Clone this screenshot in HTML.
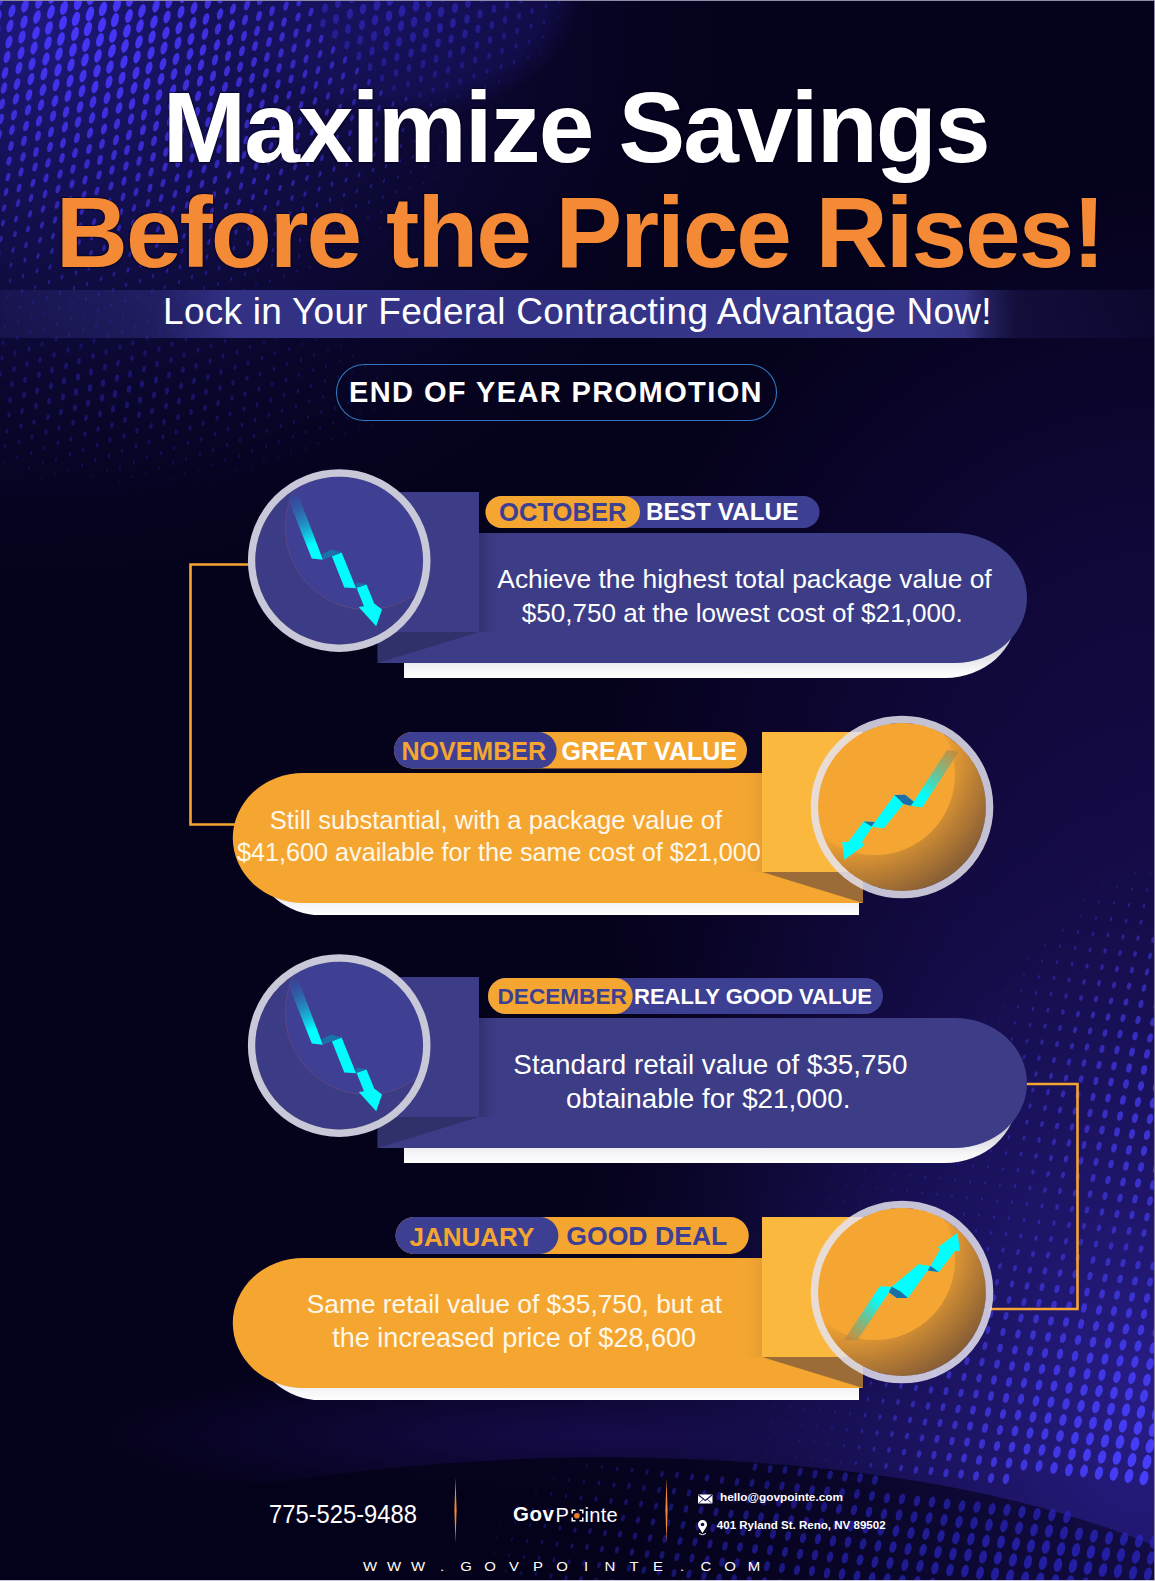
<!DOCTYPE html>
<html><head><meta charset="utf-8">
<style>
html,body{margin:0;padding:0;}
body{width:1155px;height:1581px;overflow:hidden;position:relative;background:#05021c;font-family:"Liberation Sans",sans-serif;}
#bg{position:absolute;left:0;top:0;}
.t{position:absolute;white-space:nowrap;line-height:1;}
.title1{left:0;width:1155px;text-align:center;top:76px;font-size:100px;font-weight:bold;color:#fff;letter-spacing:-2.4px;}
.title2{left:0;width:1155px;text-align:center;top:181px;font-size:100px;font-weight:bold;color:#f48a35;letter-spacing:-2.6px;}
.sub{left:0;width:1155px;text-align:center;top:291px;font-size:37px;color:#fff;}
.promo{left:336px;top:364px;width:441px;height:57px;border:1.5px solid #2b78d4;border-radius:29px;box-sizing:border-box;}
.promoT{left:336px;width:441px;text-align:center;top:378px;font-size:29px;font-weight:bold;color:#fff;letter-spacing:1.2px;}
.body{color:#fff;text-align:center;line-height:33px;font-size:26px;}
.ob{color:#fff8ea;}
.lab{font-weight:bold;font-size:25px;}
</style></head><body>
<svg id="bg" width="1155" height="1581" viewBox="0 0 1155 1581">
<defs>
 <linearGradient id="shW" x1="0" y1="0" x2="0" y2="1">
  <stop offset="0.75" stop-color="#cfcfd6"/><stop offset="0.92" stop-color="#f4f4f7"/><stop offset="1" stop-color="#ffffff"/>
 </linearGradient>
 <linearGradient id="sqShB" x1="0" y1="0" x2="1" y2="0">
  <stop offset="0" stop-color="#2c2d66" stop-opacity="0.7"/><stop offset="1" stop-color="#3c3d86" stop-opacity="0"/>
 </linearGradient>
 <linearGradient id="sqShO" x1="1" y1="0" x2="0" y2="0">
  <stop offset="0" stop-color="#b07a30" stop-opacity="0.22"/><stop offset="1" stop-color="#f5a631" stop-opacity="0"/>
 </linearGradient>
 <linearGradient id="band" x1="0" y1="0" x2="1" y2="0">
  <stop offset="0" stop-color="#2d2a7a" stop-opacity="0.3"/>
  <stop offset="0.13" stop-color="#2f2d80" stop-opacity="0.55"/>
  <stop offset="0.2" stop-color="#36358c" stop-opacity="0.9"/>
  <stop offset="0.8" stop-color="#3a3a92" stop-opacity="0.95"/>
  <stop offset="0.835" stop-color="#3d3d96" stop-opacity="0.85"/>
  <stop offset="0.88" stop-color="#2a2870" stop-opacity="0.3"/>
  <stop offset="1" stop-color="#2a2870" stop-opacity="0.1"/>
 </linearGradient>
 <radialGradient id="oCres" cx="0.2" cy="0.15" r="1.0">
  <stop offset="0.55" stop-color="#f2a333"/><stop offset="1" stop-color="#7a5535"/>
 </radialGradient>
 <linearGradient id="arB" gradientUnits="userSpaceOnUse" x1="290" y1="496" x2="312" y2="545">
  <stop offset="0" stop-color="#2e4aa0" stop-opacity="0.3"/><stop offset="1" stop-color="#00ffff"/>
 </linearGradient>
 <linearGradient id="arB3" gradientUnits="userSpaceOnUse" x1="290" y1="981" x2="312" y2="1030">
  <stop offset="0" stop-color="#2e4aa0" stop-opacity="0.3"/><stop offset="1" stop-color="#00ffff"/>
 </linearGradient>
 <linearGradient id="arO2" gradientUnits="userSpaceOnUse" x1="953" y1="752" x2="922" y2="795">
  <stop offset="0" stop-color="#b08a48" stop-opacity="0.7"/><stop offset="1" stop-color="#00ffff"/>
 </linearGradient>
 <linearGradient id="arO4" gradientUnits="userSpaceOnUse" x1="850" y1="1338" x2="880" y2="1300">
  <stop offset="0" stop-color="#b08a48" stop-opacity="0.7"/><stop offset="1" stop-color="#00ffff"/>
 </linearGradient>
 <clipPath id="cB1"><circle cx="339.2" cy="560.6" r="84"/></clipPath>
 <clipPath id="cB3"><circle cx="339.2" cy="1045.6" r="84"/></clipPath>
 <clipPath id="cO2"><circle cx="902" cy="807" r="84"/></clipPath>
 <clipPath id="cO4"><circle cx="902" cy="1292" r="84"/></clipPath>
</defs>
<rect width="1155" height="1581" fill="#05021c"/><defs>
<radialGradient id="gA" cx="0" cy="0" r="1" gradientUnits="userSpaceOnUse" gradientTransform="translate(40 30) scale(700 560)">
 <stop offset="0" stop-color="#221c8c" stop-opacity="0.85"/>
 <stop offset="0.45" stop-color="#17135a" stop-opacity="0.6"/>
 <stop offset="1" stop-color="#0a0630" stop-opacity="0"/>
</radialGradient>
<radialGradient id="gB" cx="0" cy="0" r="1" gradientUnits="userSpaceOnUse" gradientTransform="translate(1155 1400) scale(600 720)">
 <stop offset="0" stop-color="#281d88" stop-opacity="1"/>
 <stop offset="0.5" stop-color="#1b1360" stop-opacity="0.8"/>
 <stop offset="1" stop-color="#120c40" stop-opacity="0"/>
</radialGradient>
<radialGradient id="gT" cx="0" cy="0" r="1" gradientUnits="userSpaceOnUse" gradientTransform="translate(1155 820) scale(560 640)">
 <stop offset="0" stop-color="#140a44" stop-opacity="1"/>
 <stop offset="0.4" stop-color="#140a44" stop-opacity="0.75"/>
 <stop offset="1" stop-color="#140a44" stop-opacity="0"/>
</radialGradient>
<radialGradient id="gL" cx="0" cy="0" r="1" gradientUnits="userSpaceOnUse" gradientTransform="translate(620 1435) scale(520 75)">
 <stop offset="0" stop-color="#180d50" stop-opacity="0.9"/>
 <stop offset="1" stop-color="#180d50" stop-opacity="0"/>
</radialGradient>
<radialGradient id="gDome" cx="0.5" cy="0.5" r="0.5">
 <stop offset="0" stop-color="#1c1670" stop-opacity="0.7"/>
 <stop offset="0.8" stop-color="#1a1466" stop-opacity="0.5"/>
 <stop offset="1" stop-color="#1a1466" stop-opacity="0"/>
</radialGradient>
<linearGradient id="gArch" x1="0" y1="0" x2="1" y2="0">
 <stop offset="0" stop-color="#04021a" stop-opacity="0.92"/>
 <stop offset="0.55" stop-color="#04021a" stop-opacity="0.85"/>
 <stop offset="1" stop-color="#04021a" stop-opacity="0.5"/>
</linearGradient>
</defs>
<rect width="1155" height="1581" fill="url(#gT)"/>
<rect width="1155" height="1581" fill="url(#gL)"/>
<rect width="1155" height="1581" fill="url(#gA)"/>
<rect width="1155" height="1581" fill="url(#gB)"/>
<ellipse cx="395" cy="-10" rx="190" ry="130" fill="url(#gDome)"/>
<g fill="#4838ff"><ellipse cx="0" cy="0" rx="3.2" ry="6.3" opacity="0.85" transform="rotate(16 0 0)"/><ellipse cx="14" cy="-5" rx="3.3" ry="6.5" opacity="0.87" transform="rotate(16 14 -5)"/><ellipse cx="27" cy="-9" rx="3.3" ry="6.6" opacity="0.88" transform="rotate(16 27 -9)"/><ellipse cx="-2" cy="16" rx="3.2" ry="6.3" opacity="0.85" transform="rotate(16 -2 16)"/><ellipse cx="12" cy="11" rx="3.3" ry="6.5" opacity="0.87" transform="rotate(16 12 11)"/><ellipse cx="25" cy="6" rx="3.4" ry="6.7" opacity="0.89" transform="rotate(16 25 6)"/><ellipse cx="39" cy="2" rx="3.4" ry="6.9" opacity="0.91" transform="rotate(16 39 2)"/><ellipse cx="52" cy="-3" rx="3.5" ry="7.0" opacity="0.93" transform="rotate(16 52 -3)"/><ellipse cx="66" cy="-8" rx="3.5" ry="7.1" opacity="0.94" transform="rotate(16 66 -8)"/><ellipse cx="-3" cy="31" rx="3.1" ry="6.3" opacity="0.84" transform="rotate(16 -3 31)"/><ellipse cx="10" cy="26" rx="3.2" ry="6.5" opacity="0.87" transform="rotate(16 10 26)"/><ellipse cx="24" cy="22" rx="3.3" ry="6.7" opacity="0.89" transform="rotate(16 24 22)"/><ellipse cx="37" cy="17" rx="3.4" ry="6.9" opacity="0.91" transform="rotate(16 37 17)"/><ellipse cx="51" cy="12" rx="3.5" ry="7.1" opacity="0.94" transform="rotate(16 51 12)"/><ellipse cx="64" cy="8" rx="3.6" ry="7.2" opacity="0.96" transform="rotate(16 64 8)"/><ellipse cx="78" cy="3" rx="3.7" ry="7.3" opacity="0.97" transform="rotate(16 78 3)"/><ellipse cx="91" cy="-2" rx="3.7" ry="7.3" opacity="0.97" transform="rotate(16 91 -2)"/><ellipse cx="105" cy="-6" rx="3.6" ry="7.2" opacity="0.95" transform="rotate(16 105 -6)"/><ellipse cx="-5" cy="46" rx="3.1" ry="6.2" opacity="0.83" transform="rotate(16 -5 46)"/><ellipse cx="9" cy="42" rx="3.2" ry="6.4" opacity="0.85" transform="rotate(16 9 42)"/><ellipse cx="22" cy="37" rx="3.3" ry="6.6" opacity="0.88" transform="rotate(16 22 37)"/><ellipse cx="36" cy="33" rx="3.4" ry="6.8" opacity="0.90" transform="rotate(16 36 33)"/><ellipse cx="49" cy="28" rx="3.5" ry="7.0" opacity="0.93" transform="rotate(16 49 28)"/><ellipse cx="63" cy="23" rx="3.6" ry="7.2" opacity="0.95" transform="rotate(16 63 23)"/><ellipse cx="76" cy="19" rx="3.7" ry="7.4" opacity="0.98" transform="rotate(16 76 19)"/><ellipse cx="90" cy="14" rx="3.8" ry="7.6" opacity="1.00" transform="rotate(16 90 14)"/><ellipse cx="103" cy="9" rx="3.7" ry="7.4" opacity="0.98" transform="rotate(16 103 9)"/><ellipse cx="117" cy="5" rx="3.6" ry="7.2" opacity="0.95" transform="rotate(16 117 5)"/><ellipse cx="130" cy="0" rx="3.5" ry="7.0" opacity="0.93" transform="rotate(16 130 0)"/><ellipse cx="144" cy="-5" rx="3.4" ry="6.8" opacity="0.90" transform="rotate(16 144 -5)"/><ellipse cx="157" cy="-9" rx="3.3" ry="6.6" opacity="0.88" transform="rotate(16 157 -9)"/><ellipse cx="-6" cy="62" rx="3.0" ry="6.0" opacity="0.81" transform="rotate(16 -6 62)"/><ellipse cx="7" cy="57" rx="3.1" ry="6.2" opacity="0.84" transform="rotate(16 7 57)"/><ellipse cx="21" cy="53" rx="3.2" ry="6.4" opacity="0.86" transform="rotate(16 21 53)"/><ellipse cx="34" cy="48" rx="3.3" ry="6.6" opacity="0.88" transform="rotate(16 34 48)"/><ellipse cx="48" cy="43" rx="3.4" ry="6.8" opacity="0.91" transform="rotate(16 48 43)"/><ellipse cx="61" cy="39" rx="3.5" ry="7.0" opacity="0.93" transform="rotate(16 61 39)"/><ellipse cx="75" cy="34" rx="3.6" ry="7.2" opacity="0.95" transform="rotate(16 75 34)"/><ellipse cx="88" cy="29" rx="3.7" ry="7.4" opacity="0.97" transform="rotate(16 88 29)"/><ellipse cx="102" cy="25" rx="3.7" ry="7.4" opacity="0.97" transform="rotate(16 102 25)"/><ellipse cx="115" cy="20" rx="3.6" ry="7.3" opacity="0.96" transform="rotate(16 115 20)"/><ellipse cx="129" cy="16" rx="3.5" ry="7.1" opacity="0.94" transform="rotate(16 129 16)"/><ellipse cx="142" cy="11" rx="3.4" ry="6.9" opacity="0.91" transform="rotate(16 142 11)"/><ellipse cx="156" cy="6" rx="3.3" ry="6.7" opacity="0.89" transform="rotate(16 156 6)"/><ellipse cx="169" cy="2" rx="3.2" ry="6.5" opacity="0.87" transform="rotate(16 169 2)"/><ellipse cx="183" cy="-3" rx="3.1" ry="6.3" opacity="0.84" transform="rotate(16 183 -3)"/><ellipse cx="196" cy="-8" rx="3.0" ry="6.1" opacity="0.82" transform="rotate(16 196 -8)"/><ellipse cx="-8" cy="78" rx="2.9" ry="5.9" opacity="0.79" transform="rotate(16 -8 78)"/><ellipse cx="5" cy="73" rx="3.0" ry="6.1" opacity="0.81" transform="rotate(16 5 73)"/><ellipse cx="19" cy="68" rx="3.1" ry="6.3" opacity="0.84" transform="rotate(16 19 68)"/><ellipse cx="32" cy="64" rx="3.2" ry="6.4" opacity="0.86" transform="rotate(16 32 64)"/><ellipse cx="46" cy="59" rx="3.3" ry="6.6" opacity="0.88" transform="rotate(16 46 59)"/><ellipse cx="59" cy="54" rx="3.4" ry="6.8" opacity="0.90" transform="rotate(16 59 54)"/><ellipse cx="73" cy="50" rx="3.5" ry="7.0" opacity="0.92" transform="rotate(16 73 50)"/><ellipse cx="86" cy="45" rx="3.5" ry="7.1" opacity="0.94" transform="rotate(16 86 45)"/><ellipse cx="100" cy="40" rx="3.6" ry="7.1" opacity="0.95" transform="rotate(16 100 40)"/><ellipse cx="113" cy="36" rx="3.6" ry="7.1" opacity="0.94" transform="rotate(16 113 36)"/><ellipse cx="127" cy="31" rx="3.5" ry="7.0" opacity="0.93" transform="rotate(16 127 31)"/><ellipse cx="140" cy="26" rx="3.4" ry="6.9" opacity="0.91" transform="rotate(16 140 26)"/><ellipse cx="154" cy="22" rx="3.4" ry="6.7" opacity="0.89" transform="rotate(16 154 22)"/><ellipse cx="167" cy="17" rx="3.3" ry="6.5" opacity="0.87" transform="rotate(16 167 17)"/><ellipse cx="181" cy="12" rx="3.2" ry="6.4" opacity="0.85" transform="rotate(16 181 12)"/><ellipse cx="194" cy="8" rx="3.1" ry="6.2" opacity="0.83" transform="rotate(16 194 8)"/><ellipse cx="208" cy="3" rx="3.0" ry="6.0" opacity="0.80" transform="rotate(16 208 3)"/><ellipse cx="221" cy="-2" rx="2.9" ry="5.8" opacity="0.78" transform="rotate(16 221 -2)"/><ellipse cx="235" cy="-6" rx="2.8" ry="5.6" opacity="0.75" transform="rotate(16 235 -6)"/><ellipse cx="-10" cy="93" rx="2.8" ry="5.7" opacity="0.76" transform="rotate(16 -10 93)"/><ellipse cx="4" cy="88" rx="2.9" ry="5.8" opacity="0.79" transform="rotate(16 4 88)"/><ellipse cx="17" cy="84" rx="3.0" ry="6.0" opacity="0.81" transform="rotate(16 17 84)"/><ellipse cx="31" cy="79" rx="3.1" ry="6.2" opacity="0.83" transform="rotate(16 31 79)"/><ellipse cx="44" cy="74" rx="3.2" ry="6.4" opacity="0.85" transform="rotate(16 44 74)"/><ellipse cx="58" cy="70" rx="3.3" ry="6.6" opacity="0.87" transform="rotate(16 58 70)"/><ellipse cx="71" cy="65" rx="3.3" ry="6.7" opacity="0.89" transform="rotate(16 71 65)"/><ellipse cx="85" cy="60" rx="3.4" ry="6.8" opacity="0.90" transform="rotate(16 85 60)"/><ellipse cx="98" cy="56" rx="3.4" ry="6.9" opacity="0.91" transform="rotate(16 98 56)"/><ellipse cx="112" cy="51" rx="3.5" ry="6.9" opacity="0.92" transform="rotate(16 112 51)"/><ellipse cx="125" cy="46" rx="3.4" ry="6.9" opacity="0.91" transform="rotate(16 125 46)"/><ellipse cx="139" cy="42" rx="3.4" ry="6.8" opacity="0.90" transform="rotate(16 139 42)"/><ellipse cx="152" cy="37" rx="3.3" ry="6.7" opacity="0.89" transform="rotate(16 152 37)"/><ellipse cx="166" cy="33" rx="3.3" ry="6.5" opacity="0.87" transform="rotate(16 166 33)"/><ellipse cx="179" cy="28" rx="3.2" ry="6.4" opacity="0.85" transform="rotate(16 179 28)"/><ellipse cx="193" cy="23" rx="3.1" ry="6.2" opacity="0.83" transform="rotate(16 193 23)"/><ellipse cx="206" cy="19" rx="3.0" ry="6.0" opacity="0.81" transform="rotate(16 206 19)"/><ellipse cx="220" cy="14" rx="2.9" ry="5.8" opacity="0.78" transform="rotate(16 220 14)"/><ellipse cx="233" cy="9" rx="2.8" ry="5.6" opacity="0.76" transform="rotate(16 233 9)"/><ellipse cx="247" cy="5" rx="2.7" ry="5.4" opacity="0.73" transform="rotate(16 247 5)"/><ellipse cx="260" cy="0" rx="2.6" ry="5.2" opacity="0.71" transform="rotate(16 260 0)"/><ellipse cx="274" cy="-5" rx="2.5" ry="5.0" opacity="0.68" transform="rotate(16 274 -5)"/><ellipse cx="287" cy="-9" rx="2.4" ry="4.8" opacity="0.66" transform="rotate(16 287 -9)"/><ellipse cx="2" cy="104" rx="2.8" ry="5.6" opacity="0.76" transform="rotate(16 2 104)"/><ellipse cx="16" cy="99" rx="2.9" ry="5.8" opacity="0.78" transform="rotate(16 16 99)"/><ellipse cx="29" cy="95" rx="3.0" ry="6.0" opacity="0.80" transform="rotate(16 29 95)"/><ellipse cx="43" cy="90" rx="3.1" ry="6.1" opacity="0.82" transform="rotate(16 43 90)"/><ellipse cx="56" cy="85" rx="3.1" ry="6.3" opacity="0.84" transform="rotate(16 56 85)"/><ellipse cx="70" cy="81" rx="3.2" ry="6.4" opacity="0.86" transform="rotate(16 70 81)"/><ellipse cx="83" cy="76" rx="3.3" ry="6.5" opacity="0.87" transform="rotate(16 83 76)"/><ellipse cx="97" cy="71" rx="3.3" ry="6.6" opacity="0.88" transform="rotate(16 97 71)"/><ellipse cx="110" cy="67" rx="3.3" ry="6.7" opacity="0.89" transform="rotate(16 110 67)"/><ellipse cx="124" cy="62" rx="3.3" ry="6.7" opacity="0.89" transform="rotate(16 124 62)"/><ellipse cx="137" cy="57" rx="3.3" ry="6.6" opacity="0.88" transform="rotate(16 137 57)"/><ellipse cx="151" cy="53" rx="3.3" ry="6.5" opacity="0.87" transform="rotate(16 151 53)"/><ellipse cx="164" cy="48" rx="3.2" ry="6.4" opacity="0.86" transform="rotate(16 164 48)"/><ellipse cx="178" cy="43" rx="3.2" ry="6.3" opacity="0.84" transform="rotate(16 178 43)"/><ellipse cx="191" cy="39" rx="3.1" ry="6.2" opacity="0.82" transform="rotate(16 191 39)"/><ellipse cx="205" cy="34" rx="3.0" ry="6.0" opacity="0.80" transform="rotate(16 205 34)"/><ellipse cx="218" cy="29" rx="2.9" ry="5.8" opacity="0.78" transform="rotate(16 218 29)"/><ellipse cx="232" cy="25" rx="2.8" ry="5.6" opacity="0.76" transform="rotate(16 232 25)"/><ellipse cx="245" cy="20" rx="2.7" ry="5.4" opacity="0.74" transform="rotate(16 245 20)"/><ellipse cx="259" cy="16" rx="2.6" ry="5.2" opacity="0.71" transform="rotate(16 259 16)"/><ellipse cx="272" cy="11" rx="2.5" ry="5.0" opacity="0.69" transform="rotate(16 272 11)"/><ellipse cx="286" cy="6" rx="2.4" ry="4.8" opacity="0.66" transform="rotate(16 286 6)"/><ellipse cx="299" cy="2" rx="2.3" ry="4.6" opacity="0.64" transform="rotate(16 299 2)"/><ellipse cx="1" cy="119" rx="2.7" ry="5.4" opacity="0.73" transform="rotate(16 1 119)"/><ellipse cx="14" cy="115" rx="2.8" ry="5.5" opacity="0.75" transform="rotate(16 14 115)"/><ellipse cx="28" cy="110" rx="2.9" ry="5.7" opacity="0.77" transform="rotate(16 28 110)"/><ellipse cx="41" cy="105" rx="2.9" ry="5.9" opacity="0.79" transform="rotate(16 41 105)"/><ellipse cx="55" cy="101" rx="3.0" ry="6.0" opacity="0.81" transform="rotate(16 55 101)"/><ellipse cx="68" cy="96" rx="3.1" ry="6.2" opacity="0.82" transform="rotate(16 68 96)"/><ellipse cx="82" cy="91" rx="3.1" ry="6.3" opacity="0.84" transform="rotate(16 82 91)"/><ellipse cx="95" cy="87" rx="3.2" ry="6.4" opacity="0.85" transform="rotate(16 95 87)"/><ellipse cx="109" cy="82" rx="3.2" ry="6.4" opacity="0.86" transform="rotate(16 109 82)"/><ellipse cx="122" cy="78" rx="3.2" ry="6.4" opacity="0.86" transform="rotate(16 122 78)"/><ellipse cx="136" cy="73" rx="3.2" ry="6.4" opacity="0.86" transform="rotate(16 136 73)"/><ellipse cx="149" cy="68" rx="3.2" ry="6.4" opacity="0.85" transform="rotate(16 149 68)"/><ellipse cx="163" cy="64" rx="3.1" ry="6.3" opacity="0.84" transform="rotate(16 163 64)"/><ellipse cx="176" cy="59" rx="3.1" ry="6.2" opacity="0.83" transform="rotate(16 176 59)"/><ellipse cx="190" cy="54" rx="3.0" ry="6.1" opacity="0.81" transform="rotate(16 190 54)"/><ellipse cx="203" cy="50" rx="3.0" ry="5.9" opacity="0.80" transform="rotate(16 203 50)"/><ellipse cx="217" cy="45" rx="2.9" ry="5.8" opacity="0.78" transform="rotate(16 217 45)"/><ellipse cx="230" cy="40" rx="2.8" ry="5.6" opacity="0.76" transform="rotate(16 230 40)"/><ellipse cx="244" cy="36" rx="2.7" ry="5.4" opacity="0.74" transform="rotate(16 244 36)"/><ellipse cx="257" cy="31" rx="2.6" ry="5.2" opacity="0.71" transform="rotate(16 257 31)"/><ellipse cx="271" cy="26" rx="2.5" ry="5.1" opacity="0.69" transform="rotate(16 271 26)"/><ellipse cx="284" cy="22" rx="2.4" ry="4.9" opacity="0.67" transform="rotate(16 284 22)"/><ellipse cx="298" cy="17" rx="2.3" ry="4.7" opacity="0.64" transform="rotate(16 298 17)"/><ellipse cx="311" cy="12" rx="2.2" ry="4.5" opacity="0.62" transform="rotate(16 311 12)"/><ellipse cx="-1" cy="135" rx="2.6" ry="5.1" opacity="0.70" transform="rotate(16 -1 135)"/><ellipse cx="12" cy="130" rx="2.6" ry="5.3" opacity="0.72" transform="rotate(16 12 130)"/><ellipse cx="26" cy="126" rx="2.7" ry="5.4" opacity="0.74" transform="rotate(16 26 126)"/><ellipse cx="39" cy="121" rx="2.8" ry="5.6" opacity="0.76" transform="rotate(16 39 121)"/><ellipse cx="53" cy="116" rx="2.9" ry="5.7" opacity="0.77" transform="rotate(16 53 116)"/><ellipse cx="66" cy="112" rx="2.9" ry="5.9" opacity="0.79" transform="rotate(16 66 112)"/><ellipse cx="80" cy="107" rx="3.0" ry="6.0" opacity="0.80" transform="rotate(16 80 107)"/><ellipse cx="93" cy="102" rx="3.0" ry="6.1" opacity="0.81" transform="rotate(16 93 102)"/><ellipse cx="107" cy="98" rx="3.1" ry="6.1" opacity="0.82" transform="rotate(16 107 98)"/><ellipse cx="120" cy="93" rx="3.1" ry="6.2" opacity="0.83" transform="rotate(16 120 93)"/><ellipse cx="134" cy="88" rx="3.1" ry="6.2" opacity="0.83" transform="rotate(16 134 88)"/><ellipse cx="147" cy="84" rx="3.1" ry="6.2" opacity="0.83" transform="rotate(16 147 84)"/><ellipse cx="161" cy="79" rx="3.1" ry="6.1" opacity="0.82" transform="rotate(16 161 79)"/><ellipse cx="174" cy="74" rx="3.0" ry="6.0" opacity="0.81" transform="rotate(16 174 74)"/><ellipse cx="188" cy="70" rx="3.0" ry="5.9" opacity="0.80" transform="rotate(16 188 70)"/><ellipse cx="201" cy="65" rx="2.9" ry="5.8" opacity="0.78" transform="rotate(16 201 65)"/><ellipse cx="215" cy="60" rx="2.8" ry="5.7" opacity="0.77" transform="rotate(16 215 60)"/><ellipse cx="228" cy="56" rx="2.8" ry="5.5" opacity="0.75" transform="rotate(16 228 56)"/><ellipse cx="242" cy="51" rx="2.7" ry="5.4" opacity="0.73" transform="rotate(16 242 51)"/><ellipse cx="255" cy="46" rx="2.6" ry="5.2" opacity="0.71" transform="rotate(16 255 46)"/><ellipse cx="269" cy="42" rx="2.5" ry="5.0" opacity="0.69" transform="rotate(16 269 42)"/><ellipse cx="282" cy="37" rx="2.4" ry="4.9" opacity="0.67" transform="rotate(16 282 37)"/><ellipse cx="296" cy="33" rx="2.3" ry="4.7" opacity="0.64" transform="rotate(16 296 33)"/><ellipse cx="309" cy="28" rx="2.2" ry="4.5" opacity="0.62" transform="rotate(16 309 28)"/><ellipse cx="-3" cy="150" rx="2.4" ry="4.8" opacity="0.66" transform="rotate(16 -3 150)"/><ellipse cx="11" cy="146" rx="2.5" ry="5.0" opacity="0.69" transform="rotate(16 11 146)"/><ellipse cx="24" cy="141" rx="2.6" ry="5.2" opacity="0.71" transform="rotate(16 24 141)"/><ellipse cx="38" cy="136" rx="2.7" ry="5.3" opacity="0.72" transform="rotate(16 38 136)"/><ellipse cx="51" cy="132" rx="2.7" ry="5.5" opacity="0.74" transform="rotate(16 51 132)"/><ellipse cx="65" cy="127" rx="2.8" ry="5.6" opacity="0.76" transform="rotate(16 65 127)"/><ellipse cx="78" cy="122" rx="2.9" ry="5.7" opacity="0.77" transform="rotate(16 78 122)"/><ellipse cx="92" cy="118" rx="2.9" ry="5.8" opacity="0.78" transform="rotate(16 92 118)"/><ellipse cx="105" cy="113" rx="2.9" ry="5.9" opacity="0.79" transform="rotate(16 105 113)"/><ellipse cx="119" cy="108" rx="3.0" ry="5.9" opacity="0.80" transform="rotate(16 119 108)"/><ellipse cx="132" cy="104" rx="3.0" ry="5.9" opacity="0.80" transform="rotate(16 132 104)"/><ellipse cx="146" cy="99" rx="3.0" ry="5.9" opacity="0.80" transform="rotate(16 146 99)"/><ellipse cx="159" cy="95" rx="3.0" ry="5.9" opacity="0.79" transform="rotate(16 159 95)"/><ellipse cx="173" cy="90" rx="2.9" ry="5.9" opacity="0.79" transform="rotate(16 173 90)"/><ellipse cx="186" cy="85" rx="2.9" ry="5.8" opacity="0.78" transform="rotate(16 186 85)"/><ellipse cx="200" cy="81" rx="2.8" ry="5.7" opacity="0.77" transform="rotate(16 200 81)"/><ellipse cx="213" cy="76" rx="2.8" ry="5.6" opacity="0.75" transform="rotate(16 213 76)"/><ellipse cx="227" cy="71" rx="2.7" ry="5.5" opacity="0.74" transform="rotate(16 227 71)"/><ellipse cx="240" cy="67" rx="2.7" ry="5.3" opacity="0.72" transform="rotate(16 240 67)"/><ellipse cx="254" cy="62" rx="2.6" ry="5.2" opacity="0.70" transform="rotate(16 254 62)"/><ellipse cx="267" cy="57" rx="2.5" ry="5.0" opacity="0.68" transform="rotate(16 267 57)"/><ellipse cx="281" cy="53" rx="2.4" ry="4.8" opacity="0.66" transform="rotate(16 281 53)"/><ellipse cx="294" cy="48" rx="2.3" ry="4.6" opacity="0.64" transform="rotate(16 294 48)"/><ellipse cx="308" cy="43" rx="2.2" ry="4.5" opacity="0.62" transform="rotate(16 308 43)"/><ellipse cx="321" cy="39" rx="2.1" ry="4.3" opacity="0.59" transform="rotate(16 321 39)"/><ellipse cx="-4" cy="166" rx="2.3" ry="4.6" opacity="0.63" transform="rotate(16 -4 166)"/><ellipse cx="9" cy="161" rx="2.4" ry="4.7" opacity="0.65" transform="rotate(16 9 161)"/><ellipse cx="23" cy="157" rx="2.4" ry="4.9" opacity="0.67" transform="rotate(16 23 157)"/><ellipse cx="36" cy="152" rx="2.5" ry="5.0" opacity="0.69" transform="rotate(16 36 152)"/><ellipse cx="50" cy="147" rx="2.6" ry="5.2" opacity="0.71" transform="rotate(16 50 147)"/><ellipse cx="63" cy="143" rx="2.7" ry="5.3" opacity="0.72" transform="rotate(16 63 143)"/><ellipse cx="77" cy="138" rx="2.7" ry="5.4" opacity="0.73" transform="rotate(16 77 138)"/><ellipse cx="90" cy="133" rx="2.8" ry="5.5" opacity="0.75" transform="rotate(16 90 133)"/><ellipse cx="104" cy="129" rx="2.8" ry="5.6" opacity="0.76" transform="rotate(16 104 129)"/><ellipse cx="117" cy="124" rx="2.8" ry="5.6" opacity="0.76" transform="rotate(16 117 124)"/><ellipse cx="131" cy="119" rx="2.8" ry="5.7" opacity="0.77" transform="rotate(16 131 119)"/><ellipse cx="144" cy="115" rx="2.8" ry="5.7" opacity="0.77" transform="rotate(16 144 115)"/><ellipse cx="158" cy="110" rx="2.8" ry="5.7" opacity="0.77" transform="rotate(16 158 110)"/><ellipse cx="171" cy="105" rx="2.8" ry="5.6" opacity="0.76" transform="rotate(16 171 105)"/><ellipse cx="185" cy="101" rx="2.8" ry="5.6" opacity="0.76" transform="rotate(16 185 101)"/><ellipse cx="198" cy="96" rx="2.8" ry="5.5" opacity="0.75" transform="rotate(16 198 96)"/><ellipse cx="212" cy="91" rx="2.7" ry="5.4" opacity="0.74" transform="rotate(16 212 91)"/><ellipse cx="225" cy="87" rx="2.7" ry="5.3" opacity="0.72" transform="rotate(16 225 87)"/><ellipse cx="239" cy="82" rx="2.6" ry="5.2" opacity="0.71" transform="rotate(16 239 82)"/><ellipse cx="252" cy="78" rx="2.5" ry="5.1" opacity="0.69" transform="rotate(16 252 78)"/><ellipse cx="266" cy="73" rx="2.5" ry="4.9" opacity="0.67" transform="rotate(16 266 73)"/><ellipse cx="279" cy="68" rx="2.4" ry="4.8" opacity="0.65" transform="rotate(16 279 68)"/><ellipse cx="293" cy="64" rx="2.3" ry="4.6" opacity="0.63" transform="rotate(16 293 64)"/><ellipse cx="306" cy="59" rx="2.2" ry="4.4" opacity="0.61" transform="rotate(16 306 59)"/><ellipse cx="320" cy="54" rx="2.1" ry="4.2" opacity="0.59" transform="rotate(16 320 54)"/><ellipse cx="333" cy="50" rx="2.0" ry="4.0" opacity="0.57" transform="rotate(16 333 50)"/><ellipse cx="-6" cy="181" rx="2.1" ry="4.3" opacity="0.60" transform="rotate(16 -6 181)"/><ellipse cx="8" cy="177" rx="2.2" ry="4.4" opacity="0.62" transform="rotate(16 8 177)"/><ellipse cx="21" cy="172" rx="2.3" ry="4.6" opacity="0.64" transform="rotate(16 21 172)"/><ellipse cx="35" cy="167" rx="2.4" ry="4.7" opacity="0.65" transform="rotate(16 35 167)"/><ellipse cx="48" cy="163" rx="2.4" ry="4.9" opacity="0.67" transform="rotate(16 48 163)"/><ellipse cx="62" cy="158" rx="2.5" ry="5.0" opacity="0.69" transform="rotate(16 62 158)"/><ellipse cx="75" cy="153" rx="2.6" ry="5.1" opacity="0.70" transform="rotate(16 75 153)"/><ellipse cx="89" cy="149" rx="2.6" ry="5.2" opacity="0.71" transform="rotate(16 89 149)"/><ellipse cx="102" cy="144" rx="2.6" ry="5.3" opacity="0.72" transform="rotate(16 102 144)"/><ellipse cx="116" cy="140" rx="2.7" ry="5.4" opacity="0.73" transform="rotate(16 116 140)"/><ellipse cx="129" cy="135" rx="2.7" ry="5.4" opacity="0.73" transform="rotate(16 129 135)"/><ellipse cx="143" cy="130" rx="2.7" ry="5.4" opacity="0.74" transform="rotate(16 143 130)"/><ellipse cx="156" cy="126" rx="2.7" ry="5.4" opacity="0.74" transform="rotate(16 156 126)"/><ellipse cx="170" cy="121" rx="2.7" ry="5.4" opacity="0.74" transform="rotate(16 170 121)"/><ellipse cx="183" cy="116" rx="2.7" ry="5.4" opacity="0.73" transform="rotate(16 183 116)"/><ellipse cx="197" cy="112" rx="2.7" ry="5.3" opacity="0.72" transform="rotate(16 197 112)"/><ellipse cx="210" cy="107" rx="2.6" ry="5.3" opacity="0.72" transform="rotate(16 210 107)"/><ellipse cx="224" cy="102" rx="2.6" ry="5.2" opacity="0.70" transform="rotate(16 224 102)"/><ellipse cx="237" cy="98" rx="2.5" ry="5.1" opacity="0.69" transform="rotate(16 237 98)"/><ellipse cx="251" cy="93" rx="2.5" ry="4.9" opacity="0.68" transform="rotate(16 251 93)"/><ellipse cx="264" cy="88" rx="2.4" ry="4.8" opacity="0.66" transform="rotate(16 264 88)"/><ellipse cx="278" cy="84" rx="2.3" ry="4.7" opacity="0.64" transform="rotate(16 278 84)"/><ellipse cx="291" cy="79" rx="2.3" ry="4.5" opacity="0.63" transform="rotate(16 291 79)"/><ellipse cx="305" cy="74" rx="2.2" ry="4.4" opacity="0.61" transform="rotate(16 305 74)"/><ellipse cx="318" cy="70" rx="2.1" ry="4.2" opacity="0.58" transform="rotate(16 318 70)"/><ellipse cx="332" cy="65" rx="2.0" ry="4.0" opacity="0.56" transform="rotate(16 332 65)"/><ellipse cx="345" cy="60" rx="1.9" ry="3.8" opacity="0.54" transform="rotate(16 345 60)"/><ellipse cx="-8" cy="197" rx="2.0" ry="4.0" opacity="0.56" transform="rotate(16 -8 197)"/><ellipse cx="6" cy="192" rx="2.1" ry="4.1" opacity="0.58" transform="rotate(16 6 192)"/><ellipse cx="19" cy="188" rx="2.2" ry="4.3" opacity="0.60" transform="rotate(16 19 188)"/><ellipse cx="33" cy="183" rx="2.2" ry="4.4" opacity="0.62" transform="rotate(16 33 183)"/><ellipse cx="46" cy="178" rx="2.3" ry="4.6" opacity="0.63" transform="rotate(16 46 178)"/><ellipse cx="60" cy="174" rx="2.4" ry="4.7" opacity="0.65" transform="rotate(16 60 174)"/><ellipse cx="73" cy="169" rx="2.4" ry="4.8" opacity="0.66" transform="rotate(16 73 169)"/><ellipse cx="87" cy="164" rx="2.5" ry="4.9" opacity="0.67" transform="rotate(16 87 164)"/><ellipse cx="100" cy="160" rx="2.5" ry="5.0" opacity="0.69" transform="rotate(16 100 160)"/><ellipse cx="114" cy="155" rx="2.5" ry="5.1" opacity="0.69" transform="rotate(16 114 155)"/><ellipse cx="127" cy="150" rx="2.6" ry="5.1" opacity="0.70" transform="rotate(16 127 150)"/><ellipse cx="141" cy="146" rx="2.6" ry="5.2" opacity="0.70" transform="rotate(16 141 146)"/><ellipse cx="154" cy="141" rx="2.6" ry="5.2" opacity="0.71" transform="rotate(16 154 141)"/><ellipse cx="168" cy="136" rx="2.6" ry="5.2" opacity="0.71" transform="rotate(16 168 136)"/><ellipse cx="181" cy="132" rx="2.6" ry="5.2" opacity="0.70" transform="rotate(16 181 132)"/><ellipse cx="195" cy="127" rx="2.6" ry="5.1" opacity="0.70" transform="rotate(16 195 127)"/><ellipse cx="208" cy="122" rx="2.5" ry="5.1" opacity="0.69" transform="rotate(16 208 122)"/><ellipse cx="222" cy="118" rx="2.5" ry="5.0" opacity="0.68" transform="rotate(16 222 118)"/><ellipse cx="235" cy="113" rx="2.4" ry="4.9" opacity="0.67" transform="rotate(16 235 113)"/><ellipse cx="249" cy="108" rx="2.4" ry="4.8" opacity="0.66" transform="rotate(16 249 108)"/><ellipse cx="262" cy="104" rx="2.3" ry="4.7" opacity="0.65" transform="rotate(16 262 104)"/><ellipse cx="276" cy="99" rx="2.3" ry="4.5" opacity="0.63" transform="rotate(16 276 99)"/><ellipse cx="289" cy="95" rx="2.2" ry="4.4" opacity="0.61" transform="rotate(16 289 95)"/><ellipse cx="303" cy="90" rx="2.1" ry="4.3" opacity="0.59" transform="rotate(16 303 90)"/><ellipse cx="316" cy="85" rx="2.0" ry="4.1" opacity="0.57" transform="rotate(16 316 85)"/><ellipse cx="330" cy="81" rx="2.0" ry="3.9" opacity="0.55" transform="rotate(16 330 81)"/><ellipse cx="343" cy="76" rx="1.9" ry="3.8" opacity="0.53" transform="rotate(16 343 76)"/><ellipse cx="357" cy="71" rx="1.8" ry="3.6" opacity="0.51" transform="rotate(16 357 71)"/><ellipse cx="-9" cy="212" rx="1.8" ry="3.7" opacity="0.52" transform="rotate(16 -9 212)"/><ellipse cx="4" cy="208" rx="1.9" ry="3.8" opacity="0.54" transform="rotate(16 4 208)"/><ellipse cx="18" cy="203" rx="2.0" ry="4.0" opacity="0.56" transform="rotate(16 18 203)"/><ellipse cx="31" cy="198" rx="2.1" ry="4.1" opacity="0.58" transform="rotate(16 31 198)"/><ellipse cx="45" cy="194" rx="2.1" ry="4.3" opacity="0.60" transform="rotate(16 45 194)"/><ellipse cx="58" cy="189" rx="2.2" ry="4.4" opacity="0.61" transform="rotate(16 58 189)"/><ellipse cx="72" cy="184" rx="2.3" ry="4.5" opacity="0.63" transform="rotate(16 72 184)"/><ellipse cx="85" cy="180" rx="2.3" ry="4.6" opacity="0.64" transform="rotate(16 85 180)"/><ellipse cx="99" cy="175" rx="2.4" ry="4.7" opacity="0.65" transform="rotate(16 99 175)"/><ellipse cx="112" cy="170" rx="2.4" ry="4.8" opacity="0.66" transform="rotate(16 112 170)"/><ellipse cx="126" cy="166" rx="2.4" ry="4.8" opacity="0.67" transform="rotate(16 126 166)"/><ellipse cx="139" cy="161" rx="2.4" ry="4.9" opacity="0.67" transform="rotate(16 139 161)"/><ellipse cx="153" cy="157" rx="2.5" ry="4.9" opacity="0.67" transform="rotate(16 153 157)"/><ellipse cx="166" cy="152" rx="2.5" ry="4.9" opacity="0.67" transform="rotate(16 166 152)"/><ellipse cx="180" cy="147" rx="2.5" ry="4.9" opacity="0.67" transform="rotate(16 180 147)"/><ellipse cx="193" cy="143" rx="2.4" ry="4.9" opacity="0.67" transform="rotate(16 193 143)"/><ellipse cx="207" cy="138" rx="2.4" ry="4.8" opacity="0.67" transform="rotate(16 207 138)"/><ellipse cx="220" cy="133" rx="2.4" ry="4.8" opacity="0.66" transform="rotate(16 220 133)"/><ellipse cx="234" cy="129" rx="2.4" ry="4.7" opacity="0.65" transform="rotate(16 234 129)"/><ellipse cx="247" cy="124" rx="2.3" ry="4.6" opacity="0.64" transform="rotate(16 247 124)"/><ellipse cx="261" cy="119" rx="2.3" ry="4.5" opacity="0.63" transform="rotate(16 261 119)"/><ellipse cx="274" cy="115" rx="2.2" ry="4.4" opacity="0.61" transform="rotate(16 274 115)"/><ellipse cx="288" cy="110" rx="2.1" ry="4.3" opacity="0.60" transform="rotate(16 288 110)"/><ellipse cx="301" cy="105" rx="2.1" ry="4.1" opacity="0.58" transform="rotate(16 301 105)"/><ellipse cx="315" cy="101" rx="2.0" ry="4.0" opacity="0.56" transform="rotate(16 315 101)"/><ellipse cx="328" cy="96" rx="1.9" ry="3.8" opacity="0.54" transform="rotate(16 328 96)"/><ellipse cx="342" cy="91" rx="1.8" ry="3.7" opacity="0.52" transform="rotate(16 342 91)"/><ellipse cx="355" cy="87" rx="1.7" ry="3.5" opacity="0.50" transform="rotate(16 355 87)"/><ellipse cx="369" cy="82" rx="1.7" ry="3.3" opacity="0.48" transform="rotate(16 369 82)"/><ellipse cx="3" cy="223" rx="1.8" ry="3.5" opacity="0.50" transform="rotate(16 3 223)"/><ellipse cx="16" cy="219" rx="1.8" ry="3.7" opacity="0.52" transform="rotate(16 16 219)"/><ellipse cx="30" cy="214" rx="1.9" ry="3.8" opacity="0.54" transform="rotate(16 30 214)"/><ellipse cx="43" cy="209" rx="2.0" ry="4.0" opacity="0.56" transform="rotate(16 43 209)"/><ellipse cx="57" cy="205" rx="2.0" ry="4.1" opacity="0.57" transform="rotate(16 57 205)"/><ellipse cx="70" cy="200" rx="2.1" ry="4.2" opacity="0.59" transform="rotate(16 70 200)"/><ellipse cx="84" cy="195" rx="2.2" ry="4.3" opacity="0.60" transform="rotate(16 84 195)"/><ellipse cx="97" cy="191" rx="2.2" ry="4.4" opacity="0.61" transform="rotate(16 97 191)"/><ellipse cx="111" cy="186" rx="2.2" ry="4.5" opacity="0.62" transform="rotate(16 111 186)"/><ellipse cx="124" cy="181" rx="2.3" ry="4.6" opacity="0.63" transform="rotate(16 124 181)"/><ellipse cx="138" cy="177" rx="2.3" ry="4.6" opacity="0.64" transform="rotate(16 138 177)"/><ellipse cx="151" cy="172" rx="2.3" ry="4.6" opacity="0.64" transform="rotate(16 151 172)"/><ellipse cx="165" cy="167" rx="2.3" ry="4.7" opacity="0.64" transform="rotate(16 165 167)"/><ellipse cx="178" cy="163" rx="2.3" ry="4.7" opacity="0.64" transform="rotate(16 178 163)"/><ellipse cx="192" cy="158" rx="2.3" ry="4.6" opacity="0.64" transform="rotate(16 192 158)"/><ellipse cx="205" cy="153" rx="2.3" ry="4.6" opacity="0.64" transform="rotate(16 205 153)"/><ellipse cx="219" cy="149" rx="2.3" ry="4.6" opacity="0.63" transform="rotate(16 219 149)"/><ellipse cx="232" cy="144" rx="2.3" ry="4.5" opacity="0.62" transform="rotate(16 232 144)"/><ellipse cx="246" cy="140" rx="2.2" ry="4.4" opacity="0.62" transform="rotate(16 246 140)"/><ellipse cx="259" cy="135" rx="2.2" ry="4.3" opacity="0.60" transform="rotate(16 259 135)"/><ellipse cx="273" cy="130" rx="2.1" ry="4.2" opacity="0.59" transform="rotate(16 273 130)"/><ellipse cx="286" cy="126" rx="2.1" ry="4.1" opacity="0.58" transform="rotate(16 286 126)"/><ellipse cx="300" cy="121" rx="2.0" ry="4.0" opacity="0.56" transform="rotate(16 300 121)"/><ellipse cx="313" cy="116" rx="1.9" ry="3.9" opacity="0.55" transform="rotate(16 313 116)"/><ellipse cx="327" cy="112" rx="1.9" ry="3.7" opacity="0.53" transform="rotate(16 327 112)"/><ellipse cx="340" cy="107" rx="1.8" ry="3.6" opacity="0.51" transform="rotate(16 340 107)"/><ellipse cx="354" cy="102" rx="1.7" ry="3.4" opacity="0.49" transform="rotate(16 354 102)"/><ellipse cx="367" cy="98" rx="1.6" ry="3.2" opacity="0.47" transform="rotate(16 367 98)"/><ellipse cx="381" cy="93" rx="1.5" ry="3.0" opacity="0.45" transform="rotate(16 381 93)"/><ellipse cx="1" cy="239" rx="1.6" ry="3.2" opacity="0.47" transform="rotate(16 1 239)"/><ellipse cx="15" cy="234" rx="1.7" ry="3.4" opacity="0.49" transform="rotate(16 15 234)"/><ellipse cx="28" cy="229" rx="1.8" ry="3.5" opacity="0.50" transform="rotate(16 28 229)"/><ellipse cx="42" cy="225" rx="1.8" ry="3.7" opacity="0.52" transform="rotate(16 42 225)"/><ellipse cx="55" cy="220" rx="1.9" ry="3.8" opacity="0.54" transform="rotate(16 55 220)"/><ellipse cx="69" cy="215" rx="1.9" ry="3.9" opacity="0.55" transform="rotate(16 69 215)"/><ellipse cx="82" cy="211" rx="2.0" ry="4.0" opacity="0.56" transform="rotate(16 82 211)"/><ellipse cx="96" cy="206" rx="2.1" ry="4.1" opacity="0.58" transform="rotate(16 96 206)"/><ellipse cx="109" cy="202" rx="2.1" ry="4.2" opacity="0.59" transform="rotate(16 109 202)"/><ellipse cx="123" cy="197" rx="2.1" ry="4.3" opacity="0.59" transform="rotate(16 123 197)"/><ellipse cx="136" cy="192" rx="2.2" ry="4.3" opacity="0.60" transform="rotate(16 136 192)"/><ellipse cx="150" cy="188" rx="2.2" ry="4.3" opacity="0.61" transform="rotate(16 150 188)"/><ellipse cx="163" cy="183" rx="2.2" ry="4.4" opacity="0.61" transform="rotate(16 163 183)"/><ellipse cx="177" cy="178" rx="2.2" ry="4.4" opacity="0.61" transform="rotate(16 177 178)"/><ellipse cx="190" cy="174" rx="2.2" ry="4.4" opacity="0.61" transform="rotate(16 190 174)"/><ellipse cx="204" cy="169" rx="2.2" ry="4.4" opacity="0.61" transform="rotate(16 204 169)"/><ellipse cx="217" cy="164" rx="2.2" ry="4.3" opacity="0.60" transform="rotate(16 217 164)"/><ellipse cx="231" cy="160" rx="2.1" ry="4.3" opacity="0.60" transform="rotate(16 231 160)"/><ellipse cx="244" cy="155" rx="2.1" ry="4.2" opacity="0.59" transform="rotate(16 244 155)"/><ellipse cx="258" cy="150" rx="2.1" ry="4.1" opacity="0.58" transform="rotate(16 258 150)"/><ellipse cx="271" cy="146" rx="2.0" ry="4.1" opacity="0.57" transform="rotate(16 271 146)"/><ellipse cx="285" cy="141" rx="2.0" ry="4.0" opacity="0.56" transform="rotate(16 285 141)"/><ellipse cx="298" cy="136" rx="1.9" ry="3.8" opacity="0.54" transform="rotate(16 298 136)"/><ellipse cx="312" cy="132" rx="1.9" ry="3.7" opacity="0.53" transform="rotate(16 312 132)"/><ellipse cx="325" cy="127" rx="1.8" ry="3.6" opacity="0.51" transform="rotate(16 325 127)"/><ellipse cx="339" cy="122" rx="1.7" ry="3.4" opacity="0.50" transform="rotate(16 339 122)"/><ellipse cx="352" cy="118" rx="1.6" ry="3.3" opacity="0.48" transform="rotate(16 352 118)"/><ellipse cx="366" cy="113" rx="1.6" ry="3.1" opacity="0.46" transform="rotate(16 366 113)"/><ellipse cx="379" cy="108" rx="1.5" ry="3.0" opacity="0.44" transform="rotate(16 379 108)"/><ellipse cx="393" cy="104" rx="1.4" ry="2.8" opacity="0.41" transform="rotate(16 393 104)"/><ellipse cx="406" cy="99" rx="1.3" ry="2.6" opacity="0.39" transform="rotate(16 406 99)"/><ellipse cx="-1" cy="254" rx="1.4" ry="2.9" opacity="0.42" transform="rotate(16 -1 254)"/><ellipse cx="13" cy="250" rx="1.5" ry="3.0" opacity="0.44" transform="rotate(16 13 250)"/><ellipse cx="26" cy="245" rx="1.6" ry="3.2" opacity="0.46" transform="rotate(16 26 245)"/><ellipse cx="40" cy="240" rx="1.7" ry="3.3" opacity="0.48" transform="rotate(16 40 240)"/><ellipse cx="53" cy="236" rx="1.7" ry="3.5" opacity="0.50" transform="rotate(16 53 236)"/><ellipse cx="67" cy="231" rx="1.8" ry="3.6" opacity="0.51" transform="rotate(16 67 231)"/><ellipse cx="80" cy="226" rx="1.8" ry="3.7" opacity="0.52" transform="rotate(16 80 226)"/><ellipse cx="94" cy="222" rx="1.9" ry="3.8" opacity="0.54" transform="rotate(16 94 222)"/><ellipse cx="107" cy="217" rx="1.9" ry="3.9" opacity="0.55" transform="rotate(16 107 217)"/><ellipse cx="121" cy="212" rx="2.0" ry="3.9" opacity="0.56" transform="rotate(16 121 212)"/><ellipse cx="134" cy="208" rx="2.0" ry="4.0" opacity="0.56" transform="rotate(16 134 208)"/><ellipse cx="148" cy="203" rx="2.0" ry="4.1" opacity="0.57" transform="rotate(16 148 203)"/><ellipse cx="161" cy="198" rx="2.0" ry="4.1" opacity="0.57" transform="rotate(16 161 198)"/><ellipse cx="175" cy="194" rx="2.1" ry="4.1" opacity="0.58" transform="rotate(16 175 194)"/><ellipse cx="188" cy="189" rx="2.1" ry="4.1" opacity="0.58" transform="rotate(16 188 189)"/><ellipse cx="202" cy="184" rx="2.1" ry="4.1" opacity="0.58" transform="rotate(16 202 184)"/><ellipse cx="215" cy="180" rx="2.0" ry="4.1" opacity="0.57" transform="rotate(16 215 180)"/><ellipse cx="229" cy="175" rx="2.0" ry="4.0" opacity="0.57" transform="rotate(16 229 175)"/><ellipse cx="242" cy="170" rx="2.0" ry="4.0" opacity="0.56" transform="rotate(16 242 170)"/><ellipse cx="256" cy="166" rx="2.0" ry="3.9" opacity="0.55" transform="rotate(16 256 166)"/><ellipse cx="269" cy="161" rx="1.9" ry="3.9" opacity="0.55" transform="rotate(16 269 161)"/><ellipse cx="283" cy="157" rx="1.9" ry="3.8" opacity="0.53" transform="rotate(16 283 157)"/><ellipse cx="296" cy="152" rx="1.8" ry="3.7" opacity="0.52" transform="rotate(16 296 152)"/><ellipse cx="310" cy="147" rx="1.8" ry="3.6" opacity="0.51" transform="rotate(16 310 147)"/><ellipse cx="323" cy="143" rx="1.7" ry="3.4" opacity="0.49" transform="rotate(16 323 143)"/><ellipse cx="337" cy="138" rx="1.6" ry="3.3" opacity="0.48" transform="rotate(16 337 138)"/><ellipse cx="350" cy="133" rx="1.6" ry="3.2" opacity="0.46" transform="rotate(16 350 133)"/><ellipse cx="364" cy="129" rx="1.5" ry="3.0" opacity="0.44" transform="rotate(16 364 129)"/><ellipse cx="377" cy="124" rx="1.4" ry="2.8" opacity="0.42" transform="rotate(16 377 124)"/><ellipse cx="391" cy="119" rx="1.3" ry="2.7" opacity="0.40" transform="rotate(16 391 119)"/><ellipse cx="404" cy="115" rx="1.2" ry="2.5" opacity="0.38" transform="rotate(16 404 115)"/><ellipse cx="418" cy="110" rx="1.1" ry="2.3" opacity="0.35" transform="rotate(16 418 110)"/><ellipse cx="431" cy="105" rx="1.0" ry="2.1" opacity="0.33" transform="rotate(16 431 105)"/><ellipse cx="-2" cy="270" rx="1.3" ry="2.5" opacity="0.38" transform="rotate(16 -2 270)"/><ellipse cx="11" cy="265" rx="1.3" ry="2.7" opacity="0.40" transform="rotate(16 11 265)"/><ellipse cx="25" cy="260" rx="1.4" ry="2.8" opacity="0.42" transform="rotate(16 25 260)"/><ellipse cx="38" cy="256" rx="1.5" ry="3.0" opacity="0.44" transform="rotate(16 38 256)"/><ellipse cx="52" cy="251" rx="1.6" ry="3.1" opacity="0.46" transform="rotate(16 52 251)"/><ellipse cx="65" cy="246" rx="1.6" ry="3.2" opacity="0.47" transform="rotate(16 65 246)"/><ellipse cx="79" cy="242" rx="1.7" ry="3.4" opacity="0.48" transform="rotate(16 79 242)"/><ellipse cx="92" cy="237" rx="1.7" ry="3.5" opacity="0.50" transform="rotate(16 92 237)"/><ellipse cx="106" cy="232" rx="1.8" ry="3.6" opacity="0.51" transform="rotate(16 106 232)"/><ellipse cx="119" cy="228" rx="1.8" ry="3.6" opacity="0.52" transform="rotate(16 119 228)"/><ellipse cx="133" cy="223" rx="1.8" ry="3.7" opacity="0.53" transform="rotate(16 133 223)"/><ellipse cx="146" cy="219" rx="1.9" ry="3.8" opacity="0.53" transform="rotate(16 146 219)"/><ellipse cx="160" cy="214" rx="1.9" ry="3.8" opacity="0.54" transform="rotate(16 160 214)"/><ellipse cx="173" cy="209" rx="1.9" ry="3.8" opacity="0.54" transform="rotate(16 173 209)"/><ellipse cx="187" cy="205" rx="1.9" ry="3.8" opacity="0.54" transform="rotate(16 187 205)"/><ellipse cx="200" cy="200" rx="1.9" ry="3.8" opacity="0.54" transform="rotate(16 200 200)"/><ellipse cx="214" cy="195" rx="1.9" ry="3.8" opacity="0.54" transform="rotate(16 214 195)"/><ellipse cx="227" cy="191" rx="1.9" ry="3.8" opacity="0.54" transform="rotate(16 227 191)"/><ellipse cx="241" cy="186" rx="1.9" ry="3.8" opacity="0.53" transform="rotate(16 241 186)"/><ellipse cx="254" cy="181" rx="1.9" ry="3.7" opacity="0.53" transform="rotate(16 254 181)"/><ellipse cx="268" cy="177" rx="1.8" ry="3.6" opacity="0.52" transform="rotate(16 268 177)"/><ellipse cx="281" cy="172" rx="1.8" ry="3.6" opacity="0.51" transform="rotate(16 281 172)"/><ellipse cx="295" cy="167" rx="1.7" ry="3.5" opacity="0.50" transform="rotate(16 295 167)"/><ellipse cx="308" cy="163" rx="1.7" ry="3.4" opacity="0.49" transform="rotate(16 308 163)"/><ellipse cx="322" cy="158" rx="1.6" ry="3.3" opacity="0.47" transform="rotate(16 322 158)"/><ellipse cx="335" cy="153" rx="1.6" ry="3.1" opacity="0.46" transform="rotate(16 335 153)"/><ellipse cx="349" cy="149" rx="1.5" ry="3.0" opacity="0.44" transform="rotate(16 349 149)"/><ellipse cx="362" cy="144" rx="1.4" ry="2.9" opacity="0.42" transform="rotate(16 362 144)"/><ellipse cx="376" cy="140" rx="1.3" ry="2.7" opacity="0.40" transform="rotate(16 376 140)"/><ellipse cx="389" cy="135" rx="1.3" ry="2.5" opacity="0.38" transform="rotate(16 389 135)"/><ellipse cx="403" cy="130" rx="1.2" ry="2.4" opacity="0.36" transform="rotate(16 403 130)"/><ellipse cx="416" cy="126" rx="1.1" ry="2.2" opacity="0.34" transform="rotate(16 416 126)"/><ellipse cx="430" cy="121" rx="1.0" ry="2.0" opacity="0.32" transform="rotate(16 430 121)"/><ellipse cx="443" cy="116" rx="0.9" ry="1.7" opacity="0.29" transform="rotate(16 443 116)"/><ellipse cx="457" cy="112" rx="0.8" ry="1.5" opacity="0.26" transform="rotate(16 457 112)"/><ellipse cx="470" cy="107" rx="0.6" ry="1.3" opacity="0.23" transform="rotate(16 470 107)"/><ellipse cx="-4" cy="285" rx="1.1" ry="2.1" opacity="0.34" transform="rotate(16 -4 285)"/><ellipse cx="10" cy="281" rx="1.2" ry="2.3" opacity="0.36" transform="rotate(16 10 281)"/><ellipse cx="23" cy="276" rx="1.2" ry="2.5" opacity="0.38" transform="rotate(16 23 276)"/><ellipse cx="37" cy="271" rx="1.3" ry="2.6" opacity="0.40" transform="rotate(16 37 271)"/><ellipse cx="50" cy="267" rx="1.4" ry="2.8" opacity="0.41" transform="rotate(16 50 267)"/><ellipse cx="64" cy="262" rx="1.5" ry="2.9" opacity="0.43" transform="rotate(16 64 262)"/><ellipse cx="77" cy="257" rx="1.5" ry="3.0" opacity="0.44" transform="rotate(16 77 257)"/><ellipse cx="91" cy="253" rx="1.6" ry="3.1" opacity="0.46" transform="rotate(16 91 253)"/><ellipse cx="104" cy="248" rx="1.6" ry="3.2" opacity="0.47" transform="rotate(16 104 248)"/><ellipse cx="118" cy="243" rx="1.7" ry="3.3" opacity="0.48" transform="rotate(16 118 243)"/><ellipse cx="131" cy="239" rx="1.7" ry="3.4" opacity="0.49" transform="rotate(16 131 239)"/><ellipse cx="145" cy="234" rx="1.7" ry="3.4" opacity="0.49" transform="rotate(16 145 234)"/><ellipse cx="158" cy="229" rx="1.7" ry="3.5" opacity="0.50" transform="rotate(16 158 229)"/><ellipse cx="172" cy="225" rx="1.8" ry="3.5" opacity="0.50" transform="rotate(16 172 225)"/><ellipse cx="185" cy="220" rx="1.8" ry="3.5" opacity="0.51" transform="rotate(16 185 220)"/><ellipse cx="199" cy="215" rx="1.8" ry="3.6" opacity="0.51" transform="rotate(16 199 215)"/><ellipse cx="212" cy="211" rx="1.8" ry="3.5" opacity="0.51" transform="rotate(16 212 211)"/><ellipse cx="226" cy="206" rx="1.8" ry="3.5" opacity="0.51" transform="rotate(16 226 206)"/><ellipse cx="239" cy="202" rx="1.8" ry="3.5" opacity="0.50" transform="rotate(16 239 202)"/><ellipse cx="253" cy="197" rx="1.7" ry="3.5" opacity="0.50" transform="rotate(16 253 197)"/><ellipse cx="266" cy="192" rx="1.7" ry="3.4" opacity="0.49" transform="rotate(16 266 192)"/><ellipse cx="280" cy="188" rx="1.7" ry="3.3" opacity="0.48" transform="rotate(16 280 188)"/><ellipse cx="293" cy="183" rx="1.6" ry="3.3" opacity="0.47" transform="rotate(16 293 183)"/><ellipse cx="307" cy="178" rx="1.6" ry="3.2" opacity="0.46" transform="rotate(16 307 178)"/><ellipse cx="320" cy="174" rx="1.5" ry="3.1" opacity="0.45" transform="rotate(16 320 174)"/><ellipse cx="334" cy="169" rx="1.5" ry="2.9" opacity="0.44" transform="rotate(16 334 169)"/><ellipse cx="347" cy="164" rx="1.4" ry="2.8" opacity="0.42" transform="rotate(16 347 164)"/><ellipse cx="361" cy="160" rx="1.3" ry="2.7" opacity="0.40" transform="rotate(16 361 160)"/><ellipse cx="374" cy="155" rx="1.3" ry="2.5" opacity="0.39" transform="rotate(16 374 155)"/><ellipse cx="388" cy="150" rx="1.2" ry="2.4" opacity="0.37" transform="rotate(16 388 150)"/><ellipse cx="401" cy="146" rx="1.1" ry="2.2" opacity="0.35" transform="rotate(16 401 146)"/><ellipse cx="415" cy="141" rx="1.0" ry="2.0" opacity="0.32" transform="rotate(16 415 141)"/><ellipse cx="428" cy="136" rx="0.9" ry="1.8" opacity="0.30" transform="rotate(16 428 136)"/><ellipse cx="442" cy="132" rx="0.8" ry="1.6" opacity="0.27" transform="rotate(16 442 132)"/><ellipse cx="455" cy="127" rx="0.7" ry="1.4" opacity="0.25" transform="rotate(16 455 127)"/><ellipse cx="469" cy="122" rx="0.6" ry="1.1" opacity="0.22" transform="rotate(16 469 122)"/><ellipse cx="-5" cy="301" rx="0.9" ry="1.8" opacity="0.29" transform="rotate(16 -5 301)"/><ellipse cx="8" cy="296" rx="1.0" ry="1.9" opacity="0.31" transform="rotate(16 8 296)"/><ellipse cx="22" cy="291" rx="1.1" ry="2.1" opacity="0.33" transform="rotate(16 22 291)"/><ellipse cx="35" cy="287" rx="1.1" ry="2.3" opacity="0.35" transform="rotate(16 35 287)"/><ellipse cx="49" cy="282" rx="1.2" ry="2.4" opacity="0.37" transform="rotate(16 49 282)"/><ellipse cx="62" cy="277" rx="1.3" ry="2.5" opacity="0.39" transform="rotate(16 62 277)"/><ellipse cx="76" cy="273" rx="1.3" ry="2.7" opacity="0.40" transform="rotate(16 76 273)"/><ellipse cx="89" cy="268" rx="1.4" ry="2.8" opacity="0.41" transform="rotate(16 89 268)"/><ellipse cx="103" cy="264" rx="1.4" ry="2.9" opacity="0.43" transform="rotate(16 103 264)"/><ellipse cx="116" cy="259" rx="1.5" ry="3.0" opacity="0.44" transform="rotate(16 116 259)"/><ellipse cx="130" cy="254" rx="1.5" ry="3.0" opacity="0.45" transform="rotate(16 130 254)"/><ellipse cx="143" cy="250" rx="1.6" ry="3.1" opacity="0.46" transform="rotate(16 143 250)"/><ellipse cx="157" cy="245" rx="1.6" ry="3.2" opacity="0.46" transform="rotate(16 157 245)"/><ellipse cx="170" cy="240" rx="1.6" ry="3.2" opacity="0.47" transform="rotate(16 170 240)"/><ellipse cx="184" cy="236" rx="1.6" ry="3.2" opacity="0.47" transform="rotate(16 184 236)"/><ellipse cx="197" cy="231" rx="1.6" ry="3.3" opacity="0.47" transform="rotate(16 197 231)"/><ellipse cx="211" cy="226" rx="1.6" ry="3.3" opacity="0.47" transform="rotate(16 211 226)"/><ellipse cx="224" cy="222" rx="1.6" ry="3.3" opacity="0.47" transform="rotate(16 224 222)"/><ellipse cx="238" cy="217" rx="1.6" ry="3.2" opacity="0.47" transform="rotate(16 238 217)"/><ellipse cx="251" cy="212" rx="1.6" ry="3.2" opacity="0.47" transform="rotate(16 251 212)"/><ellipse cx="265" cy="208" rx="1.6" ry="3.2" opacity="0.46" transform="rotate(16 265 208)"/><ellipse cx="278" cy="203" rx="1.5" ry="3.1" opacity="0.45" transform="rotate(16 278 203)"/><ellipse cx="292" cy="198" rx="1.5" ry="3.0" opacity="0.44" transform="rotate(16 292 198)"/><ellipse cx="305" cy="194" rx="1.5" ry="2.9" opacity="0.43" transform="rotate(16 305 194)"/><ellipse cx="319" cy="189" rx="1.4" ry="2.8" opacity="0.42" transform="rotate(16 319 189)"/><ellipse cx="332" cy="184" rx="1.4" ry="2.7" opacity="0.41" transform="rotate(16 332 184)"/><ellipse cx="346" cy="180" rx="1.3" ry="2.6" opacity="0.40" transform="rotate(16 346 180)"/><ellipse cx="359" cy="175" rx="1.3" ry="2.5" opacity="0.38" transform="rotate(16 359 175)"/><ellipse cx="373" cy="170" rx="1.2" ry="2.4" opacity="0.36" transform="rotate(16 373 170)"/><ellipse cx="386" cy="166" rx="1.1" ry="2.2" opacity="0.35" transform="rotate(16 386 166)"/><ellipse cx="400" cy="161" rx="1.0" ry="2.1" opacity="0.33" transform="rotate(16 400 161)"/><ellipse cx="413" cy="157" rx="0.9" ry="1.9" opacity="0.31" transform="rotate(16 413 157)"/><ellipse cx="427" cy="152" rx="0.8" ry="1.7" opacity="0.28" transform="rotate(16 427 152)"/><ellipse cx="440" cy="147" rx="0.7" ry="1.5" opacity="0.26" transform="rotate(16 440 147)"/><ellipse cx="454" cy="143" rx="0.6" ry="1.3" opacity="0.23" transform="rotate(16 454 143)"/><ellipse cx="20" cy="307" rx="0.9" ry="1.7" opacity="0.28" transform="rotate(16 20 307)"/><ellipse cx="33" cy="302" rx="0.9" ry="1.9" opacity="0.31" transform="rotate(16 33 302)"/><ellipse cx="47" cy="298" rx="1.0" ry="2.0" opacity="0.32" transform="rotate(16 47 298)"/><ellipse cx="60" cy="293" rx="1.1" ry="2.2" opacity="0.34" transform="rotate(16 60 293)"/><ellipse cx="74" cy="288" rx="1.2" ry="2.3" opacity="0.36" transform="rotate(16 74 288)"/><ellipse cx="87" cy="284" rx="1.2" ry="2.4" opacity="0.37" transform="rotate(16 87 284)"/><ellipse cx="101" cy="279" rx="1.3" ry="2.5" opacity="0.38" transform="rotate(16 101 279)"/><ellipse cx="114" cy="274" rx="1.3" ry="2.6" opacity="0.40" transform="rotate(16 114 274)"/><ellipse cx="128" cy="270" rx="1.4" ry="2.7" opacity="0.41" transform="rotate(16 128 270)"/><ellipse cx="141" cy="265" rx="1.4" ry="2.8" opacity="0.41" transform="rotate(16 141 265)"/><ellipse cx="155" cy="260" rx="1.4" ry="2.8" opacity="0.42" transform="rotate(16 155 260)"/><ellipse cx="168" cy="256" rx="1.4" ry="2.9" opacity="0.43" transform="rotate(16 168 256)"/><ellipse cx="182" cy="251" rx="1.5" ry="2.9" opacity="0.43" transform="rotate(16 182 251)"/><ellipse cx="195" cy="246" rx="1.5" ry="2.9" opacity="0.43" transform="rotate(16 195 246)"/><ellipse cx="209" cy="242" rx="1.5" ry="3.0" opacity="0.44" transform="rotate(16 209 242)"/><ellipse cx="222" cy="237" rx="1.5" ry="3.0" opacity="0.44" transform="rotate(16 222 237)"/><ellipse cx="236" cy="232" rx="1.5" ry="2.9" opacity="0.43" transform="rotate(16 236 232)"/><ellipse cx="249" cy="228" rx="1.5" ry="2.9" opacity="0.43" transform="rotate(16 249 228)"/><ellipse cx="263" cy="223" rx="1.4" ry="2.9" opacity="0.43" transform="rotate(16 263 223)"/><ellipse cx="276" cy="219" rx="1.4" ry="2.8" opacity="0.42" transform="rotate(16 276 219)"/><ellipse cx="290" cy="214" rx="1.4" ry="2.8" opacity="0.41" transform="rotate(16 290 214)"/><ellipse cx="303" cy="209" rx="1.4" ry="2.7" opacity="0.41" transform="rotate(16 303 209)"/><ellipse cx="317" cy="205" rx="1.3" ry="2.6" opacity="0.40" transform="rotate(16 317 205)"/><ellipse cx="330" cy="200" rx="1.3" ry="2.5" opacity="0.38" transform="rotate(16 330 200)"/><ellipse cx="344" cy="195" rx="1.2" ry="2.4" opacity="0.37" transform="rotate(16 344 195)"/><ellipse cx="357" cy="191" rx="1.1" ry="2.3" opacity="0.36" transform="rotate(16 357 191)"/><ellipse cx="371" cy="186" rx="1.1" ry="2.2" opacity="0.34" transform="rotate(16 371 186)"/><ellipse cx="384" cy="181" rx="1.0" ry="2.0" opacity="0.32" transform="rotate(16 384 181)"/><ellipse cx="398" cy="177" rx="0.9" ry="1.9" opacity="0.30" transform="rotate(16 398 177)"/><ellipse cx="411" cy="172" rx="0.8" ry="1.7" opacity="0.28" transform="rotate(16 411 172)"/><ellipse cx="425" cy="167" rx="0.8" ry="1.5" opacity="0.26" transform="rotate(16 425 167)"/><ellipse cx="438" cy="163" rx="0.7" ry="1.3" opacity="0.24" transform="rotate(16 438 163)"/><ellipse cx="452" cy="158" rx="0.5" ry="1.1" opacity="0.21" transform="rotate(16 452 158)"/><ellipse cx="59" cy="308" rx="0.9" ry="1.8" opacity="0.29" transform="rotate(16 59 308)"/><ellipse cx="72" cy="304" rx="1.0" ry="1.9" opacity="0.31" transform="rotate(16 72 304)"/><ellipse cx="86" cy="299" rx="1.0" ry="2.0" opacity="0.33" transform="rotate(16 86 299)"/><ellipse cx="99" cy="294" rx="1.1" ry="2.2" opacity="0.34" transform="rotate(16 99 294)"/><ellipse cx="113" cy="290" rx="1.1" ry="2.3" opacity="0.35" transform="rotate(16 113 290)"/><ellipse cx="126" cy="285" rx="1.2" ry="2.3" opacity="0.36" transform="rotate(16 126 285)"/><ellipse cx="140" cy="281" rx="1.2" ry="2.4" opacity="0.37" transform="rotate(16 140 281)"/><ellipse cx="153" cy="276" rx="1.2" ry="2.5" opacity="0.38" transform="rotate(16 153 276)"/><ellipse cx="167" cy="271" rx="1.3" ry="2.5" opacity="0.39" transform="rotate(16 167 271)"/><ellipse cx="180" cy="267" rx="1.3" ry="2.6" opacity="0.39" transform="rotate(16 180 267)"/><ellipse cx="194" cy="262" rx="1.3" ry="2.6" opacity="0.40" transform="rotate(16 194 262)"/><ellipse cx="207" cy="257" rx="1.3" ry="2.6" opacity="0.40" transform="rotate(16 207 257)"/><ellipse cx="221" cy="253" rx="1.3" ry="2.6" opacity="0.40" transform="rotate(16 221 253)"/><ellipse cx="234" cy="248" rx="1.3" ry="2.6" opacity="0.40" transform="rotate(16 234 248)"/><ellipse cx="248" cy="243" rx="1.3" ry="2.6" opacity="0.40" transform="rotate(16 248 243)"/><ellipse cx="261" cy="239" rx="1.3" ry="2.6" opacity="0.39" transform="rotate(16 261 239)"/><ellipse cx="275" cy="234" rx="1.3" ry="2.6" opacity="0.39" transform="rotate(16 275 234)"/><ellipse cx="288" cy="229" rx="1.3" ry="2.5" opacity="0.38" transform="rotate(16 288 229)"/><ellipse cx="302" cy="225" rx="1.2" ry="2.4" opacity="0.37" transform="rotate(16 302 225)"/><ellipse cx="315" cy="220" rx="1.2" ry="2.4" opacity="0.36" transform="rotate(16 315 220)"/><ellipse cx="329" cy="215" rx="1.1" ry="2.3" opacity="0.35" transform="rotate(16 329 215)"/><ellipse cx="342" cy="211" rx="1.1" ry="2.2" opacity="0.34" transform="rotate(16 342 211)"/><ellipse cx="356" cy="206" rx="1.0" ry="2.1" opacity="0.33" transform="rotate(16 356 206)"/><ellipse cx="369" cy="202" rx="1.0" ry="1.9" opacity="0.31" transform="rotate(16 369 202)"/><ellipse cx="383" cy="197" rx="0.9" ry="1.8" opacity="0.30" transform="rotate(16 383 197)"/><ellipse cx="396" cy="192" rx="0.8" ry="1.7" opacity="0.28" transform="rotate(16 396 192)"/><ellipse cx="410" cy="188" rx="0.7" ry="1.5" opacity="0.26" transform="rotate(16 410 188)"/><ellipse cx="423" cy="183" rx="0.7" ry="1.3" opacity="0.24" transform="rotate(16 423 183)"/><ellipse cx="437" cy="178" rx="0.6" ry="1.1" opacity="0.21" transform="rotate(16 437 178)"/><ellipse cx="98" cy="310" rx="0.9" ry="1.8" opacity="0.29" transform="rotate(16 98 310)"/><ellipse cx="111" cy="305" rx="0.9" ry="1.9" opacity="0.30" transform="rotate(16 111 305)"/><ellipse cx="125" cy="301" rx="1.0" ry="2.0" opacity="0.32" transform="rotate(16 125 301)"/><ellipse cx="138" cy="296" rx="1.0" ry="2.1" opacity="0.33" transform="rotate(16 138 296)"/><ellipse cx="152" cy="291" rx="1.1" ry="2.1" opacity="0.34" transform="rotate(16 152 291)"/><ellipse cx="165" cy="287" rx="1.1" ry="2.2" opacity="0.34" transform="rotate(16 165 287)"/><ellipse cx="179" cy="282" rx="1.1" ry="2.2" opacity="0.35" transform="rotate(16 179 282)"/><ellipse cx="192" cy="277" rx="1.1" ry="2.3" opacity="0.35" transform="rotate(16 192 277)"/><ellipse cx="206" cy="273" rx="1.2" ry="2.3" opacity="0.36" transform="rotate(16 206 273)"/><ellipse cx="219" cy="268" rx="1.2" ry="2.3" opacity="0.36" transform="rotate(16 219 268)"/><ellipse cx="233" cy="264" rx="1.2" ry="2.3" opacity="0.36" transform="rotate(16 233 264)"/><ellipse cx="246" cy="259" rx="1.2" ry="2.3" opacity="0.36" transform="rotate(16 246 259)"/><ellipse cx="260" cy="254" rx="1.1" ry="2.3" opacity="0.36" transform="rotate(16 260 254)"/><ellipse cx="273" cy="250" rx="1.1" ry="2.3" opacity="0.35" transform="rotate(16 273 250)"/><ellipse cx="287" cy="245" rx="1.1" ry="2.2" opacity="0.35" transform="rotate(16 287 245)"/><ellipse cx="300" cy="240" rx="1.1" ry="2.2" opacity="0.34" transform="rotate(16 300 240)"/><ellipse cx="314" cy="236" rx="1.0" ry="2.1" opacity="0.33" transform="rotate(16 314 236)"/><ellipse cx="327" cy="231" rx="1.0" ry="2.0" opacity="0.32" transform="rotate(16 327 231)"/><ellipse cx="341" cy="226" rx="1.0" ry="1.9" opacity="0.31" transform="rotate(16 341 226)"/><ellipse cx="354" cy="222" rx="0.9" ry="1.8" opacity="0.30" transform="rotate(16 354 222)"/><ellipse cx="368" cy="217" rx="0.8" ry="1.7" opacity="0.28" transform="rotate(16 368 217)"/><ellipse cx="381" cy="212" rx="0.8" ry="1.6" opacity="0.27" transform="rotate(16 381 212)"/><ellipse cx="395" cy="208" rx="0.7" ry="1.4" opacity="0.25" transform="rotate(16 395 208)"/><ellipse cx="408" cy="203" rx="0.6" ry="1.3" opacity="0.23" transform="rotate(16 408 203)"/><ellipse cx="422" cy="198" rx="0.5" ry="1.1" opacity="0.21" transform="rotate(16 422 198)"/><ellipse cx="150" cy="307" rx="0.9" ry="1.7" opacity="0.29" transform="rotate(16 150 307)"/><ellipse cx="164" cy="302" rx="0.9" ry="1.8" opacity="0.30" transform="rotate(16 164 302)"/><ellipse cx="177" cy="298" rx="0.9" ry="1.9" opacity="0.30" transform="rotate(16 177 298)"/><ellipse cx="191" cy="293" rx="1.0" ry="1.9" opacity="0.31" transform="rotate(16 191 293)"/><ellipse cx="204" cy="288" rx="1.0" ry="2.0" opacity="0.31" transform="rotate(16 204 288)"/><ellipse cx="218" cy="284" rx="1.0" ry="2.0" opacity="0.32" transform="rotate(16 218 284)"/><ellipse cx="231" cy="279" rx="1.0" ry="2.0" opacity="0.32" transform="rotate(16 231 279)"/><ellipse cx="245" cy="274" rx="1.0" ry="2.0" opacity="0.32" transform="rotate(16 245 274)"/><ellipse cx="258" cy="270" rx="1.0" ry="2.0" opacity="0.32" transform="rotate(16 258 270)"/><ellipse cx="272" cy="265" rx="1.0" ry="1.9" opacity="0.31" transform="rotate(16 272 265)"/><ellipse cx="285" cy="260" rx="1.0" ry="1.9" opacity="0.31" transform="rotate(16 285 260)"/><ellipse cx="299" cy="256" rx="0.9" ry="1.9" opacity="0.30" transform="rotate(16 299 256)"/><ellipse cx="312" cy="251" rx="0.9" ry="1.8" opacity="0.30" transform="rotate(16 312 251)"/><ellipse cx="326" cy="246" rx="0.9" ry="1.7" opacity="0.29" transform="rotate(16 326 246)"/><ellipse cx="339" cy="242" rx="0.8" ry="1.6" opacity="0.28" transform="rotate(16 339 242)"/><ellipse cx="353" cy="237" rx="0.8" ry="1.5" opacity="0.26" transform="rotate(16 353 237)"/><ellipse cx="366" cy="232" rx="0.7" ry="1.4" opacity="0.25" transform="rotate(16 366 232)"/><ellipse cx="380" cy="228" rx="0.6" ry="1.3" opacity="0.23" transform="rotate(16 380 228)"/><ellipse cx="393" cy="223" rx="0.6" ry="1.1" opacity="0.22" transform="rotate(16 393 223)"/><ellipse cx="202" cy="304" rx="0.8" ry="1.6" opacity="0.27" transform="rotate(16 202 304)"/><ellipse cx="216" cy="299" rx="0.8" ry="1.6" opacity="0.27" transform="rotate(16 216 299)"/><ellipse cx="230" cy="294" rx="0.8" ry="1.6" opacity="0.27" transform="rotate(16 230 294)"/><ellipse cx="243" cy="290" rx="0.8" ry="1.6" opacity="0.27" transform="rotate(16 243 290)"/><ellipse cx="256" cy="285" rx="0.8" ry="1.6" opacity="0.27" transform="rotate(16 256 285)"/><ellipse cx="270" cy="281" rx="0.8" ry="1.6" opacity="0.27" transform="rotate(16 270 281)"/><ellipse cx="284" cy="276" rx="0.8" ry="1.6" opacity="0.27" transform="rotate(16 284 276)"/><ellipse cx="297" cy="271" rx="0.8" ry="1.5" opacity="0.26" transform="rotate(16 297 271)"/><ellipse cx="310" cy="267" rx="0.7" ry="1.5" opacity="0.26" transform="rotate(16 310 267)"/><ellipse cx="324" cy="262" rx="0.7" ry="1.4" opacity="0.25" transform="rotate(16 324 262)"/><ellipse cx="338" cy="257" rx="0.7" ry="1.3" opacity="0.24" transform="rotate(16 338 257)"/><ellipse cx="351" cy="253" rx="0.6" ry="1.2" opacity="0.23" transform="rotate(16 351 253)"/><ellipse cx="364" cy="248" rx="0.6" ry="1.1" opacity="0.21" transform="rotate(16 364 248)"/><ellipse cx="255" cy="301" rx="0.6" ry="1.2" opacity="0.23" transform="rotate(16 255 301)"/><ellipse cx="268" cy="296" rx="0.6" ry="1.2" opacity="0.23" transform="rotate(16 268 296)"/><ellipse cx="282" cy="291" rx="0.6" ry="1.2" opacity="0.22" transform="rotate(16 282 291)"/></g>
<g fill="#3b30e8"><ellipse cx="313" cy="-3" rx="2.7" ry="4.6" opacity="0.43" transform="rotate(8 313 -3)"/><ellipse cx="326" cy="-8" rx="2.9" ry="4.9" opacity="0.45" transform="rotate(8 326 -8)"/><ellipse cx="325" cy="8" rx="2.8" ry="4.8" opacity="0.44" transform="rotate(8 325 8)"/><ellipse cx="338" cy="3" rx="3.0" ry="5.1" opacity="0.47" transform="rotate(8 338 3)"/><ellipse cx="352" cy="-2" rx="3.1" ry="5.4" opacity="0.49" transform="rotate(8 352 -2)"/><ellipse cx="365" cy="-6" rx="3.3" ry="5.6" opacity="0.51" transform="rotate(8 365 -6)"/><ellipse cx="323" cy="23" rx="2.7" ry="4.6" opacity="0.42" transform="rotate(8 323 23)"/><ellipse cx="336" cy="19" rx="2.8" ry="4.9" opacity="0.45" transform="rotate(8 336 19)"/><ellipse cx="350" cy="14" rx="3.0" ry="5.2" opacity="0.47" transform="rotate(8 350 14)"/><ellipse cx="363" cy="9" rx="3.2" ry="5.4" opacity="0.49" transform="rotate(8 363 9)"/><ellipse cx="377" cy="5" rx="3.3" ry="5.7" opacity="0.51" transform="rotate(8 377 5)"/><ellipse cx="390" cy="0" rx="3.5" ry="5.9" opacity="0.53" transform="rotate(8 390 0)"/><ellipse cx="404" cy="-5" rx="3.5" ry="6.0" opacity="0.53" transform="rotate(8 404 -5)"/><ellipse cx="417" cy="-9" rx="3.4" ry="5.8" opacity="0.52" transform="rotate(8 417 -9)"/><ellipse cx="335" cy="34" rx="2.7" ry="4.6" opacity="0.42" transform="rotate(8 335 34)"/><ellipse cx="348" cy="29" rx="2.8" ry="4.9" opacity="0.44" transform="rotate(8 348 29)"/><ellipse cx="362" cy="25" rx="3.0" ry="5.1" opacity="0.47" transform="rotate(8 362 25)"/><ellipse cx="375" cy="20" rx="3.1" ry="5.4" opacity="0.49" transform="rotate(8 375 20)"/><ellipse cx="389" cy="16" rx="3.2" ry="5.5" opacity="0.50" transform="rotate(8 389 16)"/><ellipse cx="402" cy="11" rx="3.3" ry="5.7" opacity="0.51" transform="rotate(8 402 11)"/><ellipse cx="416" cy="6" rx="3.3" ry="5.6" opacity="0.51" transform="rotate(8 416 6)"/><ellipse cx="429" cy="2" rx="3.2" ry="5.5" opacity="0.50" transform="rotate(8 429 2)"/><ellipse cx="443" cy="-3" rx="3.1" ry="5.3" opacity="0.48" transform="rotate(8 443 -3)"/><ellipse cx="456" cy="-8" rx="3.0" ry="5.1" opacity="0.46" transform="rotate(8 456 -8)"/><ellipse cx="347" cy="45" rx="2.6" ry="4.4" opacity="0.41" transform="rotate(8 347 45)"/><ellipse cx="360" cy="40" rx="2.7" ry="4.7" opacity="0.43" transform="rotate(8 360 40)"/><ellipse cx="374" cy="36" rx="2.9" ry="5.0" opacity="0.45" transform="rotate(8 374 36)"/><ellipse cx="387" cy="31" rx="3.0" ry="5.1" opacity="0.47" transform="rotate(8 387 31)"/><ellipse cx="401" cy="26" rx="3.1" ry="5.3" opacity="0.48" transform="rotate(8 401 26)"/><ellipse cx="414" cy="22" rx="3.1" ry="5.3" opacity="0.48" transform="rotate(8 414 22)"/><ellipse cx="428" cy="17" rx="3.1" ry="5.3" opacity="0.48" transform="rotate(8 428 17)"/><ellipse cx="441" cy="12" rx="3.0" ry="5.2" opacity="0.47" transform="rotate(8 441 12)"/><ellipse cx="455" cy="8" rx="2.9" ry="5.0" opacity="0.46" transform="rotate(8 455 8)"/><ellipse cx="468" cy="3" rx="2.8" ry="4.8" opacity="0.44" transform="rotate(8 468 3)"/><ellipse cx="482" cy="-2" rx="2.6" ry="4.5" opacity="0.42" transform="rotate(8 482 -2)"/><ellipse cx="495" cy="-6" rx="2.5" ry="4.2" opacity="0.39" transform="rotate(8 495 -6)"/><ellipse cx="359" cy="56" rx="2.5" ry="4.3" opacity="0.40" transform="rotate(8 359 56)"/><ellipse cx="372" cy="51" rx="2.6" ry="4.5" opacity="0.42" transform="rotate(8 372 51)"/><ellipse cx="386" cy="46" rx="2.7" ry="4.7" opacity="0.43" transform="rotate(8 386 46)"/><ellipse cx="399" cy="42" rx="2.8" ry="4.8" opacity="0.44" transform="rotate(8 399 42)"/><ellipse cx="413" cy="37" rx="2.9" ry="4.9" opacity="0.45" transform="rotate(8 413 37)"/><ellipse cx="426" cy="33" rx="2.9" ry="5.0" opacity="0.45" transform="rotate(8 426 33)"/><ellipse cx="440" cy="28" rx="2.9" ry="4.9" opacity="0.45" transform="rotate(8 440 28)"/><ellipse cx="453" cy="23" rx="2.8" ry="4.8" opacity="0.44" transform="rotate(8 453 23)"/><ellipse cx="467" cy="19" rx="2.7" ry="4.6" opacity="0.43" transform="rotate(8 467 19)"/><ellipse cx="480" cy="14" rx="2.6" ry="4.4" opacity="0.41" transform="rotate(8 480 14)"/><ellipse cx="494" cy="9" rx="2.4" ry="4.2" opacity="0.39" transform="rotate(8 494 9)"/><ellipse cx="507" cy="5" rx="2.2" ry="3.9" opacity="0.37" transform="rotate(8 507 5)"/><ellipse cx="521" cy="0" rx="2.0" ry="3.5" opacity="0.34" transform="rotate(8 521 0)"/><ellipse cx="534" cy="-5" rx="1.8" ry="3.1" opacity="0.30" transform="rotate(8 534 -5)"/><ellipse cx="548" cy="-9" rx="1.5" ry="2.6" opacity="0.26" transform="rotate(8 548 -9)"/><ellipse cx="370" cy="67" rx="2.3" ry="4.0" opacity="0.37" transform="rotate(8 370 67)"/><ellipse cx="384" cy="62" rx="2.4" ry="4.2" opacity="0.39" transform="rotate(8 384 62)"/><ellipse cx="397" cy="57" rx="2.5" ry="4.4" opacity="0.41" transform="rotate(8 397 57)"/><ellipse cx="411" cy="53" rx="2.6" ry="4.5" opacity="0.42" transform="rotate(8 411 53)"/><ellipse cx="424" cy="48" rx="2.6" ry="4.5" opacity="0.42" transform="rotate(8 424 48)"/><ellipse cx="438" cy="43" rx="2.7" ry="4.6" opacity="0.42" transform="rotate(8 438 43)"/><ellipse cx="451" cy="39" rx="2.6" ry="4.5" opacity="0.42" transform="rotate(8 451 39)"/><ellipse cx="465" cy="34" rx="2.6" ry="4.4" opacity="0.41" transform="rotate(8 465 34)"/><ellipse cx="478" cy="29" rx="2.5" ry="4.2" opacity="0.39" transform="rotate(8 478 29)"/><ellipse cx="492" cy="25" rx="2.3" ry="4.0" opacity="0.38" transform="rotate(8 492 25)"/><ellipse cx="505" cy="20" rx="2.2" ry="3.8" opacity="0.36" transform="rotate(8 505 20)"/><ellipse cx="519" cy="16" rx="2.0" ry="3.4" opacity="0.33" transform="rotate(8 519 16)"/><ellipse cx="532" cy="11" rx="1.8" ry="3.1" opacity="0.30" transform="rotate(8 532 11)"/><ellipse cx="546" cy="6" rx="1.5" ry="2.6" opacity="0.26" transform="rotate(8 546 6)"/><ellipse cx="559" cy="2" rx="1.1" ry="1.9" opacity="0.21" transform="rotate(8 559 2)"/><ellipse cx="382" cy="78" rx="2.1" ry="3.6" opacity="0.34" transform="rotate(8 382 78)"/><ellipse cx="396" cy="73" rx="2.2" ry="3.8" opacity="0.36" transform="rotate(8 396 73)"/><ellipse cx="409" cy="68" rx="2.3" ry="4.0" opacity="0.37" transform="rotate(8 409 68)"/><ellipse cx="423" cy="64" rx="2.4" ry="4.1" opacity="0.38" transform="rotate(8 423 64)"/><ellipse cx="436" cy="59" rx="2.4" ry="4.1" opacity="0.38" transform="rotate(8 436 59)"/><ellipse cx="450" cy="54" rx="2.4" ry="4.1" opacity="0.38" transform="rotate(8 450 54)"/><ellipse cx="463" cy="50" rx="2.3" ry="4.0" opacity="0.38" transform="rotate(8 463 50)"/><ellipse cx="477" cy="45" rx="2.3" ry="3.9" opacity="0.37" transform="rotate(8 477 45)"/><ellipse cx="490" cy="40" rx="2.2" ry="3.8" opacity="0.36" transform="rotate(8 490 40)"/><ellipse cx="504" cy="36" rx="2.0" ry="3.5" opacity="0.34" transform="rotate(8 504 36)"/><ellipse cx="517" cy="31" rx="1.9" ry="3.2" opacity="0.31" transform="rotate(8 517 31)"/><ellipse cx="531" cy="26" rx="1.7" ry="2.9" opacity="0.29" transform="rotate(8 531 26)"/><ellipse cx="544" cy="22" rx="1.4" ry="2.4" opacity="0.25" transform="rotate(8 544 22)"/><ellipse cx="558" cy="17" rx="1.0" ry="1.8" opacity="0.20" transform="rotate(8 558 17)"/><ellipse cx="394" cy="88" rx="1.8" ry="3.2" opacity="0.31" transform="rotate(8 394 88)"/><ellipse cx="408" cy="84" rx="1.9" ry="3.4" opacity="0.32" transform="rotate(8 408 84)"/><ellipse cx="421" cy="79" rx="2.0" ry="3.5" opacity="0.33" transform="rotate(8 421 79)"/><ellipse cx="435" cy="74" rx="2.1" ry="3.6" opacity="0.34" transform="rotate(8 435 74)"/><ellipse cx="448" cy="70" rx="2.1" ry="3.6" opacity="0.34" transform="rotate(8 448 70)"/><ellipse cx="462" cy="65" rx="2.1" ry="3.6" opacity="0.34" transform="rotate(8 462 65)"/><ellipse cx="475" cy="60" rx="2.0" ry="3.5" opacity="0.34" transform="rotate(8 475 60)"/><ellipse cx="489" cy="56" rx="1.9" ry="3.4" opacity="0.32" transform="rotate(8 489 56)"/><ellipse cx="502" cy="51" rx="1.8" ry="3.2" opacity="0.31" transform="rotate(8 502 51)"/><ellipse cx="516" cy="46" rx="1.7" ry="2.9" opacity="0.29" transform="rotate(8 516 46)"/><ellipse cx="529" cy="42" rx="1.5" ry="2.6" opacity="0.26" transform="rotate(8 529 42)"/><ellipse cx="543" cy="37" rx="1.2" ry="2.1" opacity="0.22" transform="rotate(8 543 37)"/><ellipse cx="556" cy="33" rx="0.7" ry="1.3" opacity="0.16" transform="rotate(8 556 33)"/><ellipse cx="420" cy="95" rx="1.6" ry="2.8" opacity="0.28" transform="rotate(8 420 95)"/><ellipse cx="433" cy="90" rx="1.7" ry="2.9" opacity="0.29" transform="rotate(8 433 90)"/><ellipse cx="447" cy="85" rx="1.7" ry="3.0" opacity="0.29" transform="rotate(8 447 85)"/><ellipse cx="460" cy="81" rx="1.7" ry="3.0" opacity="0.29" transform="rotate(8 460 81)"/><ellipse cx="474" cy="76" rx="1.7" ry="2.9" opacity="0.29" transform="rotate(8 474 76)"/><ellipse cx="487" cy="71" rx="1.6" ry="2.8" opacity="0.28" transform="rotate(8 487 71)"/><ellipse cx="501" cy="67" rx="1.5" ry="2.7" opacity="0.27" transform="rotate(8 501 67)"/><ellipse cx="514" cy="62" rx="1.4" ry="2.4" opacity="0.25" transform="rotate(8 514 62)"/><ellipse cx="528" cy="57" rx="1.2" ry="2.1" opacity="0.22" transform="rotate(8 528 57)"/><ellipse cx="541" cy="53" rx="0.8" ry="1.5" opacity="0.17" transform="rotate(8 541 53)"/><ellipse cx="445" cy="101" rx="1.2" ry="2.1" opacity="0.22" transform="rotate(8 445 101)"/><ellipse cx="458" cy="96" rx="1.2" ry="2.1" opacity="0.22" transform="rotate(8 458 96)"/><ellipse cx="472" cy="91" rx="1.2" ry="2.1" opacity="0.22" transform="rotate(8 472 91)"/><ellipse cx="485" cy="87" rx="1.2" ry="2.1" opacity="0.22" transform="rotate(8 485 87)"/><ellipse cx="499" cy="82" rx="1.1" ry="1.9" opacity="0.20" transform="rotate(8 499 82)"/><ellipse cx="512" cy="78" rx="0.9" ry="1.6" opacity="0.18" transform="rotate(8 512 78)"/><ellipse cx="484" cy="102" rx="0.6" ry="1.0" opacity="0.13" transform="rotate(8 484 102)"/><ellipse cx="497" cy="98" rx="0.5" ry="1.0" opacity="0.13" transform="rotate(8 497 98)"/><ellipse cx="482" cy="118" rx="0.5" ry="1.0" opacity="0.13" transform="rotate(8 482 118)"/><ellipse cx="496" cy="113" rx="0.5" ry="1.0" opacity="0.13" transform="rotate(8 496 113)"/><ellipse cx="467" cy="138" rx="0.6" ry="1.0" opacity="0.14" transform="rotate(8 467 138)"/><ellipse cx="481" cy="133" rx="0.5" ry="1.0" opacity="0.13" transform="rotate(8 481 133)"/><ellipse cx="-7" cy="316" rx="0.9" ry="1.7" opacity="0.19" transform="rotate(8 -7 316)"/><ellipse cx="6" cy="312" rx="0.9" ry="1.6" opacity="0.18" transform="rotate(8 6 312)"/><ellipse cx="465" cy="153" rx="0.5" ry="1.0" opacity="0.13" transform="rotate(8 465 153)"/><ellipse cx="479" cy="149" rx="0.5" ry="1.0" opacity="0.13" transform="rotate(8 479 149)"/><ellipse cx="-9" cy="332" rx="1.2" ry="2.1" opacity="0.22" transform="rotate(8 -9 332)"/><ellipse cx="5" cy="327" rx="1.2" ry="2.0" opacity="0.22" transform="rotate(8 5 327)"/><ellipse cx="18" cy="322" rx="1.1" ry="2.0" opacity="0.21" transform="rotate(8 18 322)"/><ellipse cx="32" cy="318" rx="1.1" ry="1.9" opacity="0.20" transform="rotate(8 32 318)"/><ellipse cx="45" cy="313" rx="1.0" ry="1.8" opacity="0.20" transform="rotate(8 45 313)"/><ellipse cx="450" cy="174" rx="0.6" ry="1.0" opacity="0.14" transform="rotate(8 450 174)"/><ellipse cx="464" cy="169" rx="0.5" ry="1.0" opacity="0.13" transform="rotate(8 464 169)"/><ellipse cx="3" cy="343" rx="1.4" ry="2.4" opacity="0.25" transform="rotate(8 3 343)"/><ellipse cx="17" cy="338" rx="1.4" ry="2.4" opacity="0.24" transform="rotate(8 17 338)"/><ellipse cx="30" cy="333" rx="1.3" ry="2.3" opacity="0.24" transform="rotate(8 30 333)"/><ellipse cx="44" cy="329" rx="1.3" ry="2.2" opacity="0.23" transform="rotate(8 44 329)"/><ellipse cx="57" cy="324" rx="1.2" ry="2.1" opacity="0.22" transform="rotate(8 57 324)"/><ellipse cx="71" cy="319" rx="1.1" ry="2.0" opacity="0.22" transform="rotate(8 71 319)"/><ellipse cx="84" cy="315" rx="1.1" ry="1.9" opacity="0.21" transform="rotate(8 84 315)"/><ellipse cx="435" cy="194" rx="0.6" ry="1.0" opacity="0.14" transform="rotate(8 435 194)"/><ellipse cx="449" cy="189" rx="0.5" ry="1.0" opacity="0.13" transform="rotate(8 449 189)"/><ellipse cx="462" cy="184" rx="0.5" ry="1.0" opacity="0.13" transform="rotate(8 462 184)"/><ellipse cx="2" cy="358" rx="1.6" ry="2.7" opacity="0.27" transform="rotate(8 2 358)"/><ellipse cx="15" cy="353" rx="1.6" ry="2.7" opacity="0.27" transform="rotate(8 15 353)"/><ellipse cx="29" cy="349" rx="1.5" ry="2.7" opacity="0.27" transform="rotate(8 29 349)"/><ellipse cx="42" cy="344" rx="1.5" ry="2.6" opacity="0.26" transform="rotate(8 42 344)"/><ellipse cx="56" cy="339" rx="1.5" ry="2.6" opacity="0.26" transform="rotate(8 56 339)"/><ellipse cx="69" cy="335" rx="1.4" ry="2.5" opacity="0.25" transform="rotate(8 69 335)"/><ellipse cx="83" cy="330" rx="1.3" ry="2.4" opacity="0.24" transform="rotate(8 83 330)"/><ellipse cx="96" cy="326" rx="1.3" ry="2.2" opacity="0.23" transform="rotate(8 96 326)"/><ellipse cx="110" cy="321" rx="1.2" ry="2.1" opacity="0.22" transform="rotate(8 110 321)"/><ellipse cx="123" cy="316" rx="1.1" ry="2.0" opacity="0.21" transform="rotate(8 123 316)"/><ellipse cx="137" cy="312" rx="1.0" ry="1.8" opacity="0.20" transform="rotate(8 137 312)"/><ellipse cx="407" cy="219" rx="0.6" ry="1.1" opacity="0.14" transform="rotate(8 407 219)"/><ellipse cx="420" cy="214" rx="0.6" ry="1.1" opacity="0.14" transform="rotate(8 420 214)"/><ellipse cx="434" cy="209" rx="0.5" ry="1.0" opacity="0.13" transform="rotate(8 434 209)"/><ellipse cx="447" cy="205" rx="0.5" ry="1.0" opacity="0.13" transform="rotate(8 447 205)"/><ellipse cx="0" cy="374" rx="1.7" ry="2.9" opacity="0.29" transform="rotate(8 0 374)"/><ellipse cx="14" cy="369" rx="1.7" ry="3.0" opacity="0.29" transform="rotate(8 14 369)"/><ellipse cx="27" cy="364" rx="1.7" ry="3.0" opacity="0.29" transform="rotate(8 27 364)"/><ellipse cx="40" cy="360" rx="1.7" ry="3.0" opacity="0.29" transform="rotate(8 40 360)"/><ellipse cx="54" cy="355" rx="1.7" ry="2.9" opacity="0.29" transform="rotate(8 54 355)"/><ellipse cx="68" cy="350" rx="1.6" ry="2.9" opacity="0.28" transform="rotate(8 68 350)"/><ellipse cx="81" cy="346" rx="1.6" ry="2.8" opacity="0.28" transform="rotate(8 81 346)"/><ellipse cx="94" cy="341" rx="1.5" ry="2.7" opacity="0.27" transform="rotate(8 94 341)"/><ellipse cx="108" cy="336" rx="1.5" ry="2.5" opacity="0.26" transform="rotate(8 108 336)"/><ellipse cx="122" cy="332" rx="1.4" ry="2.4" opacity="0.25" transform="rotate(8 122 332)"/><ellipse cx="135" cy="327" rx="1.3" ry="2.3" opacity="0.24" transform="rotate(8 135 327)"/><ellipse cx="148" cy="322" rx="1.2" ry="2.1" opacity="0.22" transform="rotate(8 148 322)"/><ellipse cx="162" cy="318" rx="1.1" ry="2.0" opacity="0.21" transform="rotate(8 162 318)"/><ellipse cx="176" cy="313" rx="1.0" ry="1.8" opacity="0.20" transform="rotate(8 176 313)"/><ellipse cx="189" cy="308" rx="0.9" ry="1.6" opacity="0.18" transform="rotate(8 189 308)"/><ellipse cx="378" cy="243" rx="0.6" ry="1.1" opacity="0.14" transform="rotate(8 378 243)"/><ellipse cx="392" cy="239" rx="0.6" ry="1.1" opacity="0.14" transform="rotate(8 392 239)"/><ellipse cx="405" cy="234" rx="0.6" ry="1.1" opacity="0.14" transform="rotate(8 405 234)"/><ellipse cx="418" cy="229" rx="0.6" ry="1.0" opacity="0.13" transform="rotate(8 418 229)"/><ellipse cx="432" cy="225" rx="0.5" ry="1.0" opacity="0.13" transform="rotate(8 432 225)"/><ellipse cx="-2" cy="389" rx="1.7" ry="3.0" opacity="0.30" transform="rotate(8 -2 389)"/><ellipse cx="12" cy="384" rx="1.8" ry="3.1" opacity="0.30" transform="rotate(8 12 384)"/><ellipse cx="25" cy="380" rx="1.8" ry="3.2" opacity="0.31" transform="rotate(8 25 380)"/><ellipse cx="39" cy="375" rx="1.9" ry="3.2" opacity="0.31" transform="rotate(8 39 375)"/><ellipse cx="52" cy="370" rx="1.9" ry="3.3" opacity="0.32" transform="rotate(8 52 370)"/><ellipse cx="66" cy="366" rx="1.9" ry="3.2" opacity="0.31" transform="rotate(8 66 366)"/><ellipse cx="79" cy="361" rx="1.8" ry="3.2" opacity="0.31" transform="rotate(8 79 361)"/><ellipse cx="93" cy="356" rx="1.8" ry="3.1" opacity="0.30" transform="rotate(8 93 356)"/><ellipse cx="106" cy="352" rx="1.7" ry="3.0" opacity="0.29" transform="rotate(8 106 352)"/><ellipse cx="120" cy="347" rx="1.6" ry="2.8" opacity="0.28" transform="rotate(8 120 347)"/><ellipse cx="133" cy="343" rx="1.6" ry="2.7" opacity="0.27" transform="rotate(8 133 343)"/><ellipse cx="147" cy="338" rx="1.5" ry="2.6" opacity="0.26" transform="rotate(8 147 338)"/><ellipse cx="160" cy="333" rx="1.4" ry="2.4" opacity="0.25" transform="rotate(8 160 333)"/><ellipse cx="174" cy="329" rx="1.3" ry="2.2" opacity="0.23" transform="rotate(8 174 329)"/><ellipse cx="187" cy="324" rx="1.2" ry="2.1" opacity="0.22" transform="rotate(8 187 324)"/><ellipse cx="201" cy="319" rx="1.1" ry="1.9" opacity="0.20" transform="rotate(8 201 319)"/><ellipse cx="214" cy="315" rx="1.0" ry="1.7" opacity="0.19" transform="rotate(8 214 315)"/><ellipse cx="228" cy="310" rx="0.8" ry="1.5" opacity="0.17" transform="rotate(8 228 310)"/><ellipse cx="241" cy="305" rx="0.7" ry="1.3" opacity="0.16" transform="rotate(8 241 305)"/><ellipse cx="295" cy="287" rx="0.7" ry="1.2" opacity="0.15" transform="rotate(8 295 287)"/><ellipse cx="309" cy="282" rx="0.6" ry="1.2" opacity="0.15" transform="rotate(8 309 282)"/><ellipse cx="322" cy="277" rx="0.6" ry="1.2" opacity="0.15" transform="rotate(8 322 277)"/><ellipse cx="336" cy="273" rx="0.6" ry="1.1" opacity="0.14" transform="rotate(8 336 273)"/><ellipse cx="349" cy="268" rx="0.6" ry="1.1" opacity="0.14" transform="rotate(8 349 268)"/><ellipse cx="363" cy="264" rx="0.6" ry="1.1" opacity="0.14" transform="rotate(8 363 264)"/><ellipse cx="376" cy="259" rx="0.6" ry="1.1" opacity="0.14" transform="rotate(8 376 259)"/><ellipse cx="390" cy="254" rx="0.6" ry="1.0" opacity="0.14" transform="rotate(8 390 254)"/><ellipse cx="403" cy="250" rx="0.5" ry="1.0" opacity="0.13" transform="rotate(8 403 250)"/><ellipse cx="417" cy="245" rx="0.5" ry="1.0" opacity="0.13" transform="rotate(8 417 245)"/><ellipse cx="-3" cy="405" rx="1.7" ry="2.9" opacity="0.29" transform="rotate(8 -3 405)"/><ellipse cx="10" cy="400" rx="1.8" ry="3.1" opacity="0.30" transform="rotate(8 10 400)"/><ellipse cx="24" cy="395" rx="1.9" ry="3.2" opacity="0.31" transform="rotate(8 24 395)"/><ellipse cx="37" cy="391" rx="1.9" ry="3.3" opacity="0.32" transform="rotate(8 37 391)"/><ellipse cx="51" cy="386" rx="2.0" ry="3.4" opacity="0.33" transform="rotate(8 51 386)"/><ellipse cx="64" cy="381" rx="2.0" ry="3.5" opacity="0.34" transform="rotate(8 64 381)"/><ellipse cx="78" cy="377" rx="2.0" ry="3.5" opacity="0.34" transform="rotate(8 78 377)"/><ellipse cx="91" cy="372" rx="2.0" ry="3.5" opacity="0.33" transform="rotate(8 91 372)"/><ellipse cx="105" cy="367" rx="1.9" ry="3.4" opacity="0.32" transform="rotate(8 105 367)"/><ellipse cx="118" cy="363" rx="1.9" ry="3.2" opacity="0.31" transform="rotate(8 118 363)"/><ellipse cx="132" cy="358" rx="1.8" ry="3.1" opacity="0.30" transform="rotate(8 132 358)"/><ellipse cx="145" cy="353" rx="1.7" ry="3.0" opacity="0.29" transform="rotate(8 145 353)"/><ellipse cx="159" cy="349" rx="1.6" ry="2.8" opacity="0.28" transform="rotate(8 159 349)"/><ellipse cx="172" cy="344" rx="1.5" ry="2.6" opacity="0.27" transform="rotate(8 172 344)"/><ellipse cx="186" cy="339" rx="1.4" ry="2.5" opacity="0.25" transform="rotate(8 186 339)"/><ellipse cx="199" cy="335" rx="1.3" ry="2.3" opacity="0.24" transform="rotate(8 199 335)"/><ellipse cx="213" cy="330" rx="1.2" ry="2.1" opacity="0.22" transform="rotate(8 213 330)"/><ellipse cx="226" cy="326" rx="1.1" ry="1.9" opacity="0.21" transform="rotate(8 226 326)"/><ellipse cx="240" cy="321" rx="1.0" ry="1.7" opacity="0.19" transform="rotate(8 240 321)"/><ellipse cx="253" cy="316" rx="0.9" ry="1.5" opacity="0.18" transform="rotate(8 253 316)"/><ellipse cx="267" cy="312" rx="0.7" ry="1.3" opacity="0.16" transform="rotate(8 267 312)"/><ellipse cx="280" cy="307" rx="0.6" ry="1.2" opacity="0.15" transform="rotate(8 280 307)"/><ellipse cx="294" cy="302" rx="0.6" ry="1.2" opacity="0.14" transform="rotate(8 294 302)"/><ellipse cx="307" cy="298" rx="0.6" ry="1.1" opacity="0.14" transform="rotate(8 307 298)"/><ellipse cx="321" cy="293" rx="0.6" ry="1.1" opacity="0.14" transform="rotate(8 321 293)"/><ellipse cx="334" cy="288" rx="0.6" ry="1.1" opacity="0.14" transform="rotate(8 334 288)"/><ellipse cx="348" cy="284" rx="0.6" ry="1.1" opacity="0.14" transform="rotate(8 348 284)"/><ellipse cx="361" cy="279" rx="0.6" ry="1.1" opacity="0.14" transform="rotate(8 361 279)"/><ellipse cx="375" cy="274" rx="0.6" ry="1.0" opacity="0.14" transform="rotate(8 375 274)"/><ellipse cx="388" cy="270" rx="0.5" ry="1.0" opacity="0.13" transform="rotate(8 388 270)"/><ellipse cx="402" cy="265" rx="0.5" ry="1.0" opacity="0.13" transform="rotate(8 402 265)"/><ellipse cx="-5" cy="420" rx="1.6" ry="2.7" opacity="0.27" transform="rotate(8 -5 420)"/><ellipse cx="9" cy="415" rx="1.7" ry="2.9" opacity="0.28" transform="rotate(8 9 415)"/><ellipse cx="22" cy="411" rx="1.8" ry="3.0" opacity="0.30" transform="rotate(8 22 411)"/><ellipse cx="36" cy="406" rx="1.9" ry="3.2" opacity="0.31" transform="rotate(8 36 406)"/><ellipse cx="49" cy="401" rx="1.9" ry="3.4" opacity="0.32" transform="rotate(8 49 401)"/><ellipse cx="63" cy="397" rx="2.0" ry="3.5" opacity="0.34" transform="rotate(8 63 397)"/><ellipse cx="76" cy="392" rx="2.1" ry="3.7" opacity="0.35" transform="rotate(8 76 392)"/><ellipse cx="90" cy="388" rx="2.2" ry="3.8" opacity="0.36" transform="rotate(8 90 388)"/><ellipse cx="103" cy="383" rx="2.2" ry="3.7" opacity="0.36" transform="rotate(8 103 383)"/><ellipse cx="117" cy="378" rx="2.1" ry="3.6" opacity="0.35" transform="rotate(8 117 378)"/><ellipse cx="130" cy="374" rx="2.0" ry="3.5" opacity="0.33" transform="rotate(8 130 374)"/><ellipse cx="144" cy="369" rx="1.9" ry="3.3" opacity="0.32" transform="rotate(8 144 369)"/><ellipse cx="157" cy="364" rx="1.8" ry="3.2" opacity="0.31" transform="rotate(8 157 364)"/><ellipse cx="171" cy="360" rx="1.7" ry="3.0" opacity="0.30" transform="rotate(8 171 360)"/><ellipse cx="184" cy="355" rx="1.6" ry="2.9" opacity="0.28" transform="rotate(8 184 355)"/><ellipse cx="198" cy="350" rx="1.5" ry="2.7" opacity="0.27" transform="rotate(8 198 350)"/><ellipse cx="211" cy="346" rx="1.4" ry="2.5" opacity="0.25" transform="rotate(8 211 346)"/><ellipse cx="225" cy="341" rx="1.3" ry="2.3" opacity="0.24" transform="rotate(8 225 341)"/><ellipse cx="238" cy="336" rx="1.2" ry="2.1" opacity="0.23" transform="rotate(8 238 336)"/><ellipse cx="252" cy="332" rx="1.1" ry="2.0" opacity="0.21" transform="rotate(8 252 332)"/><ellipse cx="265" cy="327" rx="1.0" ry="1.8" opacity="0.19" transform="rotate(8 265 327)"/><ellipse cx="279" cy="322" rx="0.9" ry="1.6" opacity="0.18" transform="rotate(8 279 322)"/><ellipse cx="292" cy="318" rx="0.7" ry="1.3" opacity="0.16" transform="rotate(8 292 318)"/><ellipse cx="306" cy="313" rx="0.6" ry="1.1" opacity="0.14" transform="rotate(8 306 313)"/><ellipse cx="319" cy="308" rx="0.6" ry="1.1" opacity="0.14" transform="rotate(8 319 308)"/><ellipse cx="333" cy="304" rx="0.6" ry="1.1" opacity="0.14" transform="rotate(8 333 304)"/><ellipse cx="346" cy="299" rx="0.6" ry="1.0" opacity="0.14" transform="rotate(8 346 299)"/><ellipse cx="360" cy="294" rx="0.5" ry="1.0" opacity="0.13" transform="rotate(8 360 294)"/><ellipse cx="373" cy="290" rx="0.5" ry="1.0" opacity="0.13" transform="rotate(8 373 290)"/><ellipse cx="-6" cy="436" rx="1.4" ry="2.4" opacity="0.25" transform="rotate(8 -6 436)"/><ellipse cx="7" cy="431" rx="1.5" ry="2.6" opacity="0.26" transform="rotate(8 7 431)"/><ellipse cx="21" cy="426" rx="1.6" ry="2.7" opacity="0.27" transform="rotate(8 21 426)"/><ellipse cx="34" cy="422" rx="1.7" ry="2.9" opacity="0.29" transform="rotate(8 34 422)"/><ellipse cx="48" cy="417" rx="1.8" ry="3.1" opacity="0.30" transform="rotate(8 48 417)"/><ellipse cx="61" cy="412" rx="1.9" ry="3.2" opacity="0.31" transform="rotate(8 61 412)"/><ellipse cx="75" cy="408" rx="2.0" ry="3.4" opacity="0.33" transform="rotate(8 75 408)"/><ellipse cx="88" cy="403" rx="2.1" ry="3.6" opacity="0.34" transform="rotate(8 88 403)"/><ellipse cx="102" cy="398" rx="2.2" ry="3.7" opacity="0.35" transform="rotate(8 102 398)"/><ellipse cx="115" cy="394" rx="2.2" ry="3.8" opacity="0.36" transform="rotate(8 115 394)"/><ellipse cx="129" cy="389" rx="2.2" ry="3.8" opacity="0.36" transform="rotate(8 129 389)"/><ellipse cx="142" cy="384" rx="2.1" ry="3.6" opacity="0.35" transform="rotate(8 142 384)"/><ellipse cx="156" cy="380" rx="2.0" ry="3.5" opacity="0.33" transform="rotate(8 156 380)"/><ellipse cx="169" cy="375" rx="1.9" ry="3.3" opacity="0.32" transform="rotate(8 169 375)"/><ellipse cx="183" cy="370" rx="1.8" ry="3.2" opacity="0.31" transform="rotate(8 183 370)"/><ellipse cx="196" cy="366" rx="1.7" ry="3.0" opacity="0.29" transform="rotate(8 196 366)"/><ellipse cx="210" cy="361" rx="1.6" ry="2.8" opacity="0.28" transform="rotate(8 210 361)"/><ellipse cx="223" cy="356" rx="1.5" ry="2.7" opacity="0.27" transform="rotate(8 223 356)"/><ellipse cx="237" cy="352" rx="1.4" ry="2.5" opacity="0.25" transform="rotate(8 237 352)"/><ellipse cx="250" cy="347" rx="1.3" ry="2.3" opacity="0.24" transform="rotate(8 250 347)"/><ellipse cx="264" cy="343" rx="1.2" ry="2.1" opacity="0.22" transform="rotate(8 264 343)"/><ellipse cx="277" cy="338" rx="1.1" ry="1.9" opacity="0.21" transform="rotate(8 277 338)"/><ellipse cx="291" cy="333" rx="1.0" ry="1.7" opacity="0.19" transform="rotate(8 291 333)"/><ellipse cx="304" cy="329" rx="0.9" ry="1.5" opacity="0.18" transform="rotate(8 304 329)"/><ellipse cx="318" cy="324" rx="0.7" ry="1.3" opacity="0.16" transform="rotate(8 318 324)"/><ellipse cx="331" cy="319" rx="0.6" ry="1.1" opacity="0.14" transform="rotate(8 331 319)"/><ellipse cx="345" cy="315" rx="0.5" ry="1.0" opacity="0.13" transform="rotate(8 345 315)"/><ellipse cx="358" cy="310" rx="0.5" ry="1.0" opacity="0.13" transform="rotate(8 358 310)"/><ellipse cx="-8" cy="451" rx="1.1" ry="2.0" opacity="0.22" transform="rotate(8 -8 451)"/><ellipse cx="5" cy="446" rx="1.3" ry="2.2" opacity="0.23" transform="rotate(8 5 446)"/><ellipse cx="19" cy="442" rx="1.4" ry="2.4" opacity="0.24" transform="rotate(8 19 442)"/><ellipse cx="32" cy="437" rx="1.5" ry="2.6" opacity="0.26" transform="rotate(8 32 437)"/><ellipse cx="46" cy="432" rx="1.6" ry="2.7" opacity="0.27" transform="rotate(8 46 432)"/><ellipse cx="59" cy="428" rx="1.7" ry="2.9" opacity="0.29" transform="rotate(8 59 428)"/><ellipse cx="73" cy="423" rx="1.8" ry="3.0" opacity="0.30" transform="rotate(8 73 423)"/><ellipse cx="86" cy="418" rx="1.8" ry="3.2" opacity="0.31" transform="rotate(8 86 418)"/><ellipse cx="100" cy="414" rx="1.9" ry="3.3" opacity="0.32" transform="rotate(8 100 414)"/><ellipse cx="113" cy="409" rx="2.0" ry="3.5" opacity="0.33" transform="rotate(8 113 409)"/><ellipse cx="127" cy="405" rx="2.1" ry="3.5" opacity="0.34" transform="rotate(8 127 405)"/><ellipse cx="140" cy="400" rx="2.1" ry="3.6" opacity="0.34" transform="rotate(8 140 400)"/><ellipse cx="154" cy="395" rx="2.1" ry="3.6" opacity="0.34" transform="rotate(8 154 395)"/><ellipse cx="167" cy="391" rx="2.0" ry="3.5" opacity="0.33" transform="rotate(8 167 391)"/><ellipse cx="181" cy="386" rx="1.9" ry="3.4" opacity="0.32" transform="rotate(8 181 386)"/><ellipse cx="194" cy="381" rx="1.9" ry="3.2" opacity="0.31" transform="rotate(8 194 381)"/><ellipse cx="208" cy="377" rx="1.8" ry="3.1" opacity="0.30" transform="rotate(8 208 377)"/><ellipse cx="221" cy="372" rx="1.7" ry="2.9" opacity="0.29" transform="rotate(8 221 372)"/><ellipse cx="235" cy="367" rx="1.6" ry="2.8" opacity="0.27" transform="rotate(8 235 367)"/><ellipse cx="248" cy="363" rx="1.5" ry="2.6" opacity="0.26" transform="rotate(8 248 363)"/><ellipse cx="262" cy="358" rx="1.4" ry="2.4" opacity="0.25" transform="rotate(8 262 358)"/><ellipse cx="275" cy="353" rx="1.3" ry="2.2" opacity="0.23" transform="rotate(8 275 353)"/><ellipse cx="289" cy="349" rx="1.2" ry="2.1" opacity="0.22" transform="rotate(8 289 349)"/><ellipse cx="302" cy="344" rx="1.0" ry="1.9" opacity="0.20" transform="rotate(8 302 344)"/><ellipse cx="316" cy="339" rx="0.9" ry="1.7" opacity="0.19" transform="rotate(8 316 339)"/><ellipse cx="329" cy="335" rx="0.8" ry="1.5" opacity="0.17" transform="rotate(8 329 335)"/><ellipse cx="343" cy="330" rx="0.7" ry="1.2" opacity="0.15" transform="rotate(8 343 330)"/><ellipse cx="356" cy="326" rx="0.5" ry="1.0" opacity="0.13" transform="rotate(8 356 326)"/><ellipse cx="-10" cy="467" rx="0.9" ry="1.6" opacity="0.18" transform="rotate(8 -10 467)"/><ellipse cx="4" cy="462" rx="1.0" ry="1.8" opacity="0.20" transform="rotate(8 4 462)"/><ellipse cx="17" cy="457" rx="1.1" ry="2.0" opacity="0.21" transform="rotate(8 17 457)"/><ellipse cx="31" cy="453" rx="1.2" ry="2.2" opacity="0.23" transform="rotate(8 31 453)"/><ellipse cx="44" cy="448" rx="1.3" ry="2.3" opacity="0.24" transform="rotate(8 44 448)"/><ellipse cx="58" cy="443" rx="1.4" ry="2.5" opacity="0.25" transform="rotate(8 58 443)"/><ellipse cx="71" cy="439" rx="1.5" ry="2.6" opacity="0.27" transform="rotate(8 71 439)"/><ellipse cx="85" cy="434" rx="1.6" ry="2.8" opacity="0.28" transform="rotate(8 85 434)"/><ellipse cx="98" cy="429" rx="1.7" ry="2.9" opacity="0.29" transform="rotate(8 98 429)"/><ellipse cx="112" cy="425" rx="1.8" ry="3.1" opacity="0.30" transform="rotate(8 112 425)"/><ellipse cx="125" cy="420" rx="1.8" ry="3.2" opacity="0.31" transform="rotate(8 125 420)"/><ellipse cx="139" cy="415" rx="1.9" ry="3.3" opacity="0.32" transform="rotate(8 139 415)"/><ellipse cx="152" cy="411" rx="1.9" ry="3.3" opacity="0.32" transform="rotate(8 152 411)"/><ellipse cx="166" cy="406" rx="1.9" ry="3.3" opacity="0.32" transform="rotate(8 166 406)"/><ellipse cx="179" cy="401" rx="1.9" ry="3.3" opacity="0.32" transform="rotate(8 179 401)"/><ellipse cx="193" cy="397" rx="1.9" ry="3.2" opacity="0.31" transform="rotate(8 193 397)"/><ellipse cx="206" cy="392" rx="1.8" ry="3.1" opacity="0.31" transform="rotate(8 206 392)"/><ellipse cx="220" cy="388" rx="1.7" ry="3.0" opacity="0.30" transform="rotate(8 220 388)"/><ellipse cx="233" cy="383" rx="1.7" ry="2.9" opacity="0.29" transform="rotate(8 233 383)"/><ellipse cx="247" cy="378" rx="1.6" ry="2.8" opacity="0.28" transform="rotate(8 247 378)"/><ellipse cx="260" cy="374" rx="1.5" ry="2.6" opacity="0.26" transform="rotate(8 260 374)"/><ellipse cx="274" cy="369" rx="1.4" ry="2.5" opacity="0.25" transform="rotate(8 274 369)"/><ellipse cx="287" cy="364" rx="1.3" ry="2.3" opacity="0.24" transform="rotate(8 287 364)"/><ellipse cx="301" cy="360" rx="1.2" ry="2.1" opacity="0.22" transform="rotate(8 301 360)"/><ellipse cx="314" cy="355" rx="1.1" ry="1.9" opacity="0.21" transform="rotate(8 314 355)"/><ellipse cx="328" cy="350" rx="1.0" ry="1.8" opacity="0.19" transform="rotate(8 328 350)"/><ellipse cx="341" cy="346" rx="0.9" ry="1.6" opacity="0.18" transform="rotate(8 341 346)"/><ellipse cx="355" cy="341" rx="0.7" ry="1.3" opacity="0.16" transform="rotate(8 355 341)"/><ellipse cx="368" cy="336" rx="0.6" ry="1.1" opacity="0.14" transform="rotate(8 368 336)"/><ellipse cx="2" cy="477" rx="0.7" ry="1.3" opacity="0.16" transform="rotate(8 2 477)"/><ellipse cx="16" cy="473" rx="0.8" ry="1.5" opacity="0.17" transform="rotate(8 16 473)"/><ellipse cx="29" cy="468" rx="1.0" ry="1.7" opacity="0.19" transform="rotate(8 29 468)"/><ellipse cx="43" cy="463" rx="1.1" ry="1.9" opacity="0.20" transform="rotate(8 43 463)"/><ellipse cx="56" cy="459" rx="1.2" ry="2.1" opacity="0.22" transform="rotate(8 56 459)"/><ellipse cx="70" cy="454" rx="1.3" ry="2.2" opacity="0.23" transform="rotate(8 70 454)"/><ellipse cx="83" cy="450" rx="1.4" ry="2.4" opacity="0.24" transform="rotate(8 83 450)"/><ellipse cx="97" cy="445" rx="1.4" ry="2.5" opacity="0.26" transform="rotate(8 97 445)"/><ellipse cx="110" cy="440" rx="1.5" ry="2.6" opacity="0.27" transform="rotate(8 110 440)"/><ellipse cx="124" cy="436" rx="1.6" ry="2.8" opacity="0.28" transform="rotate(8 124 436)"/><ellipse cx="137" cy="431" rx="1.7" ry="2.9" opacity="0.28" transform="rotate(8 137 431)"/><ellipse cx="151" cy="426" rx="1.7" ry="3.0" opacity="0.29" transform="rotate(8 151 426)"/><ellipse cx="164" cy="422" rx="1.7" ry="3.0" opacity="0.30" transform="rotate(8 164 422)"/><ellipse cx="178" cy="417" rx="1.8" ry="3.1" opacity="0.30" transform="rotate(8 178 417)"/><ellipse cx="191" cy="412" rx="1.8" ry="3.1" opacity="0.30" transform="rotate(8 191 412)"/><ellipse cx="205" cy="408" rx="1.8" ry="3.0" opacity="0.30" transform="rotate(8 205 408)"/><ellipse cx="218" cy="403" rx="1.7" ry="3.0" opacity="0.29" transform="rotate(8 218 403)"/><ellipse cx="232" cy="398" rx="1.7" ry="2.9" opacity="0.29" transform="rotate(8 232 398)"/><ellipse cx="245" cy="394" rx="1.6" ry="2.8" opacity="0.28" transform="rotate(8 245 394)"/><ellipse cx="259" cy="389" rx="1.5" ry="2.7" opacity="0.27" transform="rotate(8 259 389)"/><ellipse cx="272" cy="384" rx="1.5" ry="2.6" opacity="0.26" transform="rotate(8 272 384)"/><ellipse cx="286" cy="380" rx="1.4" ry="2.4" opacity="0.25" transform="rotate(8 286 380)"/><ellipse cx="299" cy="375" rx="1.3" ry="2.3" opacity="0.24" transform="rotate(8 299 375)"/><ellipse cx="313" cy="370" rx="1.2" ry="2.1" opacity="0.22" transform="rotate(8 313 370)"/><ellipse cx="326" cy="366" rx="1.1" ry="2.0" opacity="0.21" transform="rotate(8 326 366)"/><ellipse cx="340" cy="361" rx="1.0" ry="1.8" opacity="0.20" transform="rotate(8 340 361)"/><ellipse cx="353" cy="356" rx="0.9" ry="1.6" opacity="0.18" transform="rotate(8 353 356)"/><ellipse cx="367" cy="352" rx="0.8" ry="1.4" opacity="0.17" transform="rotate(8 367 352)"/><ellipse cx="380" cy="347" rx="0.7" ry="1.2" opacity="0.15" transform="rotate(8 380 347)"/><ellipse cx="28" cy="484" rx="0.7" ry="1.2" opacity="0.15" transform="rotate(8 28 484)"/><ellipse cx="41" cy="479" rx="0.8" ry="1.4" opacity="0.16" transform="rotate(8 41 479)"/><ellipse cx="55" cy="474" rx="0.9" ry="1.6" opacity="0.18" transform="rotate(8 55 474)"/><ellipse cx="68" cy="470" rx="1.0" ry="1.8" opacity="0.19" transform="rotate(8 68 470)"/><ellipse cx="82" cy="465" rx="1.1" ry="1.9" opacity="0.21" transform="rotate(8 82 465)"/><ellipse cx="95" cy="460" rx="1.2" ry="2.1" opacity="0.22" transform="rotate(8 95 460)"/><ellipse cx="109" cy="456" rx="1.3" ry="2.2" opacity="0.23" transform="rotate(8 109 456)"/><ellipse cx="122" cy="451" rx="1.3" ry="2.3" opacity="0.24" transform="rotate(8 122 451)"/><ellipse cx="136" cy="446" rx="1.4" ry="2.5" opacity="0.25" transform="rotate(8 136 446)"/><ellipse cx="149" cy="442" rx="1.5" ry="2.6" opacity="0.26" transform="rotate(8 149 442)"/><ellipse cx="163" cy="437" rx="1.5" ry="2.6" opacity="0.27" transform="rotate(8 163 437)"/><ellipse cx="176" cy="432" rx="1.6" ry="2.7" opacity="0.27" transform="rotate(8 176 432)"/><ellipse cx="190" cy="428" rx="1.6" ry="2.8" opacity="0.28" transform="rotate(8 190 428)"/><ellipse cx="203" cy="423" rx="1.6" ry="2.8" opacity="0.28" transform="rotate(8 203 423)"/><ellipse cx="217" cy="418" rx="1.6" ry="2.8" opacity="0.28" transform="rotate(8 217 418)"/><ellipse cx="230" cy="414" rx="1.6" ry="2.8" opacity="0.28" transform="rotate(8 230 414)"/><ellipse cx="244" cy="409" rx="1.6" ry="2.7" opacity="0.27" transform="rotate(8 244 409)"/><ellipse cx="257" cy="405" rx="1.5" ry="2.7" opacity="0.27" transform="rotate(8 257 405)"/><ellipse cx="271" cy="400" rx="1.5" ry="2.6" opacity="0.26" transform="rotate(8 271 400)"/><ellipse cx="284" cy="395" rx="1.4" ry="2.5" opacity="0.25" transform="rotate(8 284 395)"/><ellipse cx="298" cy="391" rx="1.3" ry="2.4" opacity="0.24" transform="rotate(8 298 391)"/><ellipse cx="311" cy="386" rx="1.3" ry="2.2" opacity="0.23" transform="rotate(8 311 386)"/><ellipse cx="325" cy="381" rx="1.2" ry="2.1" opacity="0.22" transform="rotate(8 325 381)"/><ellipse cx="338" cy="377" rx="1.1" ry="1.9" opacity="0.21" transform="rotate(8 338 377)"/><ellipse cx="352" cy="372" rx="1.0" ry="1.8" opacity="0.19" transform="rotate(8 352 372)"/><ellipse cx="365" cy="367" rx="0.9" ry="1.6" opacity="0.18" transform="rotate(8 365 367)"/><ellipse cx="379" cy="363" rx="0.8" ry="1.4" opacity="0.17" transform="rotate(8 379 363)"/><ellipse cx="392" cy="358" rx="0.7" ry="1.2" opacity="0.15" transform="rotate(8 392 358)"/><ellipse cx="406" cy="353" rx="0.5" ry="1.0" opacity="0.13" transform="rotate(8 406 353)"/><ellipse cx="53" cy="490" rx="0.6" ry="1.0" opacity="0.13" transform="rotate(8 53 490)"/><ellipse cx="66" cy="485" rx="0.7" ry="1.2" opacity="0.15" transform="rotate(8 66 485)"/><ellipse cx="80" cy="480" rx="0.8" ry="1.4" opacity="0.17" transform="rotate(8 80 480)"/><ellipse cx="93" cy="476" rx="0.9" ry="1.6" opacity="0.18" transform="rotate(8 93 476)"/><ellipse cx="107" cy="471" rx="1.0" ry="1.7" opacity="0.19" transform="rotate(8 107 471)"/><ellipse cx="120" cy="467" rx="1.1" ry="1.9" opacity="0.20" transform="rotate(8 120 467)"/><ellipse cx="134" cy="462" rx="1.1" ry="2.0" opacity="0.21" transform="rotate(8 134 462)"/><ellipse cx="147" cy="457" rx="1.2" ry="2.1" opacity="0.22" transform="rotate(8 147 457)"/><ellipse cx="161" cy="453" rx="1.3" ry="2.2" opacity="0.23" transform="rotate(8 161 453)"/><ellipse cx="174" cy="448" rx="1.3" ry="2.3" opacity="0.24" transform="rotate(8 174 448)"/><ellipse cx="188" cy="443" rx="1.4" ry="2.4" opacity="0.25" transform="rotate(8 188 443)"/><ellipse cx="201" cy="439" rx="1.4" ry="2.5" opacity="0.25" transform="rotate(8 201 439)"/><ellipse cx="215" cy="434" rx="1.4" ry="2.5" opacity="0.25" transform="rotate(8 215 434)"/><ellipse cx="228" cy="429" rx="1.4" ry="2.5" opacity="0.26" transform="rotate(8 228 429)"/><ellipse cx="242" cy="425" rx="1.4" ry="2.5" opacity="0.26" transform="rotate(8 242 425)"/><ellipse cx="255" cy="420" rx="1.4" ry="2.5" opacity="0.25" transform="rotate(8 255 420)"/><ellipse cx="269" cy="415" rx="1.4" ry="2.4" opacity="0.25" transform="rotate(8 269 415)"/><ellipse cx="282" cy="411" rx="1.4" ry="2.4" opacity="0.24" transform="rotate(8 282 411)"/><ellipse cx="296" cy="406" rx="1.3" ry="2.3" opacity="0.24" transform="rotate(8 296 406)"/><ellipse cx="309" cy="401" rx="1.3" ry="2.2" opacity="0.23" transform="rotate(8 309 401)"/><ellipse cx="323" cy="397" rx="1.2" ry="2.1" opacity="0.22" transform="rotate(8 323 397)"/><ellipse cx="336" cy="392" rx="1.1" ry="2.0" opacity="0.21" transform="rotate(8 336 392)"/><ellipse cx="350" cy="388" rx="1.0" ry="1.9" opacity="0.20" transform="rotate(8 350 388)"/><ellipse cx="363" cy="383" rx="1.0" ry="1.7" opacity="0.19" transform="rotate(8 363 383)"/><ellipse cx="377" cy="378" rx="0.9" ry="1.5" opacity="0.18" transform="rotate(8 377 378)"/><ellipse cx="390" cy="374" rx="0.8" ry="1.4" opacity="0.16" transform="rotate(8 390 374)"/><ellipse cx="404" cy="369" rx="0.6" ry="1.2" opacity="0.15" transform="rotate(8 404 369)"/><ellipse cx="417" cy="364" rx="0.5" ry="1.0" opacity="0.13" transform="rotate(8 417 364)"/><ellipse cx="92" cy="491" rx="0.6" ry="1.0" opacity="0.13" transform="rotate(8 92 491)"/><ellipse cx="105" cy="487" rx="0.7" ry="1.2" opacity="0.15" transform="rotate(8 105 487)"/><ellipse cx="119" cy="482" rx="0.8" ry="1.4" opacity="0.16" transform="rotate(8 119 482)"/><ellipse cx="132" cy="477" rx="0.9" ry="1.5" opacity="0.18" transform="rotate(8 132 477)"/><ellipse cx="146" cy="473" rx="0.9" ry="1.7" opacity="0.19" transform="rotate(8 146 473)"/><ellipse cx="159" cy="468" rx="1.0" ry="1.8" opacity="0.20" transform="rotate(8 159 468)"/><ellipse cx="173" cy="463" rx="1.1" ry="1.9" opacity="0.21" transform="rotate(8 173 463)"/><ellipse cx="186" cy="459" rx="1.1" ry="2.0" opacity="0.21" transform="rotate(8 186 459)"/><ellipse cx="200" cy="454" rx="1.2" ry="2.1" opacity="0.22" transform="rotate(8 200 454)"/><ellipse cx="213" cy="450" rx="1.2" ry="2.1" opacity="0.22" transform="rotate(8 213 450)"/><ellipse cx="227" cy="445" rx="1.2" ry="2.2" opacity="0.23" transform="rotate(8 227 445)"/><ellipse cx="240" cy="440" rx="1.3" ry="2.2" opacity="0.23" transform="rotate(8 240 440)"/><ellipse cx="254" cy="436" rx="1.3" ry="2.2" opacity="0.23" transform="rotate(8 254 436)"/><ellipse cx="267" cy="431" rx="1.3" ry="2.2" opacity="0.23" transform="rotate(8 267 431)"/><ellipse cx="281" cy="426" rx="1.2" ry="2.2" opacity="0.23" transform="rotate(8 281 426)"/><ellipse cx="294" cy="422" rx="1.2" ry="2.2" opacity="0.23" transform="rotate(8 294 422)"/><ellipse cx="308" cy="417" rx="1.2" ry="2.1" opacity="0.22" transform="rotate(8 308 417)"/><ellipse cx="321" cy="412" rx="1.1" ry="2.0" opacity="0.22" transform="rotate(8 321 412)"/><ellipse cx="335" cy="408" rx="1.1" ry="1.9" opacity="0.21" transform="rotate(8 335 408)"/><ellipse cx="348" cy="403" rx="1.0" ry="1.8" opacity="0.20" transform="rotate(8 348 403)"/><ellipse cx="362" cy="398" rx="1.0" ry="1.7" opacity="0.19" transform="rotate(8 362 398)"/><ellipse cx="375" cy="394" rx="0.9" ry="1.6" opacity="0.18" transform="rotate(8 375 394)"/><ellipse cx="389" cy="389" rx="0.8" ry="1.4" opacity="0.17" transform="rotate(8 389 389)"/><ellipse cx="402" cy="384" rx="0.7" ry="1.3" opacity="0.16" transform="rotate(8 402 384)"/><ellipse cx="416" cy="380" rx="0.6" ry="1.1" opacity="0.14" transform="rotate(8 416 380)"/><ellipse cx="144" cy="488" rx="0.6" ry="1.1" opacity="0.14" transform="rotate(8 144 488)"/><ellipse cx="158" cy="484" rx="0.7" ry="1.3" opacity="0.16" transform="rotate(8 158 484)"/><ellipse cx="171" cy="479" rx="0.8" ry="1.4" opacity="0.17" transform="rotate(8 171 479)"/><ellipse cx="185" cy="474" rx="0.9" ry="1.5" opacity="0.18" transform="rotate(8 185 474)"/><ellipse cx="198" cy="470" rx="0.9" ry="1.6" opacity="0.18" transform="rotate(8 198 470)"/><ellipse cx="212" cy="465" rx="1.0" ry="1.7" opacity="0.19" transform="rotate(8 212 465)"/><ellipse cx="225" cy="460" rx="1.0" ry="1.8" opacity="0.20" transform="rotate(8 225 460)"/><ellipse cx="239" cy="456" rx="1.0" ry="1.8" opacity="0.20" transform="rotate(8 239 456)"/><ellipse cx="252" cy="451" rx="1.1" ry="1.9" opacity="0.20" transform="rotate(8 252 451)"/><ellipse cx="266" cy="446" rx="1.1" ry="1.9" opacity="0.21" transform="rotate(8 266 446)"/><ellipse cx="279" cy="442" rx="1.1" ry="1.9" opacity="0.21" transform="rotate(8 279 442)"/><ellipse cx="293" cy="437" rx="1.1" ry="1.9" opacity="0.21" transform="rotate(8 293 437)"/><ellipse cx="306" cy="432" rx="1.1" ry="1.9" opacity="0.20" transform="rotate(8 306 432)"/><ellipse cx="320" cy="428" rx="1.0" ry="1.9" opacity="0.20" transform="rotate(8 320 428)"/><ellipse cx="333" cy="423" rx="1.0" ry="1.8" opacity="0.20" transform="rotate(8 333 423)"/><ellipse cx="347" cy="418" rx="1.0" ry="1.7" opacity="0.19" transform="rotate(8 347 418)"/><ellipse cx="360" cy="414" rx="0.9" ry="1.6" opacity="0.18" transform="rotate(8 360 414)"/><ellipse cx="374" cy="409" rx="0.9" ry="1.5" opacity="0.18" transform="rotate(8 374 409)"/><ellipse cx="387" cy="405" rx="0.8" ry="1.4" opacity="0.17" transform="rotate(8 387 405)"/><ellipse cx="401" cy="400" rx="0.7" ry="1.3" opacity="0.16" transform="rotate(8 401 400)"/><ellipse cx="414" cy="395" rx="0.6" ry="1.1" opacity="0.14" transform="rotate(8 414 395)"/><ellipse cx="428" cy="391" rx="0.5" ry="1.0" opacity="0.13" transform="rotate(8 428 391)"/><ellipse cx="183" cy="490" rx="0.5" ry="1.0" opacity="0.13" transform="rotate(8 183 490)"/><ellipse cx="197" cy="485" rx="0.6" ry="1.1" opacity="0.14" transform="rotate(8 197 485)"/><ellipse cx="210" cy="480" rx="0.7" ry="1.2" opacity="0.15" transform="rotate(8 210 480)"/><ellipse cx="224" cy="476" rx="0.7" ry="1.3" opacity="0.16" transform="rotate(8 224 476)"/><ellipse cx="237" cy="471" rx="0.8" ry="1.4" opacity="0.17" transform="rotate(8 237 471)"/><ellipse cx="251" cy="467" rx="0.8" ry="1.5" opacity="0.17" transform="rotate(8 251 467)"/><ellipse cx="264" cy="462" rx="0.9" ry="1.5" opacity="0.18" transform="rotate(8 264 462)"/><ellipse cx="278" cy="457" rx="0.9" ry="1.6" opacity="0.18" transform="rotate(8 278 457)"/><ellipse cx="291" cy="453" rx="0.9" ry="1.6" opacity="0.18" transform="rotate(8 291 453)"/><ellipse cx="305" cy="448" rx="0.9" ry="1.6" opacity="0.18" transform="rotate(8 305 448)"/><ellipse cx="318" cy="443" rx="0.9" ry="1.6" opacity="0.18" transform="rotate(8 318 443)"/><ellipse cx="332" cy="439" rx="0.9" ry="1.6" opacity="0.18" transform="rotate(8 332 439)"/><ellipse cx="345" cy="434" rx="0.8" ry="1.5" opacity="0.17" transform="rotate(8 345 434)"/><ellipse cx="359" cy="429" rx="0.8" ry="1.5" opacity="0.17" transform="rotate(8 359 429)"/><ellipse cx="372" cy="425" rx="0.8" ry="1.4" opacity="0.16" transform="rotate(8 372 425)"/><ellipse cx="386" cy="420" rx="0.7" ry="1.3" opacity="0.16" transform="rotate(8 386 420)"/><ellipse cx="399" cy="415" rx="0.7" ry="1.2" opacity="0.15" transform="rotate(8 399 415)"/><ellipse cx="413" cy="411" rx="0.6" ry="1.1" opacity="0.14" transform="rotate(8 413 411)"/><ellipse cx="249" cy="482" rx="0.5" ry="1.0" opacity="0.13" transform="rotate(8 249 482)"/><ellipse cx="262" cy="477" rx="0.6" ry="1.1" opacity="0.14" transform="rotate(8 262 477)"/><ellipse cx="276" cy="473" rx="0.6" ry="1.1" opacity="0.14" transform="rotate(8 276 473)"/><ellipse cx="289" cy="468" rx="0.7" ry="1.2" opacity="0.15" transform="rotate(8 289 468)"/><ellipse cx="303" cy="463" rx="0.7" ry="1.2" opacity="0.15" transform="rotate(8 303 463)"/><ellipse cx="316" cy="459" rx="0.7" ry="1.2" opacity="0.15" transform="rotate(8 316 459)"/><ellipse cx="330" cy="454" rx="0.7" ry="1.2" opacity="0.15" transform="rotate(8 330 454)"/><ellipse cx="343" cy="450" rx="0.7" ry="1.2" opacity="0.15" transform="rotate(8 343 450)"/><ellipse cx="357" cy="445" rx="0.7" ry="1.2" opacity="0.15" transform="rotate(8 357 445)"/><ellipse cx="370" cy="440" rx="0.6" ry="1.2" opacity="0.15" transform="rotate(8 370 440)"/><ellipse cx="384" cy="436" rx="0.6" ry="1.1" opacity="0.14" transform="rotate(8 384 436)"/><ellipse cx="397" cy="431" rx="0.6" ry="1.0" opacity="0.13" transform="rotate(8 397 431)"/></g>
<g fill="#4840ff"><ellipse cx="1135" cy="873" rx="0.7" ry="1.2" opacity="0.22" transform="rotate(14 1135 873)"/><ellipse cx="1150" cy="874" rx="0.8" ry="1.4" opacity="0.25" transform="rotate(14 1150 874)"/><ellipse cx="1102" cy="886" rx="0.6" ry="1.1" opacity="0.21" transform="rotate(14 1102 886)"/><ellipse cx="1117" cy="887" rx="0.8" ry="1.4" opacity="0.25" transform="rotate(14 1117 887)"/><ellipse cx="1132" cy="889" rx="0.9" ry="1.7" opacity="0.28" transform="rotate(14 1132 889)"/><ellipse cx="1147" cy="890" rx="1.1" ry="1.9" opacity="0.30" transform="rotate(14 1147 890)"/><ellipse cx="1162" cy="892" rx="1.1" ry="2.0" opacity="0.32" transform="rotate(14 1162 892)"/><ellipse cx="1084" cy="900" rx="0.7" ry="1.2" opacity="0.22" transform="rotate(14 1084 900)"/><ellipse cx="1099" cy="902" rx="0.9" ry="1.6" opacity="0.27" transform="rotate(14 1099 902)"/><ellipse cx="1114" cy="903" rx="1.0" ry="1.8" opacity="0.30" transform="rotate(14 1114 903)"/><ellipse cx="1129" cy="905" rx="1.2" ry="2.1" opacity="0.33" transform="rotate(14 1129 905)"/><ellipse cx="1144" cy="906" rx="1.3" ry="2.2" opacity="0.35" transform="rotate(14 1144 906)"/><ellipse cx="1159" cy="908" rx="1.4" ry="2.4" opacity="0.37" transform="rotate(14 1159 908)"/><ellipse cx="1066" cy="914" rx="0.7" ry="1.2" opacity="0.22" transform="rotate(14 1066 914)"/><ellipse cx="1081" cy="916" rx="0.9" ry="1.6" opacity="0.27" transform="rotate(14 1081 916)"/><ellipse cx="1096" cy="918" rx="1.1" ry="1.9" opacity="0.31" transform="rotate(14 1096 918)"/><ellipse cx="1111" cy="919" rx="1.2" ry="2.2" opacity="0.34" transform="rotate(14 1111 919)"/><ellipse cx="1126" cy="921" rx="1.4" ry="2.4" opacity="0.37" transform="rotate(14 1126 921)"/><ellipse cx="1141" cy="922" rx="1.5" ry="2.6" opacity="0.39" transform="rotate(14 1141 922)"/><ellipse cx="1156" cy="924" rx="1.6" ry="2.7" opacity="0.41" transform="rotate(14 1156 924)"/><ellipse cx="1048" cy="929" rx="0.6" ry="1.1" opacity="0.21" transform="rotate(14 1048 929)"/><ellipse cx="1063" cy="930" rx="0.9" ry="1.5" opacity="0.27" transform="rotate(14 1063 930)"/><ellipse cx="1078" cy="932" rx="1.1" ry="1.9" opacity="0.31" transform="rotate(14 1078 932)"/><ellipse cx="1093" cy="934" rx="1.3" ry="2.2" opacity="0.34" transform="rotate(14 1093 934)"/><ellipse cx="1108" cy="935" rx="1.4" ry="2.5" opacity="0.38" transform="rotate(14 1108 935)"/><ellipse cx="1123" cy="937" rx="1.5" ry="2.7" opacity="0.40" transform="rotate(14 1123 937)"/><ellipse cx="1138" cy="938" rx="1.7" ry="2.9" opacity="0.43" transform="rotate(14 1138 938)"/><ellipse cx="1153" cy="940" rx="1.8" ry="3.0" opacity="0.44" transform="rotate(14 1153 940)"/><ellipse cx="1045" cy="945" rx="0.8" ry="1.4" opacity="0.25" transform="rotate(14 1045 945)"/><ellipse cx="1060" cy="946" rx="1.0" ry="1.8" opacity="0.30" transform="rotate(14 1060 946)"/><ellipse cx="1075" cy="948" rx="1.2" ry="2.2" opacity="0.34" transform="rotate(14 1075 948)"/><ellipse cx="1090" cy="950" rx="1.4" ry="2.5" opacity="0.38" transform="rotate(14 1090 950)"/><ellipse cx="1105" cy="951" rx="1.6" ry="2.7" opacity="0.41" transform="rotate(14 1105 951)"/><ellipse cx="1120" cy="953" rx="1.7" ry="3.0" opacity="0.44" transform="rotate(14 1120 953)"/><ellipse cx="1135" cy="954" rx="1.8" ry="3.1" opacity="0.46" transform="rotate(14 1135 954)"/><ellipse cx="1150" cy="956" rx="1.9" ry="3.3" opacity="0.48" transform="rotate(14 1150 956)"/><ellipse cx="1027" cy="959" rx="0.7" ry="1.2" opacity="0.22" transform="rotate(14 1027 959)"/><ellipse cx="1042" cy="961" rx="0.9" ry="1.7" opacity="0.28" transform="rotate(14 1042 961)"/><ellipse cx="1057" cy="962" rx="1.2" ry="2.1" opacity="0.33" transform="rotate(14 1057 962)"/><ellipse cx="1072" cy="964" rx="1.4" ry="2.4" opacity="0.37" transform="rotate(14 1072 964)"/><ellipse cx="1087" cy="966" rx="1.6" ry="2.7" opacity="0.40" transform="rotate(14 1087 966)"/><ellipse cx="1102" cy="967" rx="1.7" ry="3.0" opacity="0.44" transform="rotate(14 1102 967)"/><ellipse cx="1117" cy="969" rx="1.9" ry="3.2" opacity="0.47" transform="rotate(14 1117 969)"/><ellipse cx="1132" cy="970" rx="2.0" ry="3.4" opacity="0.49" transform="rotate(14 1132 970)"/><ellipse cx="1147" cy="972" rx="2.1" ry="3.6" opacity="0.51" transform="rotate(14 1147 972)"/><ellipse cx="1162" cy="974" rx="2.2" ry="3.7" opacity="0.53" transform="rotate(14 1162 974)"/><ellipse cx="1024" cy="975" rx="0.8" ry="1.4" opacity="0.25" transform="rotate(14 1024 975)"/><ellipse cx="1039" cy="977" rx="1.1" ry="1.9" opacity="0.31" transform="rotate(14 1039 977)"/><ellipse cx="1054" cy="978" rx="1.3" ry="2.3" opacity="0.35" transform="rotate(14 1054 978)"/><ellipse cx="1069" cy="980" rx="1.5" ry="2.6" opacity="0.39" transform="rotate(14 1069 980)"/><ellipse cx="1084" cy="982" rx="1.7" ry="2.9" opacity="0.43" transform="rotate(14 1084 982)"/><ellipse cx="1099" cy="983" rx="1.8" ry="3.2" opacity="0.46" transform="rotate(14 1099 983)"/><ellipse cx="1114" cy="985" rx="2.0" ry="3.4" opacity="0.49" transform="rotate(14 1114 985)"/><ellipse cx="1129" cy="986" rx="2.1" ry="3.6" opacity="0.52" transform="rotate(14 1129 986)"/><ellipse cx="1144" cy="988" rx="2.2" ry="3.8" opacity="0.54" transform="rotate(14 1144 988)"/><ellipse cx="1159" cy="990" rx="2.3" ry="4.0" opacity="0.56" transform="rotate(14 1159 990)"/><ellipse cx="1006" cy="990" rx="0.6" ry="1.1" opacity="0.21" transform="rotate(14 1006 990)"/><ellipse cx="1021" cy="991" rx="0.9" ry="1.6" opacity="0.27" transform="rotate(14 1021 991)"/><ellipse cx="1036" cy="993" rx="1.2" ry="2.1" opacity="0.33" transform="rotate(14 1036 993)"/><ellipse cx="1051" cy="994" rx="1.4" ry="2.4" opacity="0.37" transform="rotate(14 1051 994)"/><ellipse cx="1066" cy="996" rx="1.6" ry="2.8" opacity="0.41" transform="rotate(14 1066 996)"/><ellipse cx="1081" cy="998" rx="1.8" ry="3.1" opacity="0.45" transform="rotate(14 1081 998)"/><ellipse cx="1096" cy="999" rx="2.0" ry="3.4" opacity="0.49" transform="rotate(14 1096 999)"/><ellipse cx="1111" cy="1001" rx="2.1" ry="3.6" opacity="0.52" transform="rotate(14 1111 1001)"/><ellipse cx="1126" cy="1002" rx="2.2" ry="3.8" opacity="0.54" transform="rotate(14 1126 1002)"/><ellipse cx="1141" cy="1004" rx="2.4" ry="4.0" opacity="0.57" transform="rotate(14 1141 1004)"/><ellipse cx="1156" cy="1006" rx="2.5" ry="4.2" opacity="0.59" transform="rotate(14 1156 1006)"/><ellipse cx="988" cy="1004" rx="0.5" ry="1.0" opacity="0.20" transform="rotate(14 988 1004)"/><ellipse cx="1003" cy="1006" rx="0.7" ry="1.2" opacity="0.23" transform="rotate(14 1003 1006)"/><ellipse cx="1018" cy="1007" rx="1.0" ry="1.8" opacity="0.29" transform="rotate(14 1018 1007)"/><ellipse cx="1033" cy="1009" rx="1.3" ry="2.2" opacity="0.34" transform="rotate(14 1033 1009)"/><ellipse cx="1048" cy="1010" rx="1.5" ry="2.6" opacity="0.39" transform="rotate(14 1048 1010)"/><ellipse cx="1063" cy="1012" rx="1.7" ry="2.9" opacity="0.43" transform="rotate(14 1063 1012)"/><ellipse cx="1078" cy="1014" rx="1.9" ry="3.2" opacity="0.47" transform="rotate(14 1078 1014)"/><ellipse cx="1093" cy="1015" rx="2.1" ry="3.5" opacity="0.50" transform="rotate(14 1093 1015)"/><ellipse cx="1108" cy="1017" rx="2.2" ry="3.8" opacity="0.54" transform="rotate(14 1108 1017)"/><ellipse cx="1123" cy="1018" rx="2.4" ry="4.0" opacity="0.57" transform="rotate(14 1123 1018)"/><ellipse cx="1138" cy="1020" rx="2.5" ry="4.2" opacity="0.59" transform="rotate(14 1138 1020)"/><ellipse cx="1153" cy="1022" rx="2.6" ry="4.4" opacity="0.62" transform="rotate(14 1153 1022)"/><ellipse cx="955" cy="1017" rx="0.5" ry="1.0" opacity="0.19" transform="rotate(14 955 1017)"/><ellipse cx="970" cy="1018" rx="0.5" ry="1.0" opacity="0.20" transform="rotate(14 970 1018)"/><ellipse cx="985" cy="1020" rx="0.6" ry="1.0" opacity="0.20" transform="rotate(14 985 1020)"/><ellipse cx="1000" cy="1022" rx="0.8" ry="1.4" opacity="0.24" transform="rotate(14 1000 1022)"/><ellipse cx="1015" cy="1023" rx="1.1" ry="1.9" opacity="0.30" transform="rotate(14 1015 1023)"/><ellipse cx="1030" cy="1025" rx="1.3" ry="2.3" opacity="0.36" transform="rotate(14 1030 1025)"/><ellipse cx="1045" cy="1026" rx="1.5" ry="2.7" opacity="0.40" transform="rotate(14 1045 1026)"/><ellipse cx="1060" cy="1028" rx="1.8" ry="3.0" opacity="0.44" transform="rotate(14 1060 1028)"/><ellipse cx="1075" cy="1030" rx="1.9" ry="3.3" opacity="0.48" transform="rotate(14 1075 1030)"/><ellipse cx="1090" cy="1031" rx="2.1" ry="3.6" opacity="0.52" transform="rotate(14 1090 1031)"/><ellipse cx="1105" cy="1033" rx="2.3" ry="3.9" opacity="0.55" transform="rotate(14 1105 1033)"/><ellipse cx="1120" cy="1034" rx="2.5" ry="4.2" opacity="0.59" transform="rotate(14 1120 1034)"/><ellipse cx="1135" cy="1036" rx="2.6" ry="4.4" opacity="0.61" transform="rotate(14 1135 1036)"/><ellipse cx="1150" cy="1038" rx="2.7" ry="4.6" opacity="0.64" transform="rotate(14 1150 1038)"/><ellipse cx="937" cy="1031" rx="0.5" ry="1.0" opacity="0.19" transform="rotate(14 937 1031)"/><ellipse cx="952" cy="1033" rx="0.5" ry="1.0" opacity="0.20" transform="rotate(14 952 1033)"/><ellipse cx="967" cy="1034" rx="0.6" ry="1.1" opacity="0.21" transform="rotate(14 967 1034)"/><ellipse cx="982" cy="1036" rx="0.6" ry="1.1" opacity="0.21" transform="rotate(14 982 1036)"/><ellipse cx="997" cy="1038" rx="0.8" ry="1.4" opacity="0.25" transform="rotate(14 997 1038)"/><ellipse cx="1012" cy="1039" rx="1.1" ry="1.9" opacity="0.31" transform="rotate(14 1012 1039)"/><ellipse cx="1027" cy="1041" rx="1.4" ry="2.4" opacity="0.36" transform="rotate(14 1027 1041)"/><ellipse cx="1042" cy="1042" rx="1.6" ry="2.8" opacity="0.41" transform="rotate(14 1042 1042)"/><ellipse cx="1057" cy="1044" rx="1.8" ry="3.1" opacity="0.45" transform="rotate(14 1057 1044)"/><ellipse cx="1072" cy="1046" rx="2.0" ry="3.4" opacity="0.49" transform="rotate(14 1072 1046)"/><ellipse cx="1087" cy="1047" rx="2.2" ry="3.7" opacity="0.53" transform="rotate(14 1087 1047)"/><ellipse cx="1102" cy="1049" rx="2.4" ry="4.0" opacity="0.57" transform="rotate(14 1102 1049)"/><ellipse cx="1117" cy="1050" rx="2.5" ry="4.3" opacity="0.60" transform="rotate(14 1117 1050)"/><ellipse cx="1132" cy="1052" rx="2.7" ry="4.6" opacity="0.63" transform="rotate(14 1132 1052)"/><ellipse cx="1147" cy="1054" rx="2.8" ry="4.8" opacity="0.66" transform="rotate(14 1147 1054)"/><ellipse cx="1162" cy="1055" rx="2.9" ry="5.0" opacity="0.68" transform="rotate(14 1162 1055)"/><ellipse cx="919" cy="1046" rx="0.5" ry="1.0" opacity="0.20" transform="rotate(14 919 1046)"/><ellipse cx="934" cy="1047" rx="0.6" ry="1.0" opacity="0.20" transform="rotate(14 934 1047)"/><ellipse cx="949" cy="1049" rx="0.6" ry="1.1" opacity="0.21" transform="rotate(14 949 1049)"/><ellipse cx="964" cy="1050" rx="0.6" ry="1.1" opacity="0.21" transform="rotate(14 964 1050)"/><ellipse cx="979" cy="1052" rx="0.6" ry="1.2" opacity="0.22" transform="rotate(14 979 1052)"/><ellipse cx="994" cy="1054" rx="0.8" ry="1.5" opacity="0.26" transform="rotate(14 994 1054)"/><ellipse cx="1009" cy="1055" rx="1.1" ry="2.0" opacity="0.32" transform="rotate(14 1009 1055)"/><ellipse cx="1024" cy="1057" rx="1.4" ry="2.4" opacity="0.37" transform="rotate(14 1024 1057)"/><ellipse cx="1039" cy="1058" rx="1.6" ry="2.8" opacity="0.42" transform="rotate(14 1039 1058)"/><ellipse cx="1054" cy="1060" rx="1.8" ry="3.2" opacity="0.46" transform="rotate(14 1054 1060)"/><ellipse cx="1069" cy="1062" rx="2.0" ry="3.5" opacity="0.50" transform="rotate(14 1069 1062)"/><ellipse cx="1084" cy="1063" rx="2.2" ry="3.8" opacity="0.54" transform="rotate(14 1084 1063)"/><ellipse cx="1099" cy="1065" rx="2.4" ry="4.1" opacity="0.58" transform="rotate(14 1099 1065)"/><ellipse cx="1114" cy="1066" rx="2.6" ry="4.4" opacity="0.61" transform="rotate(14 1114 1066)"/><ellipse cx="1129" cy="1068" rx="2.7" ry="4.7" opacity="0.65" transform="rotate(14 1129 1068)"/><ellipse cx="1144" cy="1070" rx="2.9" ry="4.9" opacity="0.68" transform="rotate(14 1144 1070)"/><ellipse cx="1159" cy="1071" rx="3.0" ry="5.2" opacity="0.70" transform="rotate(14 1159 1071)"/><ellipse cx="901" cy="1060" rx="0.5" ry="1.0" opacity="0.19" transform="rotate(14 901 1060)"/><ellipse cx="916" cy="1062" rx="0.6" ry="1.0" opacity="0.20" transform="rotate(14 916 1062)"/><ellipse cx="931" cy="1063" rx="0.6" ry="1.1" opacity="0.21" transform="rotate(14 931 1063)"/><ellipse cx="946" cy="1065" rx="0.6" ry="1.1" opacity="0.21" transform="rotate(14 946 1065)"/><ellipse cx="961" cy="1066" rx="0.6" ry="1.2" opacity="0.22" transform="rotate(14 961 1066)"/><ellipse cx="976" cy="1068" rx="0.7" ry="1.2" opacity="0.22" transform="rotate(14 976 1068)"/><ellipse cx="991" cy="1070" rx="0.8" ry="1.5" opacity="0.26" transform="rotate(14 991 1070)"/><ellipse cx="1006" cy="1071" rx="1.1" ry="2.0" opacity="0.32" transform="rotate(14 1006 1071)"/><ellipse cx="1021" cy="1073" rx="1.4" ry="2.4" opacity="0.37" transform="rotate(14 1021 1073)"/><ellipse cx="1036" cy="1074" rx="1.6" ry="2.8" opacity="0.42" transform="rotate(14 1036 1074)"/><ellipse cx="1051" cy="1076" rx="1.9" ry="3.2" opacity="0.46" transform="rotate(14 1051 1076)"/><ellipse cx="1066" cy="1078" rx="2.1" ry="3.5" opacity="0.51" transform="rotate(14 1066 1078)"/><ellipse cx="1081" cy="1079" rx="2.3" ry="3.9" opacity="0.55" transform="rotate(14 1081 1079)"/><ellipse cx="1096" cy="1081" rx="2.4" ry="4.2" opacity="0.58" transform="rotate(14 1096 1081)"/><ellipse cx="1111" cy="1082" rx="2.6" ry="4.5" opacity="0.62" transform="rotate(14 1111 1082)"/><ellipse cx="1126" cy="1084" rx="2.8" ry="4.7" opacity="0.65" transform="rotate(14 1126 1084)"/><ellipse cx="1141" cy="1086" rx="3.0" ry="5.0" opacity="0.69" transform="rotate(14 1141 1086)"/><ellipse cx="1156" cy="1087" rx="3.1" ry="5.3" opacity="0.72" transform="rotate(14 1156 1087)"/><ellipse cx="883" cy="1074" rx="0.5" ry="1.0" opacity="0.19" transform="rotate(14 883 1074)"/><ellipse cx="898" cy="1076" rx="0.5" ry="1.0" opacity="0.20" transform="rotate(14 898 1076)"/><ellipse cx="913" cy="1078" rx="0.6" ry="1.1" opacity="0.21" transform="rotate(14 913 1078)"/><ellipse cx="928" cy="1079" rx="0.6" ry="1.1" opacity="0.21" transform="rotate(14 928 1079)"/><ellipse cx="943" cy="1081" rx="0.6" ry="1.2" opacity="0.22" transform="rotate(14 943 1081)"/><ellipse cx="958" cy="1082" rx="0.7" ry="1.2" opacity="0.23" transform="rotate(14 958 1082)"/><ellipse cx="973" cy="1084" rx="0.7" ry="1.3" opacity="0.23" transform="rotate(14 973 1084)"/><ellipse cx="988" cy="1086" rx="0.8" ry="1.5" opacity="0.26" transform="rotate(14 988 1086)"/><ellipse cx="1003" cy="1087" rx="1.1" ry="2.0" opacity="0.32" transform="rotate(14 1003 1087)"/><ellipse cx="1018" cy="1089" rx="1.4" ry="2.4" opacity="0.37" transform="rotate(14 1018 1089)"/><ellipse cx="1033" cy="1090" rx="1.6" ry="2.8" opacity="0.42" transform="rotate(14 1033 1090)"/><ellipse cx="1048" cy="1092" rx="1.8" ry="3.2" opacity="0.46" transform="rotate(14 1048 1092)"/><ellipse cx="1063" cy="1094" rx="2.1" ry="3.5" opacity="0.51" transform="rotate(14 1063 1094)"/><ellipse cx="1078" cy="1095" rx="2.3" ry="3.9" opacity="0.55" transform="rotate(14 1078 1095)"/><ellipse cx="1093" cy="1097" rx="2.4" ry="4.2" opacity="0.58" transform="rotate(14 1093 1097)"/><ellipse cx="1108" cy="1098" rx="2.6" ry="4.5" opacity="0.62" transform="rotate(14 1108 1098)"/><ellipse cx="1123" cy="1100" rx="2.8" ry="4.8" opacity="0.66" transform="rotate(14 1123 1100)"/><ellipse cx="1138" cy="1102" rx="3.0" ry="5.1" opacity="0.69" transform="rotate(14 1138 1102)"/><ellipse cx="1153" cy="1103" rx="3.1" ry="5.3" opacity="0.72" transform="rotate(14 1153 1103)"/><ellipse cx="880" cy="1090" rx="0.5" ry="1.0" opacity="0.20" transform="rotate(14 880 1090)"/><ellipse cx="895" cy="1092" rx="0.6" ry="1.1" opacity="0.21" transform="rotate(14 895 1092)"/><ellipse cx="910" cy="1094" rx="0.6" ry="1.1" opacity="0.21" transform="rotate(14 910 1094)"/><ellipse cx="925" cy="1095" rx="0.6" ry="1.2" opacity="0.22" transform="rotate(14 925 1095)"/><ellipse cx="940" cy="1097" rx="0.7" ry="1.2" opacity="0.23" transform="rotate(14 940 1097)"/><ellipse cx="955" cy="1098" rx="0.7" ry="1.3" opacity="0.23" transform="rotate(14 955 1098)"/><ellipse cx="970" cy="1100" rx="0.7" ry="1.3" opacity="0.24" transform="rotate(14 970 1100)"/><ellipse cx="985" cy="1102" rx="0.8" ry="1.4" opacity="0.25" transform="rotate(14 985 1102)"/><ellipse cx="1000" cy="1103" rx="1.1" ry="1.9" opacity="0.31" transform="rotate(14 1000 1103)"/><ellipse cx="1015" cy="1105" rx="1.4" ry="2.4" opacity="0.37" transform="rotate(14 1015 1105)"/><ellipse cx="1030" cy="1106" rx="1.6" ry="2.8" opacity="0.41" transform="rotate(14 1030 1106)"/><ellipse cx="1045" cy="1108" rx="1.8" ry="3.1" opacity="0.46" transform="rotate(14 1045 1108)"/><ellipse cx="1060" cy="1110" rx="2.0" ry="3.5" opacity="0.50" transform="rotate(14 1060 1110)"/><ellipse cx="1075" cy="1111" rx="2.2" ry="3.8" opacity="0.54" transform="rotate(14 1075 1111)"/><ellipse cx="1090" cy="1113" rx="2.4" ry="4.1" opacity="0.58" transform="rotate(14 1090 1113)"/><ellipse cx="1105" cy="1114" rx="2.6" ry="4.5" opacity="0.62" transform="rotate(14 1105 1114)"/><ellipse cx="1120" cy="1116" rx="2.8" ry="4.8" opacity="0.65" transform="rotate(14 1120 1116)"/><ellipse cx="1135" cy="1118" rx="3.0" ry="5.0" opacity="0.69" transform="rotate(14 1135 1118)"/><ellipse cx="1150" cy="1119" rx="3.1" ry="5.3" opacity="0.72" transform="rotate(14 1150 1119)"/><ellipse cx="862" cy="1105" rx="0.5" ry="1.0" opacity="0.20" transform="rotate(14 862 1105)"/><ellipse cx="877" cy="1106" rx="0.6" ry="1.0" opacity="0.20" transform="rotate(14 877 1106)"/><ellipse cx="892" cy="1108" rx="0.6" ry="1.1" opacity="0.21" transform="rotate(14 892 1108)"/><ellipse cx="907" cy="1110" rx="0.6" ry="1.2" opacity="0.22" transform="rotate(14 907 1110)"/><ellipse cx="922" cy="1111" rx="0.7" ry="1.2" opacity="0.23" transform="rotate(14 922 1111)"/><ellipse cx="937" cy="1113" rx="0.7" ry="1.3" opacity="0.23" transform="rotate(14 937 1113)"/><ellipse cx="952" cy="1114" rx="0.7" ry="1.3" opacity="0.24" transform="rotate(14 952 1114)"/><ellipse cx="967" cy="1116" rx="0.8" ry="1.4" opacity="0.25" transform="rotate(14 967 1116)"/><ellipse cx="982" cy="1118" rx="0.8" ry="1.4" opacity="0.25" transform="rotate(14 982 1118)"/><ellipse cx="997" cy="1119" rx="1.1" ry="1.9" opacity="0.30" transform="rotate(14 997 1119)"/><ellipse cx="1012" cy="1121" rx="1.3" ry="2.3" opacity="0.36" transform="rotate(14 1012 1121)"/><ellipse cx="1027" cy="1122" rx="1.6" ry="2.7" opacity="0.41" transform="rotate(14 1027 1122)"/><ellipse cx="1042" cy="1124" rx="1.8" ry="3.1" opacity="0.45" transform="rotate(14 1042 1124)"/><ellipse cx="1057" cy="1126" rx="2.0" ry="3.4" opacity="0.49" transform="rotate(14 1057 1126)"/><ellipse cx="1072" cy="1127" rx="2.2" ry="3.8" opacity="0.53" transform="rotate(14 1072 1127)"/><ellipse cx="1087" cy="1129" rx="2.4" ry="4.1" opacity="0.57" transform="rotate(14 1087 1129)"/><ellipse cx="1102" cy="1130" rx="2.6" ry="4.4" opacity="0.61" transform="rotate(14 1102 1130)"/><ellipse cx="1117" cy="1132" rx="2.7" ry="4.7" opacity="0.65" transform="rotate(14 1117 1132)"/><ellipse cx="1132" cy="1134" rx="2.9" ry="5.0" opacity="0.68" transform="rotate(14 1132 1134)"/><ellipse cx="1147" cy="1135" rx="3.1" ry="5.2" opacity="0.71" transform="rotate(14 1147 1135)"/><ellipse cx="1162" cy="1137" rx="3.2" ry="5.5" opacity="0.74" transform="rotate(14 1162 1137)"/><ellipse cx="844" cy="1119" rx="0.5" ry="1.0" opacity="0.19" transform="rotate(14 844 1119)"/><ellipse cx="859" cy="1121" rx="0.6" ry="1.0" opacity="0.20" transform="rotate(14 859 1121)"/><ellipse cx="874" cy="1122" rx="0.6" ry="1.1" opacity="0.21" transform="rotate(14 874 1122)"/><ellipse cx="889" cy="1124" rx="0.6" ry="1.1" opacity="0.22" transform="rotate(14 889 1124)"/><ellipse cx="904" cy="1126" rx="0.7" ry="1.2" opacity="0.22" transform="rotate(14 904 1126)"/><ellipse cx="919" cy="1127" rx="0.7" ry="1.3" opacity="0.23" transform="rotate(14 919 1127)"/><ellipse cx="934" cy="1129" rx="0.7" ry="1.3" opacity="0.24" transform="rotate(14 934 1129)"/><ellipse cx="949" cy="1130" rx="0.8" ry="1.4" opacity="0.25" transform="rotate(14 949 1130)"/><ellipse cx="964" cy="1132" rx="0.8" ry="1.4" opacity="0.25" transform="rotate(14 964 1132)"/><ellipse cx="979" cy="1134" rx="0.8" ry="1.5" opacity="0.26" transform="rotate(14 979 1134)"/><ellipse cx="994" cy="1135" rx="1.0" ry="1.7" opacity="0.29" transform="rotate(14 994 1135)"/><ellipse cx="1009" cy="1137" rx="1.3" ry="2.2" opacity="0.34" transform="rotate(14 1009 1137)"/><ellipse cx="1024" cy="1138" rx="1.5" ry="2.6" opacity="0.39" transform="rotate(14 1024 1138)"/><ellipse cx="1039" cy="1140" rx="1.7" ry="3.0" opacity="0.44" transform="rotate(14 1039 1140)"/><ellipse cx="1054" cy="1142" rx="1.9" ry="3.3" opacity="0.48" transform="rotate(14 1054 1142)"/><ellipse cx="1069" cy="1143" rx="2.1" ry="3.7" opacity="0.52" transform="rotate(14 1069 1143)"/><ellipse cx="1084" cy="1145" rx="2.3" ry="4.0" opacity="0.56" transform="rotate(14 1084 1145)"/><ellipse cx="1099" cy="1146" rx="2.5" ry="4.3" opacity="0.60" transform="rotate(14 1099 1146)"/><ellipse cx="1114" cy="1148" rx="2.7" ry="4.6" opacity="0.63" transform="rotate(14 1114 1148)"/><ellipse cx="1129" cy="1150" rx="2.8" ry="4.8" opacity="0.67" transform="rotate(14 1129 1150)"/><ellipse cx="1144" cy="1151" rx="3.0" ry="5.1" opacity="0.70" transform="rotate(14 1144 1151)"/><ellipse cx="1159" cy="1153" rx="3.1" ry="5.3" opacity="0.72" transform="rotate(14 1159 1153)"/><ellipse cx="841" cy="1135" rx="0.5" ry="1.0" opacity="0.20" transform="rotate(14 841 1135)"/><ellipse cx="856" cy="1137" rx="0.6" ry="1.1" opacity="0.21" transform="rotate(14 856 1137)"/><ellipse cx="871" cy="1138" rx="0.6" ry="1.1" opacity="0.21" transform="rotate(14 871 1138)"/><ellipse cx="886" cy="1140" rx="0.6" ry="1.2" opacity="0.22" transform="rotate(14 886 1140)"/><ellipse cx="901" cy="1142" rx="0.7" ry="1.2" opacity="0.23" transform="rotate(14 901 1142)"/><ellipse cx="916" cy="1143" rx="0.7" ry="1.3" opacity="0.24" transform="rotate(14 916 1143)"/><ellipse cx="931" cy="1145" rx="0.8" ry="1.4" opacity="0.24" transform="rotate(14 931 1145)"/><ellipse cx="946" cy="1146" rx="0.8" ry="1.4" opacity="0.25" transform="rotate(14 946 1146)"/><ellipse cx="961" cy="1148" rx="0.8" ry="1.5" opacity="0.26" transform="rotate(14 961 1148)"/><ellipse cx="976" cy="1150" rx="0.9" ry="1.6" opacity="0.27" transform="rotate(14 976 1150)"/><ellipse cx="991" cy="1151" rx="0.9" ry="1.6" opacity="0.27" transform="rotate(14 991 1151)"/><ellipse cx="1006" cy="1153" rx="1.2" ry="2.1" opacity="0.33" transform="rotate(14 1006 1153)"/><ellipse cx="1021" cy="1154" rx="1.4" ry="2.5" opacity="0.38" transform="rotate(14 1021 1154)"/><ellipse cx="1036" cy="1156" rx="1.7" ry="2.9" opacity="0.43" transform="rotate(14 1036 1156)"/><ellipse cx="1051" cy="1158" rx="1.9" ry="3.2" opacity="0.47" transform="rotate(14 1051 1158)"/><ellipse cx="1066" cy="1159" rx="2.1" ry="3.5" opacity="0.51" transform="rotate(14 1066 1159)"/><ellipse cx="1081" cy="1161" rx="2.3" ry="3.9" opacity="0.55" transform="rotate(14 1081 1161)"/><ellipse cx="1096" cy="1162" rx="2.4" ry="4.1" opacity="0.58" transform="rotate(14 1096 1162)"/><ellipse cx="1111" cy="1164" rx="2.6" ry="4.4" opacity="0.61" transform="rotate(14 1111 1164)"/><ellipse cx="1126" cy="1166" rx="2.7" ry="4.7" opacity="0.65" transform="rotate(14 1126 1166)"/><ellipse cx="1141" cy="1167" rx="2.9" ry="4.9" opacity="0.67" transform="rotate(14 1141 1167)"/><ellipse cx="1156" cy="1169" rx="3.0" ry="5.1" opacity="0.70" transform="rotate(14 1156 1169)"/><ellipse cx="823" cy="1150" rx="0.5" ry="1.0" opacity="0.19" transform="rotate(14 823 1150)"/><ellipse cx="838" cy="1151" rx="0.6" ry="1.0" opacity="0.20" transform="rotate(14 838 1151)"/><ellipse cx="853" cy="1153" rx="0.6" ry="1.1" opacity="0.21" transform="rotate(14 853 1153)"/><ellipse cx="868" cy="1154" rx="0.6" ry="1.2" opacity="0.22" transform="rotate(14 868 1154)"/><ellipse cx="883" cy="1156" rx="0.7" ry="1.2" opacity="0.23" transform="rotate(14 883 1156)"/><ellipse cx="898" cy="1158" rx="0.7" ry="1.3" opacity="0.23" transform="rotate(14 898 1158)"/><ellipse cx="913" cy="1159" rx="0.8" ry="1.4" opacity="0.24" transform="rotate(14 913 1159)"/><ellipse cx="928" cy="1161" rx="0.8" ry="1.4" opacity="0.25" transform="rotate(14 928 1161)"/><ellipse cx="943" cy="1162" rx="0.8" ry="1.5" opacity="0.26" transform="rotate(14 943 1162)"/><ellipse cx="958" cy="1164" rx="0.9" ry="1.5" opacity="0.26" transform="rotate(14 958 1164)"/><ellipse cx="973" cy="1166" rx="0.9" ry="1.6" opacity="0.27" transform="rotate(14 973 1166)"/><ellipse cx="988" cy="1167" rx="0.9" ry="1.7" opacity="0.28" transform="rotate(14 988 1167)"/><ellipse cx="1003" cy="1169" rx="1.1" ry="1.9" opacity="0.31" transform="rotate(14 1003 1169)"/><ellipse cx="1018" cy="1170" rx="1.3" ry="2.3" opacity="0.36" transform="rotate(14 1018 1170)"/><ellipse cx="1033" cy="1172" rx="1.6" ry="2.7" opacity="0.41" transform="rotate(14 1033 1172)"/><ellipse cx="1048" cy="1174" rx="1.8" ry="3.1" opacity="0.45" transform="rotate(14 1048 1174)"/><ellipse cx="1063" cy="1175" rx="2.0" ry="3.4" opacity="0.49" transform="rotate(14 1063 1175)"/><ellipse cx="1078" cy="1177" rx="2.2" ry="3.7" opacity="0.53" transform="rotate(14 1078 1177)"/><ellipse cx="1093" cy="1178" rx="2.3" ry="4.0" opacity="0.56" transform="rotate(14 1093 1178)"/><ellipse cx="1108" cy="1180" rx="2.5" ry="4.2" opacity="0.59" transform="rotate(14 1108 1180)"/><ellipse cx="1123" cy="1182" rx="2.6" ry="4.5" opacity="0.62" transform="rotate(14 1123 1182)"/><ellipse cx="1138" cy="1183" rx="2.8" ry="4.7" opacity="0.65" transform="rotate(14 1138 1183)"/><ellipse cx="1153" cy="1185" rx="2.9" ry="4.9" opacity="0.67" transform="rotate(14 1153 1185)"/><ellipse cx="820" cy="1166" rx="0.5" ry="1.0" opacity="0.20" transform="rotate(14 820 1166)"/><ellipse cx="835" cy="1167" rx="0.6" ry="1.1" opacity="0.21" transform="rotate(14 835 1167)"/><ellipse cx="850" cy="1169" rx="0.6" ry="1.1" opacity="0.21" transform="rotate(14 850 1169)"/><ellipse cx="865" cy="1170" rx="0.7" ry="1.2" opacity="0.22" transform="rotate(14 865 1170)"/><ellipse cx="880" cy="1172" rx="0.7" ry="1.3" opacity="0.23" transform="rotate(14 880 1172)"/><ellipse cx="895" cy="1174" rx="0.7" ry="1.3" opacity="0.24" transform="rotate(14 895 1174)"/><ellipse cx="910" cy="1175" rx="0.8" ry="1.4" opacity="0.25" transform="rotate(14 910 1175)"/><ellipse cx="925" cy="1177" rx="0.8" ry="1.5" opacity="0.25" transform="rotate(14 925 1177)"/><ellipse cx="940" cy="1178" rx="0.9" ry="1.5" opacity="0.26" transform="rotate(14 940 1178)"/><ellipse cx="955" cy="1180" rx="0.9" ry="1.6" opacity="0.27" transform="rotate(14 955 1180)"/><ellipse cx="970" cy="1182" rx="0.9" ry="1.7" opacity="0.28" transform="rotate(14 970 1182)"/><ellipse cx="985" cy="1183" rx="1.0" ry="1.7" opacity="0.29" transform="rotate(14 985 1183)"/><ellipse cx="1000" cy="1185" rx="1.0" ry="1.8" opacity="0.29" transform="rotate(14 1000 1185)"/><ellipse cx="1015" cy="1186" rx="1.2" ry="2.1" opacity="0.34" transform="rotate(14 1015 1186)"/><ellipse cx="1030" cy="1188" rx="1.5" ry="2.5" opacity="0.38" transform="rotate(14 1030 1188)"/><ellipse cx="1045" cy="1190" rx="1.7" ry="2.9" opacity="0.43" transform="rotate(14 1045 1190)"/><ellipse cx="1060" cy="1191" rx="1.9" ry="3.2" opacity="0.47" transform="rotate(14 1060 1191)"/><ellipse cx="1075" cy="1193" rx="2.0" ry="3.5" opacity="0.50" transform="rotate(14 1075 1193)"/><ellipse cx="1090" cy="1194" rx="2.2" ry="3.8" opacity="0.54" transform="rotate(14 1090 1194)"/><ellipse cx="1105" cy="1196" rx="2.4" ry="4.0" opacity="0.57" transform="rotate(14 1105 1196)"/><ellipse cx="1120" cy="1198" rx="2.5" ry="4.3" opacity="0.60" transform="rotate(14 1120 1198)"/><ellipse cx="1135" cy="1199" rx="2.6" ry="4.5" opacity="0.62" transform="rotate(14 1135 1199)"/><ellipse cx="1150" cy="1201" rx="2.7" ry="4.7" opacity="0.64" transform="rotate(14 1150 1201)"/><ellipse cx="817" cy="1182" rx="0.5" ry="1.0" opacity="0.20" transform="rotate(14 817 1182)"/><ellipse cx="832" cy="1183" rx="0.6" ry="1.1" opacity="0.21" transform="rotate(14 832 1183)"/><ellipse cx="847" cy="1185" rx="0.6" ry="1.2" opacity="0.22" transform="rotate(14 847 1185)"/><ellipse cx="862" cy="1186" rx="0.7" ry="1.2" opacity="0.23" transform="rotate(14 862 1186)"/><ellipse cx="877" cy="1188" rx="0.7" ry="1.3" opacity="0.23" transform="rotate(14 877 1188)"/><ellipse cx="892" cy="1190" rx="0.8" ry="1.4" opacity="0.24" transform="rotate(14 892 1190)"/><ellipse cx="907" cy="1191" rx="0.8" ry="1.4" opacity="0.25" transform="rotate(14 907 1191)"/><ellipse cx="922" cy="1193" rx="0.8" ry="1.5" opacity="0.26" transform="rotate(14 922 1193)"/><ellipse cx="937" cy="1194" rx="0.9" ry="1.6" opacity="0.27" transform="rotate(14 937 1194)"/><ellipse cx="952" cy="1196" rx="0.9" ry="1.6" opacity="0.28" transform="rotate(14 952 1196)"/><ellipse cx="967" cy="1198" rx="1.0" ry="1.7" opacity="0.28" transform="rotate(14 967 1198)"/><ellipse cx="982" cy="1199" rx="1.0" ry="1.8" opacity="0.29" transform="rotate(14 982 1199)"/><ellipse cx="997" cy="1201" rx="1.0" ry="1.8" opacity="0.30" transform="rotate(14 997 1201)"/><ellipse cx="1012" cy="1202" rx="1.1" ry="1.9" opacity="0.31" transform="rotate(14 1012 1202)"/><ellipse cx="1027" cy="1204" rx="1.3" ry="2.3" opacity="0.36" transform="rotate(14 1027 1204)"/><ellipse cx="1042" cy="1206" rx="1.5" ry="2.7" opacity="0.40" transform="rotate(14 1042 1206)"/><ellipse cx="1057" cy="1207" rx="1.7" ry="3.0" opacity="0.44" transform="rotate(14 1057 1207)"/><ellipse cx="1072" cy="1209" rx="1.9" ry="3.3" opacity="0.48" transform="rotate(14 1072 1209)"/><ellipse cx="1087" cy="1210" rx="2.1" ry="3.6" opacity="0.51" transform="rotate(14 1087 1210)"/><ellipse cx="1102" cy="1212" rx="2.2" ry="3.8" opacity="0.54" transform="rotate(14 1102 1212)"/><ellipse cx="1117" cy="1214" rx="2.4" ry="4.0" opacity="0.57" transform="rotate(14 1117 1214)"/><ellipse cx="1132" cy="1215" rx="2.5" ry="4.2" opacity="0.59" transform="rotate(14 1132 1215)"/><ellipse cx="1147" cy="1217" rx="2.6" ry="4.4" opacity="0.61" transform="rotate(14 1147 1217)"/><ellipse cx="1162" cy="1218" rx="2.6" ry="4.5" opacity="0.63" transform="rotate(14 1162 1218)"/><ellipse cx="799" cy="1196" rx="0.5" ry="1.0" opacity="0.19" transform="rotate(14 799 1196)"/><ellipse cx="814" cy="1198" rx="0.6" ry="1.0" opacity="0.20" transform="rotate(14 814 1198)"/><ellipse cx="829" cy="1199" rx="0.6" ry="1.1" opacity="0.21" transform="rotate(14 829 1199)"/><ellipse cx="844" cy="1201" rx="0.6" ry="1.2" opacity="0.22" transform="rotate(14 844 1201)"/><ellipse cx="859" cy="1202" rx="0.7" ry="1.2" opacity="0.23" transform="rotate(14 859 1202)"/><ellipse cx="874" cy="1204" rx="0.7" ry="1.3" opacity="0.24" transform="rotate(14 874 1204)"/><ellipse cx="889" cy="1206" rx="0.8" ry="1.4" opacity="0.25" transform="rotate(14 889 1206)"/><ellipse cx="904" cy="1207" rx="0.8" ry="1.5" opacity="0.26" transform="rotate(14 904 1207)"/><ellipse cx="919" cy="1209" rx="0.9" ry="1.5" opacity="0.26" transform="rotate(14 919 1209)"/><ellipse cx="934" cy="1210" rx="0.9" ry="1.6" opacity="0.27" transform="rotate(14 934 1210)"/><ellipse cx="949" cy="1212" rx="0.9" ry="1.7" opacity="0.28" transform="rotate(14 949 1212)"/><ellipse cx="964" cy="1214" rx="1.0" ry="1.8" opacity="0.29" transform="rotate(14 964 1214)"/><ellipse cx="979" cy="1215" rx="1.0" ry="1.8" opacity="0.30" transform="rotate(14 979 1215)"/><ellipse cx="994" cy="1217" rx="1.1" ry="1.9" opacity="0.31" transform="rotate(14 994 1217)"/><ellipse cx="1009" cy="1218" rx="1.1" ry="2.0" opacity="0.32" transform="rotate(14 1009 1218)"/><ellipse cx="1024" cy="1220" rx="1.3" ry="2.2" opacity="0.35" transform="rotate(14 1024 1220)"/><ellipse cx="1039" cy="1222" rx="1.4" ry="2.5" opacity="0.38" transform="rotate(14 1039 1222)"/><ellipse cx="1054" cy="1223" rx="1.6" ry="2.8" opacity="0.41" transform="rotate(14 1054 1223)"/><ellipse cx="1069" cy="1225" rx="1.8" ry="3.1" opacity="0.45" transform="rotate(14 1069 1225)"/><ellipse cx="1084" cy="1226" rx="1.9" ry="3.3" opacity="0.48" transform="rotate(14 1084 1226)"/><ellipse cx="1099" cy="1228" rx="2.1" ry="3.6" opacity="0.51" transform="rotate(14 1099 1228)"/><ellipse cx="1114" cy="1230" rx="2.2" ry="3.8" opacity="0.54" transform="rotate(14 1114 1230)"/><ellipse cx="1129" cy="1231" rx="2.3" ry="4.0" opacity="0.56" transform="rotate(14 1129 1231)"/><ellipse cx="1144" cy="1233" rx="2.4" ry="4.1" opacity="0.58" transform="rotate(14 1144 1233)"/><ellipse cx="1159" cy="1234" rx="2.5" ry="4.2" opacity="0.59" transform="rotate(14 1159 1234)"/><ellipse cx="796" cy="1212" rx="0.5" ry="1.0" opacity="0.20" transform="rotate(14 796 1212)"/><ellipse cx="811" cy="1214" rx="0.6" ry="1.1" opacity="0.21" transform="rotate(14 811 1214)"/><ellipse cx="826" cy="1215" rx="0.6" ry="1.1" opacity="0.21" transform="rotate(14 826 1215)"/><ellipse cx="841" cy="1217" rx="0.7" ry="1.2" opacity="0.22" transform="rotate(14 841 1217)"/><ellipse cx="856" cy="1218" rx="0.7" ry="1.3" opacity="0.23" transform="rotate(14 856 1218)"/><ellipse cx="871" cy="1220" rx="0.7" ry="1.3" opacity="0.24" transform="rotate(14 871 1220)"/><ellipse cx="886" cy="1222" rx="0.8" ry="1.4" opacity="0.25" transform="rotate(14 886 1222)"/><ellipse cx="901" cy="1223" rx="0.8" ry="1.5" opacity="0.26" transform="rotate(14 901 1223)"/><ellipse cx="916" cy="1225" rx="0.9" ry="1.6" opacity="0.27" transform="rotate(14 916 1225)"/><ellipse cx="931" cy="1226" rx="0.9" ry="1.6" opacity="0.28" transform="rotate(14 931 1226)"/><ellipse cx="946" cy="1228" rx="1.0" ry="1.7" opacity="0.29" transform="rotate(14 946 1228)"/><ellipse cx="961" cy="1230" rx="1.0" ry="1.8" opacity="0.30" transform="rotate(14 961 1230)"/><ellipse cx="976" cy="1231" rx="1.1" ry="1.9" opacity="0.30" transform="rotate(14 976 1231)"/><ellipse cx="991" cy="1233" rx="1.2" ry="2.0" opacity="0.32" transform="rotate(14 991 1233)"/><ellipse cx="1006" cy="1234" rx="1.4" ry="2.4" opacity="0.36" transform="rotate(14 1006 1234)"/><ellipse cx="1021" cy="1236" rx="1.5" ry="2.6" opacity="0.40" transform="rotate(14 1021 1236)"/><ellipse cx="1036" cy="1238" rx="1.7" ry="2.9" opacity="0.43" transform="rotate(14 1036 1238)"/><ellipse cx="1051" cy="1239" rx="1.8" ry="3.1" opacity="0.45" transform="rotate(14 1051 1239)"/><ellipse cx="1066" cy="1241" rx="1.9" ry="3.3" opacity="0.47" transform="rotate(14 1066 1241)"/><ellipse cx="1081" cy="1242" rx="2.0" ry="3.4" opacity="0.49" transform="rotate(14 1081 1242)"/><ellipse cx="1096" cy="1244" rx="2.1" ry="3.6" opacity="0.51" transform="rotate(14 1096 1244)"/><ellipse cx="1111" cy="1246" rx="2.2" ry="3.7" opacity="0.52" transform="rotate(14 1111 1246)"/><ellipse cx="1126" cy="1247" rx="2.2" ry="3.8" opacity="0.54" transform="rotate(14 1126 1247)"/><ellipse cx="1141" cy="1249" rx="2.3" ry="3.9" opacity="0.55" transform="rotate(14 1141 1249)"/><ellipse cx="1156" cy="1250" rx="2.3" ry="4.0" opacity="0.56" transform="rotate(14 1156 1250)"/><ellipse cx="793" cy="1228" rx="0.5" ry="1.0" opacity="0.20" transform="rotate(14 793 1228)"/><ellipse cx="808" cy="1230" rx="0.6" ry="1.1" opacity="0.21" transform="rotate(14 808 1230)"/><ellipse cx="823" cy="1231" rx="0.6" ry="1.1" opacity="0.22" transform="rotate(14 823 1231)"/><ellipse cx="838" cy="1233" rx="0.7" ry="1.2" opacity="0.23" transform="rotate(14 838 1233)"/><ellipse cx="853" cy="1234" rx="0.7" ry="1.3" opacity="0.23" transform="rotate(14 853 1234)"/><ellipse cx="868" cy="1236" rx="0.8" ry="1.4" opacity="0.24" transform="rotate(14 868 1236)"/><ellipse cx="883" cy="1238" rx="0.8" ry="1.4" opacity="0.25" transform="rotate(14 883 1238)"/><ellipse cx="898" cy="1239" rx="0.9" ry="1.5" opacity="0.26" transform="rotate(14 898 1239)"/><ellipse cx="913" cy="1241" rx="0.9" ry="1.6" opacity="0.27" transform="rotate(14 913 1241)"/><ellipse cx="928" cy="1242" rx="0.9" ry="1.7" opacity="0.28" transform="rotate(14 928 1242)"/><ellipse cx="943" cy="1244" rx="1.0" ry="1.8" opacity="0.29" transform="rotate(14 943 1244)"/><ellipse cx="958" cy="1246" rx="1.0" ry="1.8" opacity="0.30" transform="rotate(14 958 1246)"/><ellipse cx="973" cy="1247" rx="1.2" ry="2.1" opacity="0.33" transform="rotate(14 973 1247)"/><ellipse cx="988" cy="1249" rx="1.4" ry="2.4" opacity="0.37" transform="rotate(14 988 1249)"/><ellipse cx="1003" cy="1250" rx="1.6" ry="2.7" opacity="0.41" transform="rotate(14 1003 1250)"/><ellipse cx="1018" cy="1252" rx="1.7" ry="3.0" opacity="0.44" transform="rotate(14 1018 1252)"/><ellipse cx="1033" cy="1254" rx="1.9" ry="3.2" opacity="0.47" transform="rotate(14 1033 1254)"/><ellipse cx="1048" cy="1255" rx="2.0" ry="3.4" opacity="0.49" transform="rotate(14 1048 1255)"/><ellipse cx="1063" cy="1257" rx="2.1" ry="3.6" opacity="0.51" transform="rotate(14 1063 1257)"/><ellipse cx="1078" cy="1258" rx="2.2" ry="3.8" opacity="0.53" transform="rotate(14 1078 1258)"/><ellipse cx="1093" cy="1260" rx="2.3" ry="3.9" opacity="0.55" transform="rotate(14 1093 1260)"/><ellipse cx="1108" cy="1262" rx="2.4" ry="4.0" opacity="0.57" transform="rotate(14 1108 1262)"/><ellipse cx="1123" cy="1263" rx="2.4" ry="4.1" opacity="0.58" transform="rotate(14 1123 1263)"/><ellipse cx="1138" cy="1265" rx="2.5" ry="4.2" opacity="0.59" transform="rotate(14 1138 1265)"/><ellipse cx="1153" cy="1266" rx="2.5" ry="4.3" opacity="0.60" transform="rotate(14 1153 1266)"/><ellipse cx="790" cy="1244" rx="0.6" ry="1.0" opacity="0.20" transform="rotate(14 790 1244)"/><ellipse cx="805" cy="1246" rx="0.6" ry="1.1" opacity="0.21" transform="rotate(14 805 1246)"/><ellipse cx="820" cy="1247" rx="0.6" ry="1.2" opacity="0.22" transform="rotate(14 820 1247)"/><ellipse cx="835" cy="1249" rx="0.7" ry="1.2" opacity="0.23" transform="rotate(14 835 1249)"/><ellipse cx="850" cy="1250" rx="0.7" ry="1.3" opacity="0.24" transform="rotate(14 850 1250)"/><ellipse cx="865" cy="1252" rx="0.8" ry="1.4" opacity="0.25" transform="rotate(14 865 1252)"/><ellipse cx="880" cy="1254" rx="0.8" ry="1.5" opacity="0.26" transform="rotate(14 880 1254)"/><ellipse cx="895" cy="1255" rx="0.9" ry="1.5" opacity="0.27" transform="rotate(14 895 1255)"/><ellipse cx="910" cy="1257" rx="0.9" ry="1.6" opacity="0.27" transform="rotate(14 910 1257)"/><ellipse cx="925" cy="1258" rx="1.0" ry="1.7" opacity="0.28" transform="rotate(14 925 1258)"/><ellipse cx="940" cy="1260" rx="1.0" ry="1.8" opacity="0.29" transform="rotate(14 940 1260)"/><ellipse cx="955" cy="1262" rx="1.2" ry="2.1" opacity="0.33" transform="rotate(14 955 1262)"/><ellipse cx="970" cy="1263" rx="1.4" ry="2.5" opacity="0.38" transform="rotate(14 970 1263)"/><ellipse cx="985" cy="1265" rx="1.6" ry="2.8" opacity="0.41" transform="rotate(14 985 1265)"/><ellipse cx="1000" cy="1266" rx="1.8" ry="3.1" opacity="0.45" transform="rotate(14 1000 1266)"/><ellipse cx="1015" cy="1268" rx="1.9" ry="3.3" opacity="0.48" transform="rotate(14 1015 1268)"/><ellipse cx="1030" cy="1270" rx="2.1" ry="3.5" opacity="0.51" transform="rotate(14 1030 1270)"/><ellipse cx="1045" cy="1271" rx="2.2" ry="3.7" opacity="0.53" transform="rotate(14 1045 1271)"/><ellipse cx="1060" cy="1273" rx="2.3" ry="3.9" opacity="0.55" transform="rotate(14 1060 1273)"/><ellipse cx="1075" cy="1274" rx="2.4" ry="4.1" opacity="0.57" transform="rotate(14 1075 1274)"/><ellipse cx="1090" cy="1276" rx="2.5" ry="4.2" opacity="0.59" transform="rotate(14 1090 1276)"/><ellipse cx="1105" cy="1278" rx="2.5" ry="4.3" opacity="0.60" transform="rotate(14 1105 1278)"/><ellipse cx="1120" cy="1279" rx="2.6" ry="4.4" opacity="0.62" transform="rotate(14 1120 1279)"/><ellipse cx="1135" cy="1281" rx="2.7" ry="4.5" opacity="0.63" transform="rotate(14 1135 1281)"/><ellipse cx="1150" cy="1282" rx="2.7" ry="4.6" opacity="0.63" transform="rotate(14 1150 1282)"/><ellipse cx="772" cy="1258" rx="0.5" ry="1.0" opacity="0.19" transform="rotate(14 772 1258)"/><ellipse cx="787" cy="1260" rx="0.6" ry="1.0" opacity="0.20" transform="rotate(14 787 1260)"/><ellipse cx="802" cy="1262" rx="0.6" ry="1.1" opacity="0.21" transform="rotate(14 802 1262)"/><ellipse cx="817" cy="1263" rx="0.6" ry="1.2" opacity="0.22" transform="rotate(14 817 1263)"/><ellipse cx="832" cy="1265" rx="0.7" ry="1.3" opacity="0.23" transform="rotate(14 832 1265)"/><ellipse cx="847" cy="1266" rx="0.7" ry="1.3" opacity="0.24" transform="rotate(14 847 1266)"/><ellipse cx="862" cy="1268" rx="0.8" ry="1.4" opacity="0.25" transform="rotate(14 862 1268)"/><ellipse cx="877" cy="1270" rx="0.8" ry="1.5" opacity="0.26" transform="rotate(14 877 1270)"/><ellipse cx="892" cy="1271" rx="0.9" ry="1.6" opacity="0.27" transform="rotate(14 892 1271)"/><ellipse cx="907" cy="1273" rx="0.9" ry="1.7" opacity="0.28" transform="rotate(14 907 1273)"/><ellipse cx="922" cy="1274" rx="1.0" ry="1.7" opacity="0.29" transform="rotate(14 922 1274)"/><ellipse cx="937" cy="1276" rx="1.2" ry="2.0" opacity="0.33" transform="rotate(14 937 1276)"/><ellipse cx="952" cy="1278" rx="1.4" ry="2.4" opacity="0.37" transform="rotate(14 952 1278)"/><ellipse cx="967" cy="1279" rx="1.6" ry="2.8" opacity="0.41" transform="rotate(14 967 1279)"/><ellipse cx="982" cy="1281" rx="1.8" ry="3.1" opacity="0.45" transform="rotate(14 982 1281)"/><ellipse cx="997" cy="1282" rx="1.9" ry="3.3" opacity="0.48" transform="rotate(14 997 1282)"/><ellipse cx="1012" cy="1284" rx="2.1" ry="3.6" opacity="0.51" transform="rotate(14 1012 1284)"/><ellipse cx="1027" cy="1286" rx="2.2" ry="3.8" opacity="0.54" transform="rotate(14 1027 1286)"/><ellipse cx="1042" cy="1287" rx="2.3" ry="4.0" opacity="0.56" transform="rotate(14 1042 1287)"/><ellipse cx="1057" cy="1289" rx="2.5" ry="4.2" opacity="0.59" transform="rotate(14 1057 1289)"/><ellipse cx="1072" cy="1290" rx="2.5" ry="4.3" opacity="0.61" transform="rotate(14 1072 1290)"/><ellipse cx="1087" cy="1292" rx="2.6" ry="4.5" opacity="0.62" transform="rotate(14 1087 1292)"/><ellipse cx="1102" cy="1294" rx="2.7" ry="4.6" opacity="0.64" transform="rotate(14 1102 1294)"/><ellipse cx="1117" cy="1295" rx="2.8" ry="4.7" opacity="0.65" transform="rotate(14 1117 1295)"/><ellipse cx="1132" cy="1297" rx="2.8" ry="4.8" opacity="0.66" transform="rotate(14 1132 1297)"/><ellipse cx="1147" cy="1298" rx="2.9" ry="4.9" opacity="0.67" transform="rotate(14 1147 1298)"/><ellipse cx="1162" cy="1300" rx="2.9" ry="4.9" opacity="0.68" transform="rotate(14 1162 1300)"/><ellipse cx="769" cy="1274" rx="0.5" ry="1.0" opacity="0.19" transform="rotate(14 769 1274)"/><ellipse cx="784" cy="1276" rx="0.6" ry="1.0" opacity="0.20" transform="rotate(14 784 1276)"/><ellipse cx="799" cy="1278" rx="0.6" ry="1.1" opacity="0.21" transform="rotate(14 799 1278)"/><ellipse cx="814" cy="1279" rx="0.7" ry="1.2" opacity="0.22" transform="rotate(14 814 1279)"/><ellipse cx="829" cy="1281" rx="0.7" ry="1.3" opacity="0.23" transform="rotate(14 829 1281)"/><ellipse cx="844" cy="1282" rx="0.7" ry="1.3" opacity="0.24" transform="rotate(14 844 1282)"/><ellipse cx="859" cy="1284" rx="0.8" ry="1.4" opacity="0.25" transform="rotate(14 859 1284)"/><ellipse cx="874" cy="1286" rx="0.8" ry="1.5" opacity="0.26" transform="rotate(14 874 1286)"/><ellipse cx="889" cy="1287" rx="0.9" ry="1.6" opacity="0.27" transform="rotate(14 889 1287)"/><ellipse cx="904" cy="1289" rx="0.9" ry="1.7" opacity="0.28" transform="rotate(14 904 1289)"/><ellipse cx="919" cy="1290" rx="1.1" ry="1.9" opacity="0.31" transform="rotate(14 919 1290)"/><ellipse cx="934" cy="1292" rx="1.3" ry="2.3" opacity="0.36" transform="rotate(14 934 1292)"/><ellipse cx="949" cy="1294" rx="1.6" ry="2.7" opacity="0.41" transform="rotate(14 949 1294)"/><ellipse cx="964" cy="1295" rx="1.8" ry="3.0" opacity="0.45" transform="rotate(14 964 1295)"/><ellipse cx="979" cy="1297" rx="1.9" ry="3.3" opacity="0.48" transform="rotate(14 979 1297)"/><ellipse cx="994" cy="1298" rx="2.1" ry="3.6" opacity="0.51" transform="rotate(14 994 1298)"/><ellipse cx="1009" cy="1300" rx="2.2" ry="3.8" opacity="0.54" transform="rotate(14 1009 1300)"/><ellipse cx="1024" cy="1302" rx="2.4" ry="4.1" opacity="0.57" transform="rotate(14 1024 1302)"/><ellipse cx="1039" cy="1303" rx="2.5" ry="4.3" opacity="0.59" transform="rotate(14 1039 1303)"/><ellipse cx="1054" cy="1305" rx="2.6" ry="4.4" opacity="0.62" transform="rotate(14 1054 1305)"/><ellipse cx="1069" cy="1306" rx="2.7" ry="4.6" opacity="0.64" transform="rotate(14 1069 1306)"/><ellipse cx="1084" cy="1308" rx="2.8" ry="4.8" opacity="0.65" transform="rotate(14 1084 1308)"/><ellipse cx="1099" cy="1310" rx="2.9" ry="4.9" opacity="0.67" transform="rotate(14 1099 1310)"/><ellipse cx="1114" cy="1311" rx="2.9" ry="5.0" opacity="0.68" transform="rotate(14 1114 1311)"/><ellipse cx="1129" cy="1313" rx="3.0" ry="5.1" opacity="0.70" transform="rotate(14 1129 1313)"/><ellipse cx="1144" cy="1314" rx="3.0" ry="5.2" opacity="0.71" transform="rotate(14 1144 1314)"/><ellipse cx="1159" cy="1316" rx="3.1" ry="5.2" opacity="0.71" transform="rotate(14 1159 1316)"/><ellipse cx="766" cy="1290" rx="0.5" ry="1.0" opacity="0.20" transform="rotate(14 766 1290)"/><ellipse cx="781" cy="1292" rx="0.6" ry="1.0" opacity="0.20" transform="rotate(14 781 1292)"/><ellipse cx="796" cy="1294" rx="0.6" ry="1.1" opacity="0.21" transform="rotate(14 796 1294)"/><ellipse cx="811" cy="1295" rx="0.7" ry="1.2" opacity="0.22" transform="rotate(14 811 1295)"/><ellipse cx="826" cy="1297" rx="0.7" ry="1.3" opacity="0.23" transform="rotate(14 826 1297)"/><ellipse cx="841" cy="1298" rx="0.8" ry="1.4" opacity="0.24" transform="rotate(14 841 1298)"/><ellipse cx="856" cy="1300" rx="0.8" ry="1.4" opacity="0.25" transform="rotate(14 856 1300)"/><ellipse cx="871" cy="1302" rx="0.8" ry="1.5" opacity="0.26" transform="rotate(14 871 1302)"/><ellipse cx="886" cy="1303" rx="0.9" ry="1.6" opacity="0.27" transform="rotate(14 886 1303)"/><ellipse cx="901" cy="1305" rx="1.0" ry="1.7" opacity="0.28" transform="rotate(14 901 1305)"/><ellipse cx="916" cy="1306" rx="1.3" ry="2.2" opacity="0.34" transform="rotate(14 916 1306)"/><ellipse cx="931" cy="1308" rx="1.5" ry="2.6" opacity="0.39" transform="rotate(14 931 1308)"/><ellipse cx="946" cy="1310" rx="1.7" ry="3.0" opacity="0.44" transform="rotate(14 946 1310)"/><ellipse cx="961" cy="1311" rx="1.9" ry="3.3" opacity="0.47" transform="rotate(14 961 1311)"/><ellipse cx="976" cy="1313" rx="2.1" ry="3.5" opacity="0.51" transform="rotate(14 976 1313)"/><ellipse cx="991" cy="1314" rx="2.2" ry="3.8" opacity="0.54" transform="rotate(14 991 1314)"/><ellipse cx="1006" cy="1316" rx="2.4" ry="4.1" opacity="0.57" transform="rotate(14 1006 1316)"/><ellipse cx="1021" cy="1318" rx="2.5" ry="4.3" opacity="0.60" transform="rotate(14 1021 1318)"/><ellipse cx="1036" cy="1319" rx="2.6" ry="4.5" opacity="0.62" transform="rotate(14 1036 1319)"/><ellipse cx="1051" cy="1321" rx="2.7" ry="4.7" opacity="0.64" transform="rotate(14 1051 1321)"/><ellipse cx="1066" cy="1322" rx="2.8" ry="4.8" opacity="0.67" transform="rotate(14 1066 1322)"/><ellipse cx="1081" cy="1324" rx="2.9" ry="5.0" opacity="0.68" transform="rotate(14 1081 1324)"/><ellipse cx="1096" cy="1326" rx="3.0" ry="5.1" opacity="0.70" transform="rotate(14 1096 1326)"/><ellipse cx="1111" cy="1327" rx="3.1" ry="5.3" opacity="0.72" transform="rotate(14 1111 1327)"/><ellipse cx="1126" cy="1329" rx="3.2" ry="5.4" opacity="0.73" transform="rotate(14 1126 1329)"/><ellipse cx="1141" cy="1330" rx="3.2" ry="5.4" opacity="0.74" transform="rotate(14 1141 1330)"/><ellipse cx="1156" cy="1332" rx="3.2" ry="5.5" opacity="0.75" transform="rotate(14 1156 1332)"/><ellipse cx="763" cy="1306" rx="0.5" ry="1.0" opacity="0.20" transform="rotate(14 763 1306)"/><ellipse cx="778" cy="1308" rx="0.6" ry="1.0" opacity="0.20" transform="rotate(14 778 1308)"/><ellipse cx="793" cy="1310" rx="0.6" ry="1.1" opacity="0.21" transform="rotate(14 793 1310)"/><ellipse cx="808" cy="1311" rx="0.7" ry="1.2" opacity="0.22" transform="rotate(14 808 1311)"/><ellipse cx="823" cy="1313" rx="0.7" ry="1.3" opacity="0.23" transform="rotate(14 823 1313)"/><ellipse cx="838" cy="1314" rx="0.8" ry="1.4" opacity="0.24" transform="rotate(14 838 1314)"/><ellipse cx="853" cy="1316" rx="0.8" ry="1.4" opacity="0.25" transform="rotate(14 853 1316)"/><ellipse cx="868" cy="1318" rx="0.9" ry="1.5" opacity="0.26" transform="rotate(14 868 1318)"/><ellipse cx="883" cy="1319" rx="0.9" ry="1.6" opacity="0.27" transform="rotate(14 883 1319)"/><ellipse cx="898" cy="1321" rx="1.1" ry="2.0" opacity="0.32" transform="rotate(14 898 1321)"/><ellipse cx="913" cy="1322" rx="1.4" ry="2.4" opacity="0.37" transform="rotate(14 913 1322)"/><ellipse cx="928" cy="1324" rx="1.6" ry="2.8" opacity="0.42" transform="rotate(14 928 1324)"/><ellipse cx="943" cy="1326" rx="1.8" ry="3.2" opacity="0.46" transform="rotate(14 943 1326)"/><ellipse cx="958" cy="1327" rx="2.0" ry="3.5" opacity="0.50" transform="rotate(14 958 1327)"/><ellipse cx="973" cy="1329" rx="2.2" ry="3.7" opacity="0.53" transform="rotate(14 973 1329)"/><ellipse cx="988" cy="1330" rx="2.3" ry="4.0" opacity="0.56" transform="rotate(14 988 1330)"/><ellipse cx="1003" cy="1332" rx="2.5" ry="4.2" opacity="0.59" transform="rotate(14 1003 1332)"/><ellipse cx="1018" cy="1334" rx="2.6" ry="4.5" opacity="0.62" transform="rotate(14 1018 1334)"/><ellipse cx="1033" cy="1335" rx="2.7" ry="4.7" opacity="0.65" transform="rotate(14 1033 1335)"/><ellipse cx="1048" cy="1337" rx="2.9" ry="4.9" opacity="0.67" transform="rotate(14 1048 1337)"/><ellipse cx="1063" cy="1338" rx="3.0" ry="5.1" opacity="0.69" transform="rotate(14 1063 1338)"/><ellipse cx="1078" cy="1340" rx="3.1" ry="5.2" opacity="0.71" transform="rotate(14 1078 1340)"/><ellipse cx="1093" cy="1342" rx="3.2" ry="5.4" opacity="0.73" transform="rotate(14 1093 1342)"/><ellipse cx="1108" cy="1343" rx="3.2" ry="5.5" opacity="0.75" transform="rotate(14 1108 1343)"/><ellipse cx="1123" cy="1345" rx="3.3" ry="5.6" opacity="0.76" transform="rotate(14 1123 1345)"/><ellipse cx="1138" cy="1346" rx="3.4" ry="5.7" opacity="0.77" transform="rotate(14 1138 1346)"/><ellipse cx="1153" cy="1348" rx="3.4" ry="5.8" opacity="0.78" transform="rotate(14 1153 1348)"/><ellipse cx="760" cy="1322" rx="0.5" ry="1.0" opacity="0.20" transform="rotate(14 760 1322)"/><ellipse cx="775" cy="1324" rx="0.6" ry="1.0" opacity="0.20" transform="rotate(14 775 1324)"/><ellipse cx="790" cy="1326" rx="0.6" ry="1.1" opacity="0.21" transform="rotate(14 790 1326)"/><ellipse cx="805" cy="1327" rx="0.7" ry="1.2" opacity="0.22" transform="rotate(14 805 1327)"/><ellipse cx="820" cy="1329" rx="0.7" ry="1.3" opacity="0.23" transform="rotate(14 820 1329)"/><ellipse cx="835" cy="1330" rx="0.8" ry="1.4" opacity="0.24" transform="rotate(14 835 1330)"/><ellipse cx="850" cy="1332" rx="0.8" ry="1.4" opacity="0.25" transform="rotate(14 850 1332)"/><ellipse cx="865" cy="1334" rx="0.9" ry="1.5" opacity="0.26" transform="rotate(14 865 1334)"/><ellipse cx="880" cy="1335" rx="0.9" ry="1.7" opacity="0.28" transform="rotate(14 880 1335)"/><ellipse cx="895" cy="1337" rx="1.3" ry="2.2" opacity="0.34" transform="rotate(14 895 1337)"/><ellipse cx="910" cy="1338" rx="1.5" ry="2.6" opacity="0.39" transform="rotate(14 910 1338)"/><ellipse cx="925" cy="1340" rx="1.7" ry="3.0" opacity="0.44" transform="rotate(14 925 1340)"/><ellipse cx="940" cy="1342" rx="1.9" ry="3.3" opacity="0.48" transform="rotate(14 940 1342)"/><ellipse cx="955" cy="1343" rx="2.1" ry="3.6" opacity="0.52" transform="rotate(14 955 1343)"/><ellipse cx="970" cy="1345" rx="2.3" ry="3.9" opacity="0.55" transform="rotate(14 970 1345)"/><ellipse cx="985" cy="1346" rx="2.4" ry="4.2" opacity="0.58" transform="rotate(14 985 1346)"/><ellipse cx="1000" cy="1348" rx="2.6" ry="4.4" opacity="0.61" transform="rotate(14 1000 1348)"/><ellipse cx="1015" cy="1350" rx="2.7" ry="4.6" opacity="0.64" transform="rotate(14 1015 1350)"/><ellipse cx="1030" cy="1351" rx="2.9" ry="4.9" opacity="0.67" transform="rotate(14 1030 1351)"/><ellipse cx="1045" cy="1353" rx="3.0" ry="5.1" opacity="0.69" transform="rotate(14 1045 1353)"/><ellipse cx="1060" cy="1354" rx="3.1" ry="5.3" opacity="0.72" transform="rotate(14 1060 1354)"/><ellipse cx="1075" cy="1356" rx="3.2" ry="5.4" opacity="0.74" transform="rotate(14 1075 1356)"/><ellipse cx="1090" cy="1358" rx="3.3" ry="5.6" opacity="0.76" transform="rotate(14 1090 1358)"/><ellipse cx="1105" cy="1359" rx="3.4" ry="5.7" opacity="0.77" transform="rotate(14 1105 1359)"/><ellipse cx="1120" cy="1361" rx="3.4" ry="5.8" opacity="0.79" transform="rotate(14 1120 1361)"/><ellipse cx="1135" cy="1362" rx="3.5" ry="5.9" opacity="0.80" transform="rotate(14 1135 1362)"/><ellipse cx="1150" cy="1364" rx="3.6" ry="6.0" opacity="0.81" transform="rotate(14 1150 1364)"/><ellipse cx="757" cy="1338" rx="0.5" ry="1.0" opacity="0.20" transform="rotate(14 757 1338)"/><ellipse cx="772" cy="1340" rx="0.6" ry="1.0" opacity="0.20" transform="rotate(14 772 1340)"/><ellipse cx="787" cy="1342" rx="0.6" ry="1.1" opacity="0.21" transform="rotate(14 787 1342)"/><ellipse cx="802" cy="1343" rx="0.7" ry="1.2" opacity="0.22" transform="rotate(14 802 1343)"/><ellipse cx="817" cy="1345" rx="0.7" ry="1.3" opacity="0.23" transform="rotate(14 817 1345)"/><ellipse cx="832" cy="1346" rx="0.8" ry="1.4" opacity="0.24" transform="rotate(14 832 1346)"/><ellipse cx="847" cy="1348" rx="0.8" ry="1.4" opacity="0.25" transform="rotate(14 847 1348)"/><ellipse cx="862" cy="1350" rx="0.9" ry="1.5" opacity="0.26" transform="rotate(14 862 1350)"/><ellipse cx="877" cy="1351" rx="1.1" ry="1.9" opacity="0.30" transform="rotate(14 877 1351)"/><ellipse cx="892" cy="1353" rx="1.3" ry="2.3" opacity="0.36" transform="rotate(14 892 1353)"/><ellipse cx="907" cy="1354" rx="1.6" ry="2.8" opacity="0.41" transform="rotate(14 907 1354)"/><ellipse cx="922" cy="1356" rx="1.8" ry="3.1" opacity="0.46" transform="rotate(14 922 1356)"/><ellipse cx="937" cy="1358" rx="2.0" ry="3.5" opacity="0.50" transform="rotate(14 937 1358)"/><ellipse cx="952" cy="1359" rx="2.2" ry="3.8" opacity="0.53" transform="rotate(14 952 1359)"/><ellipse cx="967" cy="1361" rx="2.4" ry="4.0" opacity="0.57" transform="rotate(14 967 1361)"/><ellipse cx="982" cy="1362" rx="2.5" ry="4.3" opacity="0.60" transform="rotate(14 982 1362)"/><ellipse cx="997" cy="1364" rx="2.7" ry="4.6" opacity="0.63" transform="rotate(14 997 1364)"/><ellipse cx="1012" cy="1366" rx="2.8" ry="4.8" opacity="0.66" transform="rotate(14 1012 1366)"/><ellipse cx="1027" cy="1367" rx="3.0" ry="5.0" opacity="0.69" transform="rotate(14 1027 1367)"/><ellipse cx="1042" cy="1369" rx="3.1" ry="5.2" opacity="0.71" transform="rotate(14 1042 1369)"/><ellipse cx="1057" cy="1370" rx="3.2" ry="5.4" opacity="0.74" transform="rotate(14 1057 1370)"/><ellipse cx="1072" cy="1372" rx="3.3" ry="5.6" opacity="0.76" transform="rotate(14 1072 1372)"/><ellipse cx="1087" cy="1374" rx="3.4" ry="5.8" opacity="0.78" transform="rotate(14 1087 1374)"/><ellipse cx="1102" cy="1375" rx="3.5" ry="5.9" opacity="0.80" transform="rotate(14 1102 1375)"/><ellipse cx="1117" cy="1377" rx="3.6" ry="6.1" opacity="0.81" transform="rotate(14 1117 1377)"/><ellipse cx="1132" cy="1378" rx="3.6" ry="6.2" opacity="0.83" transform="rotate(14 1132 1378)"/><ellipse cx="1147" cy="1380" rx="3.7" ry="6.3" opacity="0.84" transform="rotate(14 1147 1380)"/><ellipse cx="1162" cy="1382" rx="3.7" ry="6.3" opacity="0.84" transform="rotate(14 1162 1382)"/><ellipse cx="754" cy="1354" rx="0.5" ry="1.0" opacity="0.19" transform="rotate(14 754 1354)"/><ellipse cx="769" cy="1356" rx="0.6" ry="1.0" opacity="0.20" transform="rotate(14 769 1356)"/><ellipse cx="784" cy="1358" rx="0.6" ry="1.1" opacity="0.21" transform="rotate(14 784 1358)"/><ellipse cx="799" cy="1359" rx="0.7" ry="1.2" opacity="0.22" transform="rotate(14 799 1359)"/><ellipse cx="814" cy="1361" rx="0.7" ry="1.3" opacity="0.23" transform="rotate(14 814 1361)"/><ellipse cx="829" cy="1362" rx="0.8" ry="1.4" opacity="0.24" transform="rotate(14 829 1362)"/><ellipse cx="844" cy="1364" rx="0.8" ry="1.4" opacity="0.25" transform="rotate(14 844 1364)"/><ellipse cx="859" cy="1366" rx="0.9" ry="1.5" opacity="0.26" transform="rotate(14 859 1366)"/><ellipse cx="874" cy="1367" rx="1.1" ry="2.0" opacity="0.32" transform="rotate(14 874 1367)"/><ellipse cx="889" cy="1369" rx="1.4" ry="2.5" opacity="0.38" transform="rotate(14 889 1369)"/><ellipse cx="904" cy="1370" rx="1.7" ry="2.9" opacity="0.43" transform="rotate(14 904 1370)"/><ellipse cx="919" cy="1372" rx="1.9" ry="3.2" opacity="0.47" transform="rotate(14 919 1372)"/><ellipse cx="934" cy="1374" rx="2.1" ry="3.6" opacity="0.51" transform="rotate(14 934 1374)"/><ellipse cx="949" cy="1375" rx="2.3" ry="3.9" opacity="0.55" transform="rotate(14 949 1375)"/><ellipse cx="964" cy="1377" rx="2.4" ry="4.2" opacity="0.58" transform="rotate(14 964 1377)"/><ellipse cx="979" cy="1378" rx="2.6" ry="4.4" opacity="0.61" transform="rotate(14 979 1378)"/><ellipse cx="994" cy="1380" rx="2.7" ry="4.7" opacity="0.65" transform="rotate(14 994 1380)"/><ellipse cx="1009" cy="1382" rx="2.9" ry="4.9" opacity="0.67" transform="rotate(14 1009 1382)"/><ellipse cx="1024" cy="1383" rx="3.0" ry="5.1" opacity="0.70" transform="rotate(14 1024 1383)"/><ellipse cx="1039" cy="1385" rx="3.2" ry="5.4" opacity="0.73" transform="rotate(14 1039 1385)"/><ellipse cx="1054" cy="1386" rx="3.3" ry="5.6" opacity="0.75" transform="rotate(14 1054 1386)"/><ellipse cx="1069" cy="1388" rx="3.4" ry="5.8" opacity="0.78" transform="rotate(14 1069 1388)"/><ellipse cx="1084" cy="1390" rx="3.5" ry="5.9" opacity="0.80" transform="rotate(14 1084 1390)"/><ellipse cx="1099" cy="1391" rx="3.6" ry="6.1" opacity="0.82" transform="rotate(14 1099 1391)"/><ellipse cx="1114" cy="1393" rx="3.7" ry="6.3" opacity="0.84" transform="rotate(14 1114 1393)"/><ellipse cx="1129" cy="1394" rx="3.8" ry="6.4" opacity="0.85" transform="rotate(14 1129 1394)"/><ellipse cx="1144" cy="1396" rx="3.8" ry="6.5" opacity="0.86" transform="rotate(14 1144 1396)"/><ellipse cx="1159" cy="1398" rx="3.9" ry="6.6" opacity="0.87" transform="rotate(14 1159 1398)"/><ellipse cx="751" cy="1370" rx="0.5" ry="1.0" opacity="0.19" transform="rotate(14 751 1370)"/><ellipse cx="766" cy="1372" rx="0.6" ry="1.0" opacity="0.20" transform="rotate(14 766 1372)"/><ellipse cx="781" cy="1374" rx="0.6" ry="1.1" opacity="0.21" transform="rotate(14 781 1374)"/><ellipse cx="796" cy="1375" rx="0.6" ry="1.2" opacity="0.22" transform="rotate(14 796 1375)"/><ellipse cx="811" cy="1377" rx="0.7" ry="1.3" opacity="0.23" transform="rotate(14 811 1377)"/><ellipse cx="826" cy="1378" rx="0.7" ry="1.3" opacity="0.24" transform="rotate(14 826 1378)"/><ellipse cx="841" cy="1380" rx="0.8" ry="1.4" opacity="0.25" transform="rotate(14 841 1380)"/><ellipse cx="856" cy="1382" rx="0.8" ry="1.5" opacity="0.26" transform="rotate(14 856 1382)"/><ellipse cx="871" cy="1383" rx="1.2" ry="2.1" opacity="0.33" transform="rotate(14 871 1383)"/><ellipse cx="886" cy="1385" rx="1.5" ry="2.6" opacity="0.39" transform="rotate(14 886 1385)"/><ellipse cx="901" cy="1386" rx="1.7" ry="3.0" opacity="0.44" transform="rotate(14 901 1386)"/><ellipse cx="916" cy="1388" rx="1.9" ry="3.3" opacity="0.48" transform="rotate(14 916 1388)"/><ellipse cx="931" cy="1390" rx="2.1" ry="3.7" opacity="0.52" transform="rotate(14 931 1390)"/><ellipse cx="946" cy="1391" rx="2.3" ry="4.0" opacity="0.56" transform="rotate(14 946 1391)"/><ellipse cx="961" cy="1393" rx="2.5" ry="4.2" opacity="0.59" transform="rotate(14 961 1393)"/><ellipse cx="976" cy="1394" rx="2.6" ry="4.5" opacity="0.63" transform="rotate(14 976 1394)"/><ellipse cx="991" cy="1396" rx="2.8" ry="4.8" opacity="0.66" transform="rotate(14 991 1396)"/><ellipse cx="1006" cy="1398" rx="2.9" ry="5.0" opacity="0.69" transform="rotate(14 1006 1398)"/><ellipse cx="1021" cy="1399" rx="3.1" ry="5.3" opacity="0.71" transform="rotate(14 1021 1399)"/><ellipse cx="1036" cy="1401" rx="3.2" ry="5.5" opacity="0.74" transform="rotate(14 1036 1401)"/><ellipse cx="1051" cy="1402" rx="3.4" ry="5.7" opacity="0.77" transform="rotate(14 1051 1402)"/><ellipse cx="1066" cy="1404" rx="3.5" ry="5.9" opacity="0.79" transform="rotate(14 1066 1404)"/><ellipse cx="1081" cy="1406" rx="3.6" ry="6.1" opacity="0.82" transform="rotate(14 1081 1406)"/><ellipse cx="1096" cy="1407" rx="3.7" ry="6.3" opacity="0.84" transform="rotate(14 1096 1407)"/><ellipse cx="1111" cy="1409" rx="3.8" ry="6.4" opacity="0.86" transform="rotate(14 1111 1409)"/><ellipse cx="1126" cy="1410" rx="3.9" ry="6.6" opacity="0.88" transform="rotate(14 1126 1410)"/><ellipse cx="1141" cy="1412" rx="4.0" ry="6.7" opacity="0.89" transform="rotate(14 1141 1412)"/><ellipse cx="1156" cy="1414" rx="4.0" ry="6.8" opacity="0.90" transform="rotate(14 1156 1414)"/><ellipse cx="763" cy="1388" rx="0.6" ry="1.0" opacity="0.20" transform="rotate(14 763 1388)"/><ellipse cx="778" cy="1390" rx="0.6" ry="1.1" opacity="0.21" transform="rotate(14 778 1390)"/><ellipse cx="793" cy="1391" rx="0.6" ry="1.2" opacity="0.22" transform="rotate(14 793 1391)"/><ellipse cx="808" cy="1393" rx="0.7" ry="1.2" opacity="0.23" transform="rotate(14 808 1393)"/><ellipse cx="823" cy="1394" rx="0.7" ry="1.3" opacity="0.24" transform="rotate(14 823 1394)"/><ellipse cx="838" cy="1396" rx="0.8" ry="1.4" opacity="0.25" transform="rotate(14 838 1396)"/><ellipse cx="853" cy="1398" rx="0.9" ry="1.6" opacity="0.27" transform="rotate(14 853 1398)"/><ellipse cx="868" cy="1399" rx="1.2" ry="2.2" opacity="0.34" transform="rotate(14 868 1399)"/><ellipse cx="883" cy="1401" rx="1.5" ry="2.6" opacity="0.40" transform="rotate(14 883 1401)"/><ellipse cx="898" cy="1402" rx="1.8" ry="3.0" opacity="0.44" transform="rotate(14 898 1402)"/><ellipse cx="913" cy="1404" rx="2.0" ry="3.4" opacity="0.49" transform="rotate(14 913 1404)"/><ellipse cx="928" cy="1406" rx="2.2" ry="3.7" opacity="0.53" transform="rotate(14 928 1406)"/><ellipse cx="943" cy="1407" rx="2.3" ry="4.0" opacity="0.56" transform="rotate(14 943 1407)"/><ellipse cx="958" cy="1409" rx="2.5" ry="4.3" opacity="0.60" transform="rotate(14 958 1409)"/><ellipse cx="973" cy="1410" rx="2.7" ry="4.6" opacity="0.63" transform="rotate(14 973 1410)"/><ellipse cx="988" cy="1412" rx="2.8" ry="4.8" opacity="0.66" transform="rotate(14 988 1412)"/><ellipse cx="1003" cy="1414" rx="3.0" ry="5.1" opacity="0.69" transform="rotate(14 1003 1414)"/><ellipse cx="1018" cy="1415" rx="3.1" ry="5.3" opacity="0.72" transform="rotate(14 1018 1415)"/><ellipse cx="1033" cy="1417" rx="3.3" ry="5.6" opacity="0.75" transform="rotate(14 1033 1417)"/><ellipse cx="1048" cy="1418" rx="3.4" ry="5.8" opacity="0.78" transform="rotate(14 1048 1418)"/><ellipse cx="1063" cy="1420" rx="3.5" ry="6.0" opacity="0.80" transform="rotate(14 1063 1420)"/><ellipse cx="1078" cy="1422" rx="3.7" ry="6.2" opacity="0.83" transform="rotate(14 1078 1422)"/><ellipse cx="1093" cy="1423" rx="3.8" ry="6.4" opacity="0.85" transform="rotate(14 1093 1423)"/><ellipse cx="1108" cy="1425" rx="3.9" ry="6.6" opacity="0.87" transform="rotate(14 1108 1425)"/><ellipse cx="1123" cy="1426" rx="4.0" ry="6.7" opacity="0.90" transform="rotate(14 1123 1426)"/><ellipse cx="1138" cy="1428" rx="4.1" ry="6.9" opacity="0.91" transform="rotate(14 1138 1428)"/><ellipse cx="1153" cy="1430" rx="4.1" ry="7.0" opacity="0.93" transform="rotate(14 1153 1430)"/><ellipse cx="760" cy="1404" rx="0.5" ry="1.0" opacity="0.20" transform="rotate(14 760 1404)"/><ellipse cx="775" cy="1406" rx="0.6" ry="1.1" opacity="0.21" transform="rotate(14 775 1406)"/><ellipse cx="790" cy="1407" rx="0.6" ry="1.2" opacity="0.22" transform="rotate(14 790 1407)"/><ellipse cx="805" cy="1409" rx="0.7" ry="1.2" opacity="0.23" transform="rotate(14 805 1409)"/><ellipse cx="820" cy="1410" rx="0.7" ry="1.3" opacity="0.24" transform="rotate(14 820 1410)"/><ellipse cx="835" cy="1412" rx="0.8" ry="1.4" opacity="0.25" transform="rotate(14 835 1412)"/><ellipse cx="850" cy="1414" rx="0.9" ry="1.6" opacity="0.28" transform="rotate(14 850 1414)"/><ellipse cx="865" cy="1415" rx="1.3" ry="2.2" opacity="0.34" transform="rotate(14 865 1415)"/><ellipse cx="880" cy="1417" rx="1.5" ry="2.7" opacity="0.40" transform="rotate(14 880 1417)"/><ellipse cx="895" cy="1418" rx="1.8" ry="3.1" opacity="0.45" transform="rotate(14 895 1418)"/><ellipse cx="910" cy="1420" rx="2.0" ry="3.4" opacity="0.49" transform="rotate(14 910 1420)"/><ellipse cx="925" cy="1422" rx="2.2" ry="3.7" opacity="0.53" transform="rotate(14 925 1422)"/><ellipse cx="940" cy="1423" rx="2.4" ry="4.0" opacity="0.57" transform="rotate(14 940 1423)"/><ellipse cx="955" cy="1425" rx="2.5" ry="4.3" opacity="0.60" transform="rotate(14 955 1425)"/><ellipse cx="970" cy="1426" rx="2.7" ry="4.6" opacity="0.64" transform="rotate(14 970 1426)"/><ellipse cx="985" cy="1428" rx="2.9" ry="4.9" opacity="0.67" transform="rotate(14 985 1428)"/><ellipse cx="1000" cy="1430" rx="3.0" ry="5.1" opacity="0.70" transform="rotate(14 1000 1430)"/><ellipse cx="1015" cy="1431" rx="3.2" ry="5.4" opacity="0.73" transform="rotate(14 1015 1431)"/><ellipse cx="1030" cy="1433" rx="3.3" ry="5.6" opacity="0.76" transform="rotate(14 1030 1433)"/><ellipse cx="1045" cy="1434" rx="3.4" ry="5.8" opacity="0.78" transform="rotate(14 1045 1434)"/><ellipse cx="1060" cy="1436" rx="3.6" ry="6.0" opacity="0.81" transform="rotate(14 1060 1436)"/><ellipse cx="1075" cy="1438" rx="3.7" ry="6.3" opacity="0.84" transform="rotate(14 1075 1438)"/><ellipse cx="1090" cy="1439" rx="3.8" ry="6.5" opacity="0.86" transform="rotate(14 1090 1439)"/><ellipse cx="1105" cy="1441" rx="3.9" ry="6.7" opacity="0.89" transform="rotate(14 1105 1441)"/><ellipse cx="1120" cy="1442" rx="4.1" ry="6.9" opacity="0.91" transform="rotate(14 1120 1442)"/><ellipse cx="1135" cy="1444" rx="4.2" ry="7.0" opacity="0.93" transform="rotate(14 1135 1444)"/><ellipse cx="1150" cy="1446" rx="4.2" ry="7.2" opacity="0.95" transform="rotate(14 1150 1446)"/><ellipse cx="757" cy="1420" rx="0.5" ry="1.0" opacity="0.20" transform="rotate(14 757 1420)"/><ellipse cx="772" cy="1422" rx="0.6" ry="1.1" opacity="0.21" transform="rotate(14 772 1422)"/><ellipse cx="787" cy="1423" rx="0.6" ry="1.1" opacity="0.22" transform="rotate(14 787 1423)"/><ellipse cx="802" cy="1425" rx="0.7" ry="1.2" opacity="0.22" transform="rotate(14 802 1425)"/><ellipse cx="817" cy="1426" rx="0.7" ry="1.3" opacity="0.23" transform="rotate(14 817 1426)"/><ellipse cx="832" cy="1428" rx="0.8" ry="1.4" opacity="0.24" transform="rotate(14 832 1428)"/><ellipse cx="847" cy="1430" rx="0.9" ry="1.6" opacity="0.28" transform="rotate(14 847 1430)"/><ellipse cx="862" cy="1431" rx="1.3" ry="2.2" opacity="0.34" transform="rotate(14 862 1431)"/><ellipse cx="877" cy="1433" rx="1.5" ry="2.7" opacity="0.40" transform="rotate(14 877 1433)"/><ellipse cx="892" cy="1434" rx="1.8" ry="3.1" opacity="0.45" transform="rotate(14 892 1434)"/><ellipse cx="907" cy="1436" rx="2.0" ry="3.4" opacity="0.49" transform="rotate(14 907 1436)"/><ellipse cx="922" cy="1438" rx="2.2" ry="3.7" opacity="0.53" transform="rotate(14 922 1438)"/><ellipse cx="937" cy="1439" rx="2.4" ry="4.1" opacity="0.57" transform="rotate(14 937 1439)"/><ellipse cx="952" cy="1441" rx="2.5" ry="4.3" opacity="0.60" transform="rotate(14 952 1441)"/><ellipse cx="967" cy="1442" rx="2.7" ry="4.6" opacity="0.64" transform="rotate(14 967 1442)"/><ellipse cx="982" cy="1444" rx="2.9" ry="4.9" opacity="0.67" transform="rotate(14 982 1444)"/><ellipse cx="997" cy="1446" rx="3.0" ry="5.1" opacity="0.70" transform="rotate(14 997 1446)"/><ellipse cx="1012" cy="1447" rx="3.2" ry="5.4" opacity="0.73" transform="rotate(14 1012 1447)"/><ellipse cx="1027" cy="1449" rx="3.3" ry="5.6" opacity="0.76" transform="rotate(14 1027 1449)"/><ellipse cx="1042" cy="1450" rx="3.4" ry="5.8" opacity="0.79" transform="rotate(14 1042 1450)"/><ellipse cx="1057" cy="1452" rx="3.6" ry="6.1" opacity="0.81" transform="rotate(14 1057 1452)"/><ellipse cx="1072" cy="1454" rx="3.7" ry="6.3" opacity="0.84" transform="rotate(14 1072 1454)"/><ellipse cx="1087" cy="1455" rx="3.8" ry="6.5" opacity="0.87" transform="rotate(14 1087 1455)"/><ellipse cx="1102" cy="1457" rx="4.0" ry="6.7" opacity="0.89" transform="rotate(14 1102 1457)"/><ellipse cx="1117" cy="1458" rx="4.1" ry="6.9" opacity="0.92" transform="rotate(14 1117 1458)"/><ellipse cx="1132" cy="1460" rx="4.2" ry="7.1" opacity="0.94" transform="rotate(14 1132 1460)"/><ellipse cx="1147" cy="1462" rx="4.3" ry="7.3" opacity="0.96" transform="rotate(14 1147 1462)"/><ellipse cx="1162" cy="1463" rx="4.4" ry="7.5" opacity="0.98" transform="rotate(14 1162 1463)"/><ellipse cx="754" cy="1436" rx="0.5" ry="1.0" opacity="0.19" transform="rotate(14 754 1436)"/><ellipse cx="769" cy="1438" rx="0.6" ry="1.0" opacity="0.20" transform="rotate(14 769 1438)"/><ellipse cx="784" cy="1439" rx="0.6" ry="1.1" opacity="0.21" transform="rotate(14 784 1439)"/><ellipse cx="799" cy="1441" rx="0.7" ry="1.2" opacity="0.22" transform="rotate(14 799 1441)"/><ellipse cx="814" cy="1442" rx="0.7" ry="1.3" opacity="0.23" transform="rotate(14 814 1442)"/><ellipse cx="829" cy="1444" rx="0.7" ry="1.3" opacity="0.24" transform="rotate(14 829 1444)"/><ellipse cx="844" cy="1446" rx="0.9" ry="1.6" opacity="0.27" transform="rotate(14 844 1446)"/><ellipse cx="859" cy="1447" rx="1.2" ry="2.2" opacity="0.34" transform="rotate(14 859 1447)"/><ellipse cx="874" cy="1449" rx="1.5" ry="2.6" opacity="0.40" transform="rotate(14 874 1449)"/><ellipse cx="889" cy="1450" rx="1.8" ry="3.0" opacity="0.44" transform="rotate(14 889 1450)"/><ellipse cx="904" cy="1452" rx="2.0" ry="3.4" opacity="0.49" transform="rotate(14 904 1452)"/><ellipse cx="919" cy="1454" rx="2.2" ry="3.7" opacity="0.53" transform="rotate(14 919 1454)"/><ellipse cx="934" cy="1455" rx="2.4" ry="4.0" opacity="0.57" transform="rotate(14 934 1455)"/><ellipse cx="949" cy="1457" rx="2.5" ry="4.3" opacity="0.60" transform="rotate(14 949 1457)"/><ellipse cx="964" cy="1458" rx="2.7" ry="4.6" opacity="0.64" transform="rotate(14 964 1458)"/><ellipse cx="979" cy="1460" rx="2.9" ry="4.9" opacity="0.67" transform="rotate(14 979 1460)"/><ellipse cx="994" cy="1462" rx="3.0" ry="5.1" opacity="0.70" transform="rotate(14 994 1462)"/><ellipse cx="1009" cy="1463" rx="3.2" ry="5.4" opacity="0.73" transform="rotate(14 1009 1463)"/><ellipse cx="1024" cy="1465" rx="3.3" ry="5.6" opacity="0.76" transform="rotate(14 1024 1465)"/><ellipse cx="1039" cy="1466" rx="3.4" ry="5.8" opacity="0.78" transform="rotate(14 1039 1466)"/><ellipse cx="1054" cy="1468" rx="3.6" ry="6.0" opacity="0.81" transform="rotate(14 1054 1468)"/><ellipse cx="1069" cy="1470" rx="3.7" ry="6.3" opacity="0.84" transform="rotate(14 1069 1470)"/><ellipse cx="1084" cy="1471" rx="3.8" ry="6.5" opacity="0.86" transform="rotate(14 1084 1471)"/><ellipse cx="1099" cy="1473" rx="3.9" ry="6.7" opacity="0.89" transform="rotate(14 1099 1473)"/><ellipse cx="1114" cy="1474" rx="4.1" ry="6.9" opacity="0.91" transform="rotate(14 1114 1474)"/><ellipse cx="1129" cy="1476" rx="4.2" ry="7.1" opacity="0.94" transform="rotate(14 1129 1476)"/><ellipse cx="1144" cy="1478" rx="4.3" ry="7.3" opacity="0.96" transform="rotate(14 1144 1478)"/><ellipse cx="1159" cy="1479" rx="4.4" ry="7.4" opacity="0.98" transform="rotate(14 1159 1479)"/><ellipse cx="766" cy="1454" rx="0.6" ry="1.0" opacity="0.20" transform="rotate(14 766 1454)"/><ellipse cx="781" cy="1455" rx="0.6" ry="1.1" opacity="0.21" transform="rotate(14 781 1455)"/><ellipse cx="796" cy="1457" rx="0.6" ry="1.2" opacity="0.22" transform="rotate(14 796 1457)"/><ellipse cx="811" cy="1458" rx="0.7" ry="1.2" opacity="0.23" transform="rotate(14 811 1458)"/><ellipse cx="826" cy="1460" rx="0.7" ry="1.3" opacity="0.24" transform="rotate(14 826 1460)"/><ellipse cx="841" cy="1462" rx="0.8" ry="1.5" opacity="0.26" transform="rotate(14 841 1462)"/><ellipse cx="856" cy="1463" rx="1.2" ry="2.1" opacity="0.33" transform="rotate(14 856 1463)"/><ellipse cx="871" cy="1465" rx="1.5" ry="2.6" opacity="0.39" transform="rotate(14 871 1465)"/><ellipse cx="886" cy="1466" rx="1.7" ry="3.0" opacity="0.44" transform="rotate(14 886 1466)"/><ellipse cx="901" cy="1468" rx="1.9" ry="3.3" opacity="0.48" transform="rotate(14 901 1468)"/><ellipse cx="916" cy="1470" rx="2.1" ry="3.7" opacity="0.52" transform="rotate(14 916 1470)"/><ellipse cx="931" cy="1471" rx="2.3" ry="4.0" opacity="0.56" transform="rotate(14 931 1471)"/><ellipse cx="946" cy="1473" rx="2.5" ry="4.3" opacity="0.60" transform="rotate(14 946 1473)"/><ellipse cx="961" cy="1474" rx="2.7" ry="4.5" opacity="0.63" transform="rotate(14 961 1474)"/><ellipse cx="976" cy="1476" rx="2.8" ry="4.8" opacity="0.66" transform="rotate(14 976 1476)"/><ellipse cx="991" cy="1478" rx="3.0" ry="5.1" opacity="0.69" transform="rotate(14 991 1478)"/><ellipse cx="1006" cy="1479" rx="3.1" ry="5.3" opacity="0.72" transform="rotate(14 1006 1479)"/><ellipse cx="763" cy="1470" rx="0.5" ry="1.0" opacity="0.20" transform="rotate(14 763 1470)"/><ellipse cx="778" cy="1471" rx="0.6" ry="1.1" opacity="0.21" transform="rotate(14 778 1471)"/><ellipse cx="793" cy="1473" rx="0.6" ry="1.1" opacity="0.22" transform="rotate(14 793 1473)"/><ellipse cx="808" cy="1474" rx="0.7" ry="1.2" opacity="0.22" transform="rotate(14 808 1474)"/><ellipse cx="823" cy="1476" rx="0.7" ry="1.3" opacity="0.23" transform="rotate(14 823 1476)"/><ellipse cx="838" cy="1478" rx="0.8" ry="1.4" opacity="0.24" transform="rotate(14 838 1478)"/><ellipse cx="853" cy="1479" rx="1.1" ry="2.0" opacity="0.32" transform="rotate(14 853 1479)"/></g>
<path d="M-10 1550 C 150 1490, 400 1458, 600 1457 C 800 1458, 1000 1480, 1165 1550 L1165 1590 L-10 1590 Z" fill="url(#gArch)"/>
<g fill="#2b27c8"><ellipse cx="755" cy="1467" rx="2.2" ry="3.8" opacity="0.47" transform="rotate(14 755 1467)"/><ellipse cx="770" cy="1469" rx="2.2" ry="4.0" opacity="0.48" transform="rotate(14 770 1469)"/><ellipse cx="785" cy="1470" rx="2.3" ry="4.1" opacity="0.49" transform="rotate(14 785 1470)"/><ellipse cx="800" cy="1472" rx="2.4" ry="4.3" opacity="0.51" transform="rotate(14 800 1472)"/><ellipse cx="815" cy="1474" rx="2.5" ry="4.4" opacity="0.52" transform="rotate(14 815 1474)"/><ellipse cx="830" cy="1475" rx="2.6" ry="4.5" opacity="0.53" transform="rotate(14 830 1475)"/><ellipse cx="845" cy="1477" rx="2.6" ry="4.7" opacity="0.54" transform="rotate(14 845 1477)"/><ellipse cx="860" cy="1478" rx="2.7" ry="4.8" opacity="0.55" transform="rotate(14 860 1478)"/><ellipse cx="875" cy="1480" rx="2.8" ry="4.9" opacity="0.56" transform="rotate(14 875 1480)"/><ellipse cx="572" cy="1464" rx="0.7" ry="1.2" opacity="0.25" transform="rotate(14 572 1464)"/><ellipse cx="587" cy="1466" rx="0.9" ry="1.7" opacity="0.29" transform="rotate(14 587 1466)"/><ellipse cx="602" cy="1467" rx="1.1" ry="2.1" opacity="0.32" transform="rotate(14 602 1467)"/><ellipse cx="617" cy="1469" rx="1.3" ry="2.4" opacity="0.35" transform="rotate(14 617 1469)"/><ellipse cx="632" cy="1470" rx="1.5" ry="2.6" opacity="0.37" transform="rotate(14 632 1470)"/><ellipse cx="647" cy="1472" rx="1.6" ry="2.9" opacity="0.39" transform="rotate(14 647 1472)"/><ellipse cx="662" cy="1474" rx="1.7" ry="3.1" opacity="0.41" transform="rotate(14 662 1474)"/><ellipse cx="677" cy="1475" rx="1.8" ry="3.3" opacity="0.42" transform="rotate(14 677 1475)"/><ellipse cx="692" cy="1477" rx="1.9" ry="3.5" opacity="0.44" transform="rotate(14 692 1477)"/><ellipse cx="707" cy="1478" rx="2.1" ry="3.6" opacity="0.45" transform="rotate(14 707 1478)"/><ellipse cx="722" cy="1480" rx="2.1" ry="3.8" opacity="0.47" transform="rotate(14 722 1480)"/><ellipse cx="737" cy="1482" rx="2.2" ry="4.0" opacity="0.48" transform="rotate(14 737 1482)"/><ellipse cx="752" cy="1483" rx="2.3" ry="4.1" opacity="0.49" transform="rotate(14 752 1483)"/><ellipse cx="767" cy="1485" rx="2.4" ry="4.3" opacity="0.51" transform="rotate(14 767 1485)"/><ellipse cx="782" cy="1486" rx="2.5" ry="4.4" opacity="0.52" transform="rotate(14 782 1486)"/><ellipse cx="797" cy="1488" rx="2.6" ry="4.6" opacity="0.53" transform="rotate(14 797 1488)"/><ellipse cx="812" cy="1490" rx="2.7" ry="4.7" opacity="0.54" transform="rotate(14 812 1490)"/><ellipse cx="827" cy="1491" rx="2.7" ry="4.8" opacity="0.55" transform="rotate(14 827 1491)"/><ellipse cx="842" cy="1493" rx="2.8" ry="4.9" opacity="0.56" transform="rotate(14 842 1493)"/><ellipse cx="857" cy="1494" rx="2.9" ry="5.1" opacity="0.57" transform="rotate(14 857 1494)"/><ellipse cx="872" cy="1496" rx="2.9" ry="5.2" opacity="0.58" transform="rotate(14 872 1496)"/><ellipse cx="887" cy="1498" rx="3.0" ry="5.3" opacity="0.59" transform="rotate(14 887 1498)"/><ellipse cx="902" cy="1499" rx="3.1" ry="5.4" opacity="0.60" transform="rotate(14 902 1499)"/><ellipse cx="917" cy="1501" rx="3.1" ry="5.5" opacity="0.61" transform="rotate(14 917 1501)"/><ellipse cx="932" cy="1502" rx="3.2" ry="5.6" opacity="0.62" transform="rotate(14 932 1502)"/><ellipse cx="947" cy="1504" rx="3.3" ry="5.7" opacity="0.63" transform="rotate(14 947 1504)"/><ellipse cx="962" cy="1506" rx="3.3" ry="5.8" opacity="0.63" transform="rotate(14 962 1506)"/><ellipse cx="977" cy="1507" rx="3.4" ry="5.9" opacity="0.64" transform="rotate(14 977 1507)"/><ellipse cx="992" cy="1509" rx="3.4" ry="6.0" opacity="0.65" transform="rotate(14 992 1509)"/><ellipse cx="1007" cy="1510" rx="3.5" ry="6.1" opacity="0.66" transform="rotate(14 1007 1510)"/><ellipse cx="1022" cy="1512" rx="3.5" ry="6.1" opacity="0.66" transform="rotate(14 1022 1512)"/><ellipse cx="1037" cy="1514" rx="3.5" ry="6.2" opacity="0.67" transform="rotate(14 1037 1514)"/><ellipse cx="1052" cy="1515" rx="3.6" ry="6.3" opacity="0.67" transform="rotate(14 1052 1515)"/><ellipse cx="1067" cy="1517" rx="3.6" ry="6.3" opacity="0.68" transform="rotate(14 1067 1517)"/><ellipse cx="554" cy="1478" rx="0.8" ry="1.4" opacity="0.27" transform="rotate(14 554 1478)"/><ellipse cx="569" cy="1480" rx="1.0" ry="1.9" opacity="0.31" transform="rotate(14 569 1480)"/><ellipse cx="584" cy="1482" rx="1.2" ry="2.2" opacity="0.33" transform="rotate(14 584 1482)"/><ellipse cx="599" cy="1483" rx="1.4" ry="2.5" opacity="0.36" transform="rotate(14 599 1483)"/><ellipse cx="614" cy="1485" rx="1.5" ry="2.7" opacity="0.38" transform="rotate(14 614 1485)"/><ellipse cx="629" cy="1486" rx="1.7" ry="3.0" opacity="0.40" transform="rotate(14 629 1486)"/><ellipse cx="644" cy="1488" rx="1.8" ry="3.2" opacity="0.41" transform="rotate(14 644 1488)"/><ellipse cx="659" cy="1490" rx="1.9" ry="3.4" opacity="0.43" transform="rotate(14 659 1490)"/><ellipse cx="674" cy="1491" rx="2.0" ry="3.6" opacity="0.45" transform="rotate(14 674 1491)"/><ellipse cx="689" cy="1493" rx="2.1" ry="3.7" opacity="0.46" transform="rotate(14 689 1493)"/><ellipse cx="704" cy="1494" rx="2.2" ry="3.9" opacity="0.48" transform="rotate(14 704 1494)"/><ellipse cx="719" cy="1496" rx="2.3" ry="4.1" opacity="0.49" transform="rotate(14 719 1496)"/><ellipse cx="734" cy="1498" rx="2.4" ry="4.2" opacity="0.50" transform="rotate(14 734 1498)"/><ellipse cx="749" cy="1499" rx="2.5" ry="4.4" opacity="0.51" transform="rotate(14 749 1499)"/><ellipse cx="764" cy="1501" rx="2.6" ry="4.5" opacity="0.53" transform="rotate(14 764 1501)"/><ellipse cx="779" cy="1502" rx="2.6" ry="4.7" opacity="0.54" transform="rotate(14 779 1502)"/><ellipse cx="794" cy="1504" rx="2.7" ry="4.8" opacity="0.55" transform="rotate(14 794 1504)"/><ellipse cx="809" cy="1506" rx="2.8" ry="4.9" opacity="0.56" transform="rotate(14 809 1506)"/><ellipse cx="824" cy="1507" rx="2.9" ry="5.1" opacity="0.57" transform="rotate(14 824 1507)"/><ellipse cx="839" cy="1509" rx="2.9" ry="5.2" opacity="0.58" transform="rotate(14 839 1509)"/><ellipse cx="854" cy="1510" rx="3.0" ry="5.3" opacity="0.59" transform="rotate(14 854 1510)"/><ellipse cx="869" cy="1512" rx="3.1" ry="5.4" opacity="0.60" transform="rotate(14 869 1512)"/><ellipse cx="884" cy="1514" rx="3.1" ry="5.5" opacity="0.61" transform="rotate(14 884 1514)"/><ellipse cx="899" cy="1515" rx="3.2" ry="5.7" opacity="0.62" transform="rotate(14 899 1515)"/><ellipse cx="914" cy="1517" rx="3.3" ry="5.8" opacity="0.63" transform="rotate(14 914 1517)"/><ellipse cx="929" cy="1518" rx="3.3" ry="5.9" opacity="0.64" transform="rotate(14 929 1518)"/><ellipse cx="944" cy="1520" rx="3.4" ry="6.0" opacity="0.65" transform="rotate(14 944 1520)"/><ellipse cx="959" cy="1522" rx="3.5" ry="6.1" opacity="0.66" transform="rotate(14 959 1522)"/><ellipse cx="974" cy="1523" rx="3.5" ry="6.2" opacity="0.67" transform="rotate(14 974 1523)"/><ellipse cx="989" cy="1525" rx="3.6" ry="6.3" opacity="0.67" transform="rotate(14 989 1525)"/><ellipse cx="1004" cy="1526" rx="3.6" ry="6.4" opacity="0.68" transform="rotate(14 1004 1526)"/><ellipse cx="1019" cy="1528" rx="3.7" ry="6.5" opacity="0.69" transform="rotate(14 1019 1528)"/><ellipse cx="1034" cy="1530" rx="3.7" ry="6.5" opacity="0.69" transform="rotate(14 1034 1530)"/><ellipse cx="1049" cy="1531" rx="3.8" ry="6.6" opacity="0.70" transform="rotate(14 1049 1531)"/><ellipse cx="1064" cy="1533" rx="3.8" ry="6.7" opacity="0.70" transform="rotate(14 1064 1533)"/><ellipse cx="1079" cy="1534" rx="3.8" ry="6.7" opacity="0.71" transform="rotate(14 1079 1534)"/><ellipse cx="1094" cy="1536" rx="3.8" ry="6.7" opacity="0.71" transform="rotate(14 1094 1536)"/><ellipse cx="1109" cy="1538" rx="3.8" ry="6.7" opacity="0.71" transform="rotate(14 1109 1538)"/><ellipse cx="1124" cy="1539" rx="3.8" ry="6.7" opacity="0.71" transform="rotate(14 1124 1539)"/><ellipse cx="1139" cy="1541" rx="3.8" ry="6.7" opacity="0.71" transform="rotate(14 1139 1541)"/><ellipse cx="1154" cy="1542" rx="3.8" ry="6.6" opacity="0.70" transform="rotate(14 1154 1542)"/><ellipse cx="536" cy="1493" rx="0.8" ry="1.5" opacity="0.28" transform="rotate(14 536 1493)"/><ellipse cx="551" cy="1494" rx="1.1" ry="1.9" opacity="0.31" transform="rotate(14 551 1494)"/><ellipse cx="566" cy="1496" rx="1.2" ry="2.2" opacity="0.34" transform="rotate(14 566 1496)"/><ellipse cx="581" cy="1498" rx="1.4" ry="2.5" opacity="0.36" transform="rotate(14 581 1498)"/><ellipse cx="596" cy="1499" rx="1.5" ry="2.8" opacity="0.38" transform="rotate(14 596 1499)"/><ellipse cx="611" cy="1501" rx="1.7" ry="3.0" opacity="0.40" transform="rotate(14 611 1501)"/><ellipse cx="626" cy="1502" rx="1.8" ry="3.2" opacity="0.42" transform="rotate(14 626 1502)"/><ellipse cx="641" cy="1504" rx="1.9" ry="3.4" opacity="0.43" transform="rotate(14 641 1504)"/><ellipse cx="656" cy="1506" rx="2.0" ry="3.6" opacity="0.45" transform="rotate(14 656 1506)"/><ellipse cx="671" cy="1507" rx="2.1" ry="3.8" opacity="0.46" transform="rotate(14 671 1507)"/><ellipse cx="686" cy="1509" rx="2.2" ry="3.9" opacity="0.48" transform="rotate(14 686 1509)"/><ellipse cx="701" cy="1510" rx="2.3" ry="4.1" opacity="0.49" transform="rotate(14 701 1510)"/><ellipse cx="716" cy="1512" rx="2.4" ry="4.3" opacity="0.51" transform="rotate(14 716 1512)"/><ellipse cx="731" cy="1514" rx="2.5" ry="4.4" opacity="0.52" transform="rotate(14 731 1514)"/><ellipse cx="746" cy="1515" rx="2.6" ry="4.6" opacity="0.53" transform="rotate(14 746 1515)"/><ellipse cx="761" cy="1517" rx="2.7" ry="4.7" opacity="0.54" transform="rotate(14 761 1517)"/><ellipse cx="776" cy="1518" rx="2.7" ry="4.8" opacity="0.55" transform="rotate(14 776 1518)"/><ellipse cx="791" cy="1520" rx="2.8" ry="5.0" opacity="0.56" transform="rotate(14 791 1520)"/><ellipse cx="806" cy="1522" rx="2.9" ry="5.1" opacity="0.58" transform="rotate(14 806 1522)"/><ellipse cx="821" cy="1523" rx="3.0" ry="5.2" opacity="0.59" transform="rotate(14 821 1523)"/><ellipse cx="836" cy="1525" rx="3.0" ry="5.4" opacity="0.60" transform="rotate(14 836 1525)"/><ellipse cx="851" cy="1526" rx="3.1" ry="5.5" opacity="0.61" transform="rotate(14 851 1526)"/><ellipse cx="866" cy="1528" rx="3.2" ry="5.6" opacity="0.62" transform="rotate(14 866 1528)"/><ellipse cx="881" cy="1530" rx="3.3" ry="5.7" opacity="0.63" transform="rotate(14 881 1530)"/><ellipse cx="896" cy="1531" rx="3.3" ry="5.8" opacity="0.64" transform="rotate(14 896 1531)"/><ellipse cx="911" cy="1533" rx="3.4" ry="6.0" opacity="0.65" transform="rotate(14 911 1533)"/><ellipse cx="926" cy="1534" rx="3.4" ry="6.1" opacity="0.66" transform="rotate(14 926 1534)"/><ellipse cx="941" cy="1536" rx="3.5" ry="6.2" opacity="0.66" transform="rotate(14 941 1536)"/><ellipse cx="956" cy="1538" rx="3.6" ry="6.3" opacity="0.67" transform="rotate(14 956 1538)"/><ellipse cx="971" cy="1539" rx="3.6" ry="6.4" opacity="0.68" transform="rotate(14 971 1539)"/><ellipse cx="986" cy="1541" rx="3.7" ry="6.5" opacity="0.69" transform="rotate(14 986 1541)"/><ellipse cx="1001" cy="1542" rx="3.8" ry="6.6" opacity="0.70" transform="rotate(14 1001 1542)"/><ellipse cx="1016" cy="1544" rx="3.8" ry="6.7" opacity="0.71" transform="rotate(14 1016 1544)"/><ellipse cx="1031" cy="1546" rx="3.9" ry="6.8" opacity="0.72" transform="rotate(14 1031 1546)"/><ellipse cx="1046" cy="1547" rx="3.9" ry="6.9" opacity="0.72" transform="rotate(14 1046 1547)"/><ellipse cx="1061" cy="1549" rx="4.0" ry="7.0" opacity="0.73" transform="rotate(14 1061 1549)"/><ellipse cx="1076" cy="1550" rx="4.0" ry="7.0" opacity="0.73" transform="rotate(14 1076 1550)"/><ellipse cx="1091" cy="1552" rx="4.0" ry="7.0" opacity="0.74" transform="rotate(14 1091 1552)"/><ellipse cx="1106" cy="1554" rx="4.0" ry="7.0" opacity="0.73" transform="rotate(14 1106 1554)"/><ellipse cx="1121" cy="1555" rx="3.9" ry="6.9" opacity="0.73" transform="rotate(14 1121 1555)"/><ellipse cx="1136" cy="1557" rx="3.9" ry="6.8" opacity="0.72" transform="rotate(14 1136 1557)"/><ellipse cx="1151" cy="1558" rx="3.8" ry="6.8" opacity="0.71" transform="rotate(14 1151 1558)"/><ellipse cx="518" cy="1507" rx="0.8" ry="1.4" opacity="0.27" transform="rotate(14 518 1507)"/><ellipse cx="533" cy="1509" rx="1.0" ry="1.9" opacity="0.31" transform="rotate(14 533 1509)"/><ellipse cx="548" cy="1510" rx="1.2" ry="2.2" opacity="0.33" transform="rotate(14 548 1510)"/><ellipse cx="563" cy="1512" rx="1.4" ry="2.5" opacity="0.36" transform="rotate(14 563 1512)"/><ellipse cx="578" cy="1514" rx="1.5" ry="2.7" opacity="0.38" transform="rotate(14 578 1514)"/><ellipse cx="593" cy="1515" rx="1.7" ry="3.0" opacity="0.40" transform="rotate(14 593 1515)"/><ellipse cx="608" cy="1517" rx="1.8" ry="3.2" opacity="0.41" transform="rotate(14 608 1517)"/><ellipse cx="623" cy="1518" rx="1.9" ry="3.4" opacity="0.43" transform="rotate(14 623 1518)"/><ellipse cx="638" cy="1520" rx="2.0" ry="3.6" opacity="0.45" transform="rotate(14 638 1520)"/><ellipse cx="653" cy="1522" rx="2.1" ry="3.7" opacity="0.46" transform="rotate(14 653 1522)"/><ellipse cx="668" cy="1523" rx="2.2" ry="3.9" opacity="0.48" transform="rotate(14 668 1523)"/><ellipse cx="683" cy="1525" rx="2.3" ry="4.1" opacity="0.49" transform="rotate(14 683 1525)"/><ellipse cx="698" cy="1526" rx="2.4" ry="4.2" opacity="0.50" transform="rotate(14 698 1526)"/><ellipse cx="713" cy="1528" rx="2.5" ry="4.4" opacity="0.52" transform="rotate(14 713 1528)"/><ellipse cx="728" cy="1530" rx="2.6" ry="4.5" opacity="0.53" transform="rotate(14 728 1530)"/><ellipse cx="743" cy="1531" rx="2.7" ry="4.7" opacity="0.54" transform="rotate(14 743 1531)"/><ellipse cx="758" cy="1533" rx="2.7" ry="4.8" opacity="0.55" transform="rotate(14 758 1533)"/><ellipse cx="773" cy="1534" rx="2.8" ry="5.0" opacity="0.56" transform="rotate(14 773 1534)"/><ellipse cx="788" cy="1536" rx="2.9" ry="5.1" opacity="0.57" transform="rotate(14 788 1536)"/><ellipse cx="803" cy="1538" rx="3.0" ry="5.2" opacity="0.59" transform="rotate(14 803 1538)"/><ellipse cx="818" cy="1539" rx="3.0" ry="5.3" opacity="0.60" transform="rotate(14 818 1539)"/><ellipse cx="833" cy="1541" rx="3.1" ry="5.5" opacity="0.61" transform="rotate(14 833 1541)"/><ellipse cx="848" cy="1542" rx="3.2" ry="5.6" opacity="0.62" transform="rotate(14 848 1542)"/><ellipse cx="863" cy="1544" rx="3.2" ry="5.7" opacity="0.63" transform="rotate(14 863 1544)"/><ellipse cx="878" cy="1546" rx="3.3" ry="5.8" opacity="0.64" transform="rotate(14 878 1546)"/><ellipse cx="893" cy="1547" rx="3.4" ry="5.9" opacity="0.65" transform="rotate(14 893 1547)"/><ellipse cx="908" cy="1549" rx="3.4" ry="6.1" opacity="0.65" transform="rotate(14 908 1549)"/><ellipse cx="923" cy="1550" rx="3.5" ry="6.2" opacity="0.66" transform="rotate(14 923 1550)"/><ellipse cx="938" cy="1552" rx="3.6" ry="6.3" opacity="0.67" transform="rotate(14 938 1552)"/><ellipse cx="953" cy="1554" rx="3.6" ry="6.4" opacity="0.68" transform="rotate(14 953 1554)"/><ellipse cx="968" cy="1555" rx="3.7" ry="6.5" opacity="0.69" transform="rotate(14 968 1555)"/><ellipse cx="983" cy="1557" rx="3.7" ry="6.6" opacity="0.70" transform="rotate(14 983 1557)"/><ellipse cx="998" cy="1558" rx="3.8" ry="6.7" opacity="0.71" transform="rotate(14 998 1558)"/><ellipse cx="1013" cy="1560" rx="3.9" ry="6.8" opacity="0.72" transform="rotate(14 1013 1560)"/><ellipse cx="1028" cy="1562" rx="3.9" ry="6.9" opacity="0.72" transform="rotate(14 1028 1562)"/><ellipse cx="1043" cy="1563" rx="4.0" ry="7.0" opacity="0.73" transform="rotate(14 1043 1563)"/><ellipse cx="1058" cy="1565" rx="4.0" ry="7.0" opacity="0.74" transform="rotate(14 1058 1565)"/><ellipse cx="1073" cy="1566" rx="4.0" ry="7.1" opacity="0.74" transform="rotate(14 1073 1566)"/><ellipse cx="1088" cy="1568" rx="4.0" ry="7.0" opacity="0.74" transform="rotate(14 1088 1568)"/><ellipse cx="1103" cy="1570" rx="4.0" ry="7.0" opacity="0.73" transform="rotate(14 1103 1570)"/><ellipse cx="1118" cy="1571" rx="3.9" ry="6.9" opacity="0.72" transform="rotate(14 1118 1571)"/><ellipse cx="1133" cy="1573" rx="3.9" ry="6.8" opacity="0.72" transform="rotate(14 1133 1573)"/><ellipse cx="1148" cy="1574" rx="3.8" ry="6.7" opacity="0.71" transform="rotate(14 1148 1574)"/><ellipse cx="1163" cy="1576" rx="3.7" ry="6.6" opacity="0.70" transform="rotate(14 1163 1576)"/><ellipse cx="500" cy="1522" rx="0.6" ry="1.2" opacity="0.25" transform="rotate(14 500 1522)"/><ellipse cx="515" cy="1523" rx="0.9" ry="1.7" opacity="0.29" transform="rotate(14 515 1523)"/><ellipse cx="530" cy="1525" rx="1.1" ry="2.1" opacity="0.32" transform="rotate(14 530 1525)"/><ellipse cx="545" cy="1526" rx="1.3" ry="2.4" opacity="0.35" transform="rotate(14 545 1526)"/><ellipse cx="560" cy="1528" rx="1.5" ry="2.6" opacity="0.37" transform="rotate(14 560 1528)"/><ellipse cx="575" cy="1530" rx="1.6" ry="2.9" opacity="0.39" transform="rotate(14 575 1530)"/><ellipse cx="590" cy="1531" rx="1.7" ry="3.1" opacity="0.41" transform="rotate(14 590 1531)"/><ellipse cx="605" cy="1533" rx="1.8" ry="3.3" opacity="0.42" transform="rotate(14 605 1533)"/><ellipse cx="620" cy="1534" rx="2.0" ry="3.5" opacity="0.44" transform="rotate(14 620 1534)"/><ellipse cx="635" cy="1536" rx="2.1" ry="3.7" opacity="0.46" transform="rotate(14 635 1536)"/><ellipse cx="650" cy="1538" rx="2.2" ry="3.8" opacity="0.47" transform="rotate(14 650 1538)"/><ellipse cx="665" cy="1539" rx="2.3" ry="4.0" opacity="0.48" transform="rotate(14 665 1539)"/><ellipse cx="680" cy="1541" rx="2.4" ry="4.2" opacity="0.50" transform="rotate(14 680 1541)"/><ellipse cx="695" cy="1542" rx="2.4" ry="4.3" opacity="0.51" transform="rotate(14 695 1542)"/><ellipse cx="710" cy="1544" rx="2.5" ry="4.5" opacity="0.52" transform="rotate(14 710 1544)"/><ellipse cx="725" cy="1546" rx="2.6" ry="4.6" opacity="0.53" transform="rotate(14 725 1546)"/><ellipse cx="740" cy="1547" rx="2.7" ry="4.7" opacity="0.55" transform="rotate(14 740 1547)"/><ellipse cx="755" cy="1549" rx="2.8" ry="4.9" opacity="0.56" transform="rotate(14 755 1549)"/><ellipse cx="770" cy="1550" rx="2.8" ry="5.0" opacity="0.57" transform="rotate(14 770 1550)"/><ellipse cx="785" cy="1552" rx="2.9" ry="5.1" opacity="0.58" transform="rotate(14 785 1552)"/><ellipse cx="800" cy="1554" rx="3.0" ry="5.3" opacity="0.59" transform="rotate(14 800 1554)"/><ellipse cx="815" cy="1555" rx="3.1" ry="5.4" opacity="0.60" transform="rotate(14 815 1555)"/><ellipse cx="830" cy="1557" rx="3.1" ry="5.5" opacity="0.61" transform="rotate(14 830 1557)"/><ellipse cx="845" cy="1558" rx="3.2" ry="5.6" opacity="0.62" transform="rotate(14 845 1558)"/><ellipse cx="860" cy="1560" rx="3.3" ry="5.7" opacity="0.63" transform="rotate(14 860 1560)"/><ellipse cx="875" cy="1562" rx="3.3" ry="5.8" opacity="0.64" transform="rotate(14 875 1562)"/><ellipse cx="890" cy="1563" rx="3.4" ry="6.0" opacity="0.65" transform="rotate(14 890 1563)"/><ellipse cx="905" cy="1565" rx="3.4" ry="6.1" opacity="0.65" transform="rotate(14 905 1565)"/><ellipse cx="920" cy="1566" rx="3.5" ry="6.2" opacity="0.66" transform="rotate(14 920 1566)"/><ellipse cx="935" cy="1568" rx="3.6" ry="6.3" opacity="0.67" transform="rotate(14 935 1568)"/><ellipse cx="950" cy="1570" rx="3.6" ry="6.3" opacity="0.68" transform="rotate(14 950 1570)"/><ellipse cx="965" cy="1571" rx="3.7" ry="6.4" opacity="0.69" transform="rotate(14 965 1571)"/><ellipse cx="980" cy="1573" rx="3.7" ry="6.5" opacity="0.69" transform="rotate(14 980 1573)"/><ellipse cx="995" cy="1574" rx="3.8" ry="6.6" opacity="0.70" transform="rotate(14 995 1574)"/><ellipse cx="1010" cy="1576" rx="3.8" ry="6.7" opacity="0.70" transform="rotate(14 1010 1576)"/><ellipse cx="1025" cy="1578" rx="3.8" ry="6.7" opacity="0.71" transform="rotate(14 1025 1578)"/><ellipse cx="1040" cy="1579" rx="3.8" ry="6.7" opacity="0.71" transform="rotate(14 1040 1579)"/><ellipse cx="1055" cy="1581" rx="3.8" ry="6.8" opacity="0.71" transform="rotate(14 1055 1581)"/><ellipse cx="1070" cy="1582" rx="3.8" ry="6.8" opacity="0.71" transform="rotate(14 1070 1582)"/><ellipse cx="1085" cy="1584" rx="3.8" ry="6.7" opacity="0.71" transform="rotate(14 1085 1584)"/><ellipse cx="1100" cy="1586" rx="3.8" ry="6.7" opacity="0.71" transform="rotate(14 1100 1586)"/><ellipse cx="1115" cy="1587" rx="3.8" ry="6.6" opacity="0.70" transform="rotate(14 1115 1587)"/><ellipse cx="1130" cy="1589" rx="3.7" ry="6.5" opacity="0.70" transform="rotate(14 1130 1589)"/><ellipse cx="1145" cy="1590" rx="3.7" ry="6.5" opacity="0.69" transform="rotate(14 1145 1590)"/><ellipse cx="497" cy="1538" rx="0.8" ry="1.4" opacity="0.27" transform="rotate(14 497 1538)"/><ellipse cx="512" cy="1539" rx="1.0" ry="1.8" opacity="0.30" transform="rotate(14 512 1539)"/><ellipse cx="527" cy="1541" rx="1.2" ry="2.2" opacity="0.33" transform="rotate(14 527 1541)"/><ellipse cx="542" cy="1542" rx="1.4" ry="2.4" opacity="0.35" transform="rotate(14 542 1542)"/><ellipse cx="557" cy="1544" rx="1.5" ry="2.7" opacity="0.37" transform="rotate(14 557 1544)"/><ellipse cx="572" cy="1546" rx="1.6" ry="2.9" opacity="0.39" transform="rotate(14 572 1546)"/><ellipse cx="587" cy="1547" rx="1.8" ry="3.1" opacity="0.41" transform="rotate(14 587 1547)"/><ellipse cx="602" cy="1549" rx="1.9" ry="3.3" opacity="0.43" transform="rotate(14 602 1549)"/><ellipse cx="617" cy="1550" rx="2.0" ry="3.5" opacity="0.44" transform="rotate(14 617 1550)"/><ellipse cx="632" cy="1552" rx="2.1" ry="3.7" opacity="0.46" transform="rotate(14 632 1552)"/><ellipse cx="647" cy="1554" rx="2.2" ry="3.9" opacity="0.47" transform="rotate(14 647 1554)"/><ellipse cx="662" cy="1555" rx="2.3" ry="4.0" opacity="0.49" transform="rotate(14 662 1555)"/><ellipse cx="677" cy="1557" rx="2.4" ry="4.2" opacity="0.50" transform="rotate(14 677 1557)"/><ellipse cx="692" cy="1558" rx="2.4" ry="4.3" opacity="0.51" transform="rotate(14 692 1558)"/><ellipse cx="707" cy="1560" rx="2.5" ry="4.5" opacity="0.52" transform="rotate(14 707 1560)"/><ellipse cx="722" cy="1562" rx="2.6" ry="4.6" opacity="0.53" transform="rotate(14 722 1562)"/><ellipse cx="737" cy="1563" rx="2.7" ry="4.7" opacity="0.54" transform="rotate(14 737 1563)"/><ellipse cx="752" cy="1565" rx="2.8" ry="4.9" opacity="0.56" transform="rotate(14 752 1565)"/><ellipse cx="767" cy="1566" rx="2.8" ry="5.0" opacity="0.57" transform="rotate(14 767 1566)"/><ellipse cx="782" cy="1568" rx="2.9" ry="5.1" opacity="0.58" transform="rotate(14 782 1568)"/><ellipse cx="797" cy="1570" rx="3.0" ry="5.2" opacity="0.59" transform="rotate(14 797 1570)"/><ellipse cx="812" cy="1571" rx="3.0" ry="5.3" opacity="0.60" transform="rotate(14 812 1571)"/><ellipse cx="827" cy="1573" rx="3.1" ry="5.5" opacity="0.60" transform="rotate(14 827 1573)"/><ellipse cx="842" cy="1574" rx="3.2" ry="5.6" opacity="0.61" transform="rotate(14 842 1574)"/><ellipse cx="857" cy="1576" rx="3.2" ry="5.7" opacity="0.62" transform="rotate(14 857 1576)"/><ellipse cx="872" cy="1578" rx="3.3" ry="5.8" opacity="0.63" transform="rotate(14 872 1578)"/><ellipse cx="887" cy="1579" rx="3.3" ry="5.9" opacity="0.64" transform="rotate(14 887 1579)"/><ellipse cx="902" cy="1581" rx="3.4" ry="6.0" opacity="0.65" transform="rotate(14 902 1581)"/><ellipse cx="917" cy="1582" rx="3.4" ry="6.0" opacity="0.65" transform="rotate(14 917 1582)"/><ellipse cx="932" cy="1584" rx="3.5" ry="6.1" opacity="0.66" transform="rotate(14 932 1584)"/><ellipse cx="947" cy="1586" rx="3.5" ry="6.2" opacity="0.67" transform="rotate(14 947 1586)"/><ellipse cx="962" cy="1587" rx="3.6" ry="6.3" opacity="0.67" transform="rotate(14 962 1587)"/><ellipse cx="977" cy="1589" rx="3.6" ry="6.3" opacity="0.68" transform="rotate(14 977 1589)"/><ellipse cx="992" cy="1590" rx="3.6" ry="6.4" opacity="0.68" transform="rotate(14 992 1590)"/><ellipse cx="494" cy="1554" rx="0.8" ry="1.4" opacity="0.27" transform="rotate(14 494 1554)"/><ellipse cx="509" cy="1555" rx="1.0" ry="1.8" opacity="0.30" transform="rotate(14 509 1555)"/><ellipse cx="524" cy="1557" rx="1.2" ry="2.2" opacity="0.33" transform="rotate(14 524 1557)"/><ellipse cx="539" cy="1558" rx="1.4" ry="2.4" opacity="0.35" transform="rotate(14 539 1558)"/><ellipse cx="554" cy="1560" rx="1.5" ry="2.7" opacity="0.37" transform="rotate(14 554 1560)"/><ellipse cx="569" cy="1562" rx="1.6" ry="2.9" opacity="0.39" transform="rotate(14 569 1562)"/><ellipse cx="584" cy="1563" rx="1.7" ry="3.1" opacity="0.41" transform="rotate(14 584 1563)"/><ellipse cx="599" cy="1565" rx="1.9" ry="3.3" opacity="0.43" transform="rotate(14 599 1565)"/><ellipse cx="614" cy="1566" rx="2.0" ry="3.5" opacity="0.44" transform="rotate(14 614 1566)"/><ellipse cx="629" cy="1568" rx="2.1" ry="3.7" opacity="0.45" transform="rotate(14 629 1568)"/><ellipse cx="644" cy="1570" rx="2.2" ry="3.8" opacity="0.47" transform="rotate(14 644 1570)"/><ellipse cx="659" cy="1571" rx="2.2" ry="4.0" opacity="0.48" transform="rotate(14 659 1571)"/><ellipse cx="674" cy="1573" rx="2.3" ry="4.1" opacity="0.49" transform="rotate(14 674 1573)"/><ellipse cx="689" cy="1574" rx="2.4" ry="4.3" opacity="0.51" transform="rotate(14 689 1574)"/><ellipse cx="704" cy="1576" rx="2.5" ry="4.4" opacity="0.52" transform="rotate(14 704 1576)"/><ellipse cx="719" cy="1578" rx="2.6" ry="4.5" opacity="0.53" transform="rotate(14 719 1578)"/><ellipse cx="734" cy="1579" rx="2.6" ry="4.7" opacity="0.54" transform="rotate(14 734 1579)"/><ellipse cx="749" cy="1581" rx="2.7" ry="4.8" opacity="0.55" transform="rotate(14 749 1581)"/><ellipse cx="764" cy="1582" rx="2.8" ry="4.9" opacity="0.56" transform="rotate(14 764 1582)"/><ellipse cx="779" cy="1584" rx="2.8" ry="5.0" opacity="0.57" transform="rotate(14 779 1584)"/><ellipse cx="794" cy="1586" rx="2.9" ry="5.1" opacity="0.58" transform="rotate(14 794 1586)"/><ellipse cx="809" cy="1587" rx="3.0" ry="5.2" opacity="0.59" transform="rotate(14 809 1587)"/><ellipse cx="824" cy="1589" rx="3.0" ry="5.3" opacity="0.59" transform="rotate(14 824 1589)"/><ellipse cx="839" cy="1590" rx="3.1" ry="5.4" opacity="0.60" transform="rotate(14 839 1590)"/><ellipse cx="491" cy="1570" rx="0.7" ry="1.3" opacity="0.26" transform="rotate(14 491 1570)"/><ellipse cx="506" cy="1571" rx="1.0" ry="1.7" opacity="0.30" transform="rotate(14 506 1571)"/><ellipse cx="521" cy="1573" rx="1.2" ry="2.1" opacity="0.32" transform="rotate(14 521 1573)"/><ellipse cx="536" cy="1574" rx="1.3" ry="2.4" opacity="0.35" transform="rotate(14 536 1574)"/><ellipse cx="551" cy="1576" rx="1.5" ry="2.6" opacity="0.37" transform="rotate(14 551 1576)"/><ellipse cx="566" cy="1578" rx="1.6" ry="2.8" opacity="0.39" transform="rotate(14 566 1578)"/><ellipse cx="581" cy="1579" rx="1.7" ry="3.0" opacity="0.40" transform="rotate(14 581 1579)"/><ellipse cx="596" cy="1581" rx="1.8" ry="3.2" opacity="0.42" transform="rotate(14 596 1581)"/><ellipse cx="611" cy="1582" rx="1.9" ry="3.4" opacity="0.43" transform="rotate(14 611 1582)"/><ellipse cx="626" cy="1584" rx="2.0" ry="3.6" opacity="0.45" transform="rotate(14 626 1584)"/><ellipse cx="641" cy="1586" rx="2.1" ry="3.7" opacity="0.46" transform="rotate(14 641 1586)"/><ellipse cx="656" cy="1587" rx="2.2" ry="3.9" opacity="0.47" transform="rotate(14 656 1587)"/><ellipse cx="671" cy="1589" rx="2.3" ry="4.0" opacity="0.48" transform="rotate(14 671 1589)"/><ellipse cx="686" cy="1590" rx="2.3" ry="4.2" opacity="0.50" transform="rotate(14 686 1590)"/><ellipse cx="503" cy="1587" rx="0.8" ry="1.5" opacity="0.28" transform="rotate(14 503 1587)"/><ellipse cx="518" cy="1589" rx="1.0" ry="1.9" opacity="0.31" transform="rotate(14 518 1589)"/><ellipse cx="533" cy="1590" rx="1.2" ry="2.2" opacity="0.33" transform="rotate(14 533 1590)"/></g><rect x="0" y="290" width="1155" height="48" fill="url(#band)"/>
<path d="M250 564.5 H190.5 V824.5 H236" fill="none" stroke="#f6a532" stroke-width="2.6"/>
<path d="M1025 1084 H1077.5 V1309 H990" fill="none" stroke="#f6a532" stroke-width="2.6"/>
<path d="M404 548 H945 A72 65 0 0 1 945 678 H404 Z" fill="url(#shW)"/>
<path d="M377.7 533 H955 A72 65 0 0 1 955 663 H377.7 Z" fill="#3c3d86"/>
<rect x="479" y="533" width="24" height="99" fill="url(#sqShB)"/>
<rect x="377.7" y="492" width="101.3" height="140" fill="#3c3d86"/>
<path d="M377.7 632 H479 L377.7 663 Z" fill="#30306a"/><path d="M859 786 H314 A70 65 0 0 0 314 915 H859 Z" fill="url(#shW)"/>
<path d="M863 773 H303 A70 64.8 0 0 0 303 903 H863 Z" fill="#f5a631"/>
<rect x="738" y="773" width="24" height="99" fill="url(#sqShO)"/>
<rect x="762" y="732" width="101" height="140" fill="#fab83e"/>
<path d="M762 872 H863 V903 Z" fill="#9b6c38"/><path d="M404 1033 H945 A72 65 0 0 1 945 1163 H404 Z" fill="url(#shW)"/>
<path d="M377.7 1018 H955 A72 65 0 0 1 955 1148 H377.7 Z" fill="#3c3d86"/>
<rect x="479" y="1018" width="24" height="99" fill="url(#sqShB)"/>
<rect x="377.7" y="977" width="101.3" height="140" fill="#3c3d86"/>
<path d="M377.7 1117 H479 L377.7 1148 Z" fill="#30306a"/><path d="M859 1271 H314 A70 65 0 0 0 314 1400 H859 Z" fill="url(#shW)"/>
<path d="M863 1258 H303 A70 64.8 0 0 0 303 1388 H863 Z" fill="#f5a631"/>
<rect x="738" y="1258" width="24" height="99" fill="url(#sqShO)"/>
<rect x="762" y="1217" width="101" height="140" fill="#fab83e"/>
<path d="M762 1357 H863 V1388 Z" fill="#9b6c38"/><circle cx="339.2" cy="560.6" r="84" fill="#3b3c85"/>
<g clip-path="url(#cB1)"><circle cx="367.2" cy="527.6" r="82" fill="#3f4094" stroke="#8b5277" stroke-opacity="0.5" stroke-width="0.8"/></g>
<circle cx="339.2" cy="560.6" r="87.6" fill="none" stroke="#c9c8d8" stroke-width="7.4"/>
<polygon points="286.9,495.8 298.9,496.6 322.9,559.8 311.8,558.4" fill="url(#arB)"/>
<polygon points="331.9,556.3 341.6,552.5 356.1,588.2 344.3,587.5" fill="#00fdfb"/>
<polygon points="356.5,587.8 366.5,584.4 374.2,603.5 382.0,609.6 376.2,626.2 358.7,607.1 364.0,606.3" fill="#00fdfb"/>
<polygon points="322.9,559.8 322.5,554.0 331.0,549.5 341.6,552.5 331.9,556.3" fill="#1b72aa"/>
<polygon points="356.1,588.2 356.5,582.6 366.5,584.4 356.5,587.8" fill="#1b72aa"/><circle cx="339.2" cy="1045.6" r="84" fill="#3b3c85"/>
<g clip-path="url(#cB3)"><circle cx="367.2" cy="1012.5999999999999" r="82" fill="#3f4094" stroke="#8b5277" stroke-opacity="0.5" stroke-width="0.8"/></g>
<circle cx="339.2" cy="1045.6" r="87.6" fill="none" stroke="#c9c8d8" stroke-width="7.4"/>
<polygon points="286.9,980.8 298.9,981.6 322.9,1044.8 311.8,1043.4" fill="url(#arB3)"/>
<polygon points="331.9,1041.3 341.6,1037.5 356.1,1073.2 344.3,1072.5" fill="#00fdfb"/>
<polygon points="356.5,1072.8 366.5,1069.4 374.2,1088.5 382.0,1094.6 376.2,1111.2 358.7,1092.1 364.0,1091.3" fill="#00fdfb"/>
<polygon points="322.9,1044.8 322.5,1039.0 331.0,1034.5 341.6,1037.5 331.9,1041.3" fill="#1b72aa"/>
<polygon points="356.1,1073.2 356.5,1067.6 366.5,1069.4 356.5,1072.8" fill="#1b72aa"/><circle cx="902" cy="807" r="84" fill="url(#oCres)"/>
<g clip-path="url(#cO2)"><circle cx="875" cy="775" r="80" fill="#f4a532"/></g>
<circle cx="902" cy="807" r="87.6" fill="none" stroke="#e4e2ee" stroke-opacity="0.85" stroke-width="7.4"/><circle cx="902" cy="1292" r="84" fill="url(#oCres)"/>
<g clip-path="url(#cO4)"><circle cx="875" cy="1260" r="80" fill="#f4a532"/></g>
<circle cx="902" cy="1292" r="87.6" fill="none" stroke="#e4e2ee" stroke-opacity="0.85" stroke-width="7.4"/><polygon points="946.9,750.0 958.7,751.7 922.1,807.4 910.8,805.7 903.5,804.0 883.8,828.2 872.0,827.1 861.9,842.3 864.7,845.1 844.4,859.7 842.2,842.3 848.4,841.7 863.6,821.5 874.8,822.0 894.5,795.0 905.2,794.8 913.7,801.8" fill="url(#arO2)"/><polygon points="894.5,795.0 905.2,794.8 913.7,801.8 910.8,805.7 903.5,804.0" fill="#1b6ea6"/><polygon points="863.6,821.5 874.8,822.0 871.5,826.5" fill="#1b6ea6"/><g clip-path="url(#cO4)"><polygon points="843.9,1340.2 879.9,1286.2 891.7,1286.7 918.7,1264.2 930.5,1265.9 940.1,1249.6 937.9,1247.3 957.6,1232.7 959.8,1250.7 954.7,1251.3 939.0,1272.1 927.7,1270.4 908.0,1298.0 896.8,1298.0 888.9,1292.3 857.4,1340.2" fill="url(#arO4)"/></g><polygon points="891.7,1286.7 888.9,1292.3 896.8,1298.0 908.0,1298.0 900.2,1291.2" fill="#1b6ea6"/><polygon points="930.5,1265.9 927.7,1270.4 939.0,1272.1" fill="#1b6ea6"/>
<rect x="485.5" y="496" width="334" height="32" rx="16" fill="#3d3f93"/>
<rect x="485.5" y="496" width="154.5" height="32" rx="16" fill="#f5a631"/>
<rect x="394" y="732" width="353" height="36.5" rx="18.25" fill="#f5a631"/>
<rect x="394" y="732" width="162.6" height="36.5" rx="18.25" fill="#3d3f93"/>
<rect x="488" y="978" width="395" height="36" rx="18" fill="#3d3f93"/>
<rect x="488" y="978" width="144.7" height="36" rx="18" fill="#f5a631"/>
<rect x="395.6" y="1217" width="353.2" height="37" rx="18.5" fill="#f5a631"/>
<rect x="395.6" y="1217" width="162.8" height="37" rx="18.5" fill="#3d3f93"/>

<g fill="none" stroke="#fff" stroke-width="1.2">
 <path d="M572.2 1513.5 V1510.3 H575.5 M579.5 1510.3 H582.8 V1513.5 M582.8 1517.5 V1520.8 H579.5 M575.5 1520.8 H572.2 V1517.5" stroke-width="1.5"/>
</g>
<circle cx="576.9" cy="1515.8" r="2.8" fill="#f07f2a"/>
<rect x="698" y="1494.5" width="14.5" height="9" rx="0.8" fill="#fff"/>
<path d="M698.5 1495 L705.25 1500.5 L712 1495" fill="none" stroke="#1a1560" stroke-width="1.1"/>
<path d="M699 1503 L703.5 1499 M711.5 1503 L707 1499" fill="none" stroke="#1a1560" stroke-width="0.8"/>
<path d="M702.5 1533 C 699.5 1528.5, 698 1526.5, 698 1524.5 A 4.5 4.5 0 0 1 707 1524.5 C 707 1526.5, 705.5 1528.5, 702.5 1533 Z" fill="#fff"/>
<circle cx="702.5" cy="1524.5" r="1.8" fill="#120d45"/>
<path d="M699 1533.5 Q702.5 1536 706 1533.5" fill="none" stroke="#fff" stroke-width="1"/>

<rect x="336.5" y="364.5" width="440" height="56" rx="28" fill="none" stroke="#2f78bf" stroke-width="1.1"/>
<path d="M455.5 1478 L456.6 1510 L455.5 1543 L454.4 1510 Z" fill="#f0893a"/>
<path d="M666.5 1478 L667.6 1510 L666.5 1543 L665.4 1510 Z" fill="#f0893a"/>
<rect x="0" y="0" width="1155" height="1" fill="#8d89a6"/>
<rect x="1154" y="0" width="1" height="1581" fill="#8d89a6"/>
<rect x="0" y="1580" width="1155" height="1" fill="#c9c7dc"/>
</svg>
<div class="t" style="left:-24.20px;width:1200px;text-align:center;top:77.35px;font-size:100px;color:#fff;font-weight:bold;letter-spacing:-1.87px;text-shadow:0 0 1px #06031a,0 0 2px #06031a,0 0 2px #06031a;">Maximize Savings</div>
<div class="t" style="left:-20.40px;width:1200px;text-align:center;top:182.05px;font-size:100px;color:#f48a35;font-weight:bold;letter-spacing:-2.05px;text-shadow:0 0 1px #06031a,0 0 2px #06031a,0 0 2px #06031a;">Before the Price Rises!</div>
<div class="t" style="left:-22.50px;width:1200px;text-align:center;top:292.68px;font-size:37px;color:#fff;font-weight:normal;letter-spacing:0.26px;">Lock in Your Federal Contracting Advantage Now!</div>
<div class="t" style="left:-44.00px;width:1200px;text-align:center;top:378.25px;font-size:29px;color:#fff;font-weight:bold;letter-spacing:1.4px;">END OF YEAR PROMOTION</div>
<div class="t" style="left:144.50px;width:1200px;text-align:center;top:566.45px;font-size:26.4px;color:#fff;font-weight:normal;letter-spacing:0px;">Achieve the highest total package value of</div>
<div class="t" style="left:142.20px;width:1200px;text-align:center;top:599.81px;font-size:26.1px;color:#fff;font-weight:normal;letter-spacing:0px;">$50,750 at the lowest cost of $21,000.</div>
<div class="t" style="left:-104.00px;width:1200px;text-align:center;top:807.53px;font-size:25.6px;color:#fff8ea;font-weight:normal;letter-spacing:0px;">Still substantial, with a package value of</div>
<div class="t" style="left:-101.10px;width:1200px;text-align:center;top:839.87px;font-size:25.2px;color:#fff8ea;font-weight:normal;letter-spacing:0px;">$41,600 available for the same cost of $21,000</div>
<div class="t" style="left:110.40px;width:1200px;text-align:center;top:1050.97px;font-size:27.8px;color:#fff;font-weight:normal;letter-spacing:0px;">Standard retail value of $35,750</div>
<div class="t" style="left:108.20px;width:1200px;text-align:center;top:1085.47px;font-size:27.8px;color:#fff;font-weight:normal;letter-spacing:0px;">obtainable for $21,000.</div>
<div class="t" style="left:-85.60px;width:1200px;text-align:center;top:1291.24px;font-size:26.3px;color:#fff8ea;font-weight:normal;letter-spacing:0px;">Same retail value of $35,750, but at</div>
<div class="t" style="left:-85.80px;width:1200px;text-align:center;top:1324.90px;font-size:27.05px;color:#fff8ea;font-weight:normal;letter-spacing:0px;">the increased price of $28,600</div>
<div class="t" style="left:499.00px;top:499.83px;font-size:25.6px;color:#3d3f93;font-weight:bold;letter-spacing:0px;">OCTOBER</div>
<div class="t" style="left:646.00px;top:500.39px;font-size:24.35px;color:#fff;font-weight:bold;letter-spacing:0px;">BEST VALUE</div>
<div class="t" style="left:401.50px;top:738.64px;font-size:25px;color:#f5a631;font-weight:bold;letter-spacing:0px;">NOVEMBER</div>
<div class="t" style="left:561.50px;top:738.64px;font-size:25px;color:#fff;font-weight:bold;letter-spacing:0px;">GREAT VALUE</div>
<div class="t" style="left:497.50px;top:985.67px;font-size:22.6px;color:#3d3f93;font-weight:bold;letter-spacing:0px;">DECEMBER</div>
<div class="t" style="left:634.00px;top:986.18px;font-size:22px;color:#fff;font-weight:bold;letter-spacing:0px;">REALLY GOOD VALUE</div>
<div class="t" style="left:409.50px;top:1223.89px;font-size:26px;color:#f5a631;font-weight:bold;letter-spacing:0px;">JANUARY</div>
<div class="t" style="left:566.30px;top:1223.38px;font-size:26.6px;color:#3d3f93;font-weight:bold;letter-spacing:0px;">GOOD DEAL</div>
<div class="t" style="left:269.00px;top:1501.84px;font-size:25.7px;color:#fff;font-weight:normal;letter-spacing:0px;transform:scaleX(0.925);transform-origin:0 0;">775-525-9488</div>
<div class="t" style="left:513.00px;top:1504.15px;font-size:20.5px;color:#fff;font-weight:bold;letter-spacing:0.5px;">Gov</div>
<div class="t" style="left:555.50px;top:1504.57px;font-size:20px;color:#fff;font-weight:normal;letter-spacing:0px;">P</div>
<div class="t" style="left:584.50px;top:1504.57px;font-size:20px;color:#fff;font-weight:normal;letter-spacing:0.3px;">inte</div>
<div class="t" style="left:720.00px;top:1492.31px;font-size:11.8px;color:#fff;font-weight:bold;letter-spacing:0px;">hello@govpointe.com</div>
<div class="t" style="left:716.80px;top:1520.22px;font-size:11.55px;color:#fff;font-weight:bold;letter-spacing:0px;">401 Ryland St. Reno, NV 89502</div>
<div class="t" style="left:355.30px;width:30px;text-align:center;top:1560.00px;font-size:13px;color:#fff;transform:scaleX(1.15);">W</div>
<div class="t" style="left:379.26px;width:30px;text-align:center;top:1560.00px;font-size:13px;color:#fff;transform:scaleX(1.15);">W</div>
<div class="t" style="left:403.22px;width:30px;text-align:center;top:1560.00px;font-size:13px;color:#fff;transform:scaleX(1.15);">W</div>
<div class="t" style="left:427.18px;width:30px;text-align:center;top:1560.00px;font-size:13px;color:#fff;transform:scaleX(1.15);">.</div>
<div class="t" style="left:451.14px;width:30px;text-align:center;top:1560.00px;font-size:13px;color:#fff;transform:scaleX(1.15);">G</div>
<div class="t" style="left:475.10px;width:30px;text-align:center;top:1560.00px;font-size:13px;color:#fff;transform:scaleX(1.15);">O</div>
<div class="t" style="left:499.06px;width:30px;text-align:center;top:1560.00px;font-size:13px;color:#fff;transform:scaleX(1.15);">V</div>
<div class="t" style="left:523.02px;width:30px;text-align:center;top:1560.00px;font-size:13px;color:#fff;transform:scaleX(1.15);">P</div>
<div class="t" style="left:546.98px;width:30px;text-align:center;top:1560.00px;font-size:13px;color:#fff;transform:scaleX(1.15);">O</div>
<div class="t" style="left:570.94px;width:30px;text-align:center;top:1560.00px;font-size:13px;color:#fff;transform:scaleX(1.15);">I</div>
<div class="t" style="left:594.90px;width:30px;text-align:center;top:1560.00px;font-size:13px;color:#fff;transform:scaleX(1.15);">N</div>
<div class="t" style="left:618.86px;width:30px;text-align:center;top:1560.00px;font-size:13px;color:#fff;transform:scaleX(1.15);">T</div>
<div class="t" style="left:642.82px;width:30px;text-align:center;top:1560.00px;font-size:13px;color:#fff;transform:scaleX(1.15);">E</div>
<div class="t" style="left:666.78px;width:30px;text-align:center;top:1560.00px;font-size:13px;color:#fff;transform:scaleX(1.15);">.</div>
<div class="t" style="left:690.74px;width:30px;text-align:center;top:1560.00px;font-size:13px;color:#fff;transform:scaleX(1.15);">C</div>
<div class="t" style="left:714.70px;width:30px;text-align:center;top:1560.00px;font-size:13px;color:#fff;transform:scaleX(1.15);">O</div>
<div class="t" style="left:738.66px;width:30px;text-align:center;top:1560.00px;font-size:13px;color:#fff;transform:scaleX(1.15);">M</div>
</body></html>
